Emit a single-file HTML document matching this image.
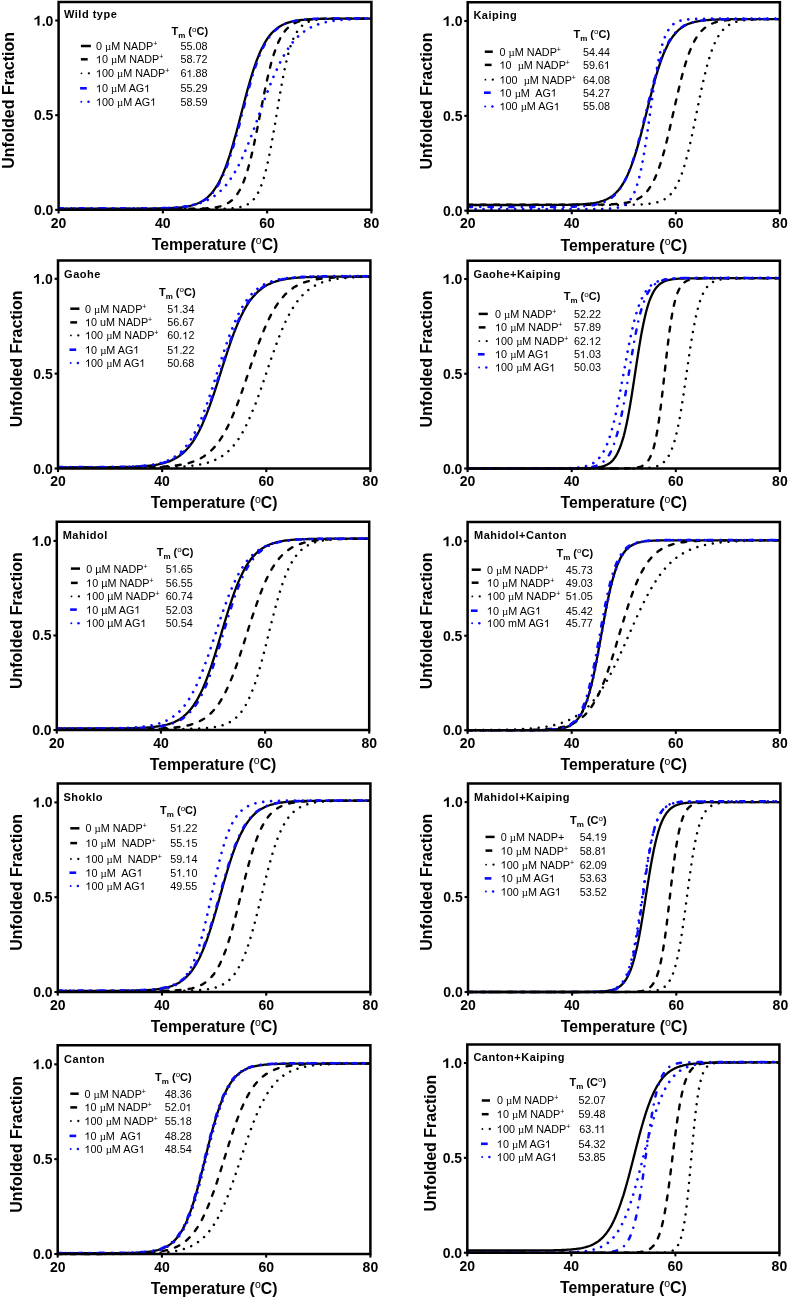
<!DOCTYPE html>
<html><head><meta charset="utf-8"><style>
html,body{margin:0;padding:0;background:#fff;overflow:hidden;}
svg{display:block;will-change:transform;}
text{font-family:"Liberation Sans", sans-serif;fill:#000;}
.tk{font-size:14px;font-weight:bold;}
.ax{font-size:15.8px;font-weight:bold;}
.ay{font-size:16px;font-weight:bold;}
.deg{font-size:10.5px;font-weight:normal;}
.ttl{font-size:11px;font-weight:bold;letter-spacing:0.5px;}
.hdr{font-size:11px;font-weight:bold;}
.sub{font-size:8px;}
.deg2{font-size:8px;font-weight:normal;}
.lg{font-size:10.8px;}
.sup{font-size:7px;}
.mu{font-family:"Liberation Serif",serif;}
.one{fill:transparent;}
</style></head>
<body><svg width="790" height="1299" viewBox="0 0 790 1299">
<rect width="790" height="1299" fill="#fff"/>
<clipPath id="c0"><rect x="58.60" y="2.00" width="312.80" height="209.85"/></clipPath>
<g clip-path="url(#c0)">
<polyline fill="none" stroke="#000" stroke-width="2.3" stroke-linecap="butt" stroke-linejoin="round" points="58.6,208.7 59.9,208.7 61.2,208.7 62.5,208.7 63.8,208.7 65.1,208.7 66.4,208.7 67.7,208.7 69.0,208.7 70.3,208.7 71.6,208.7 72.9,208.7 74.2,208.7 75.5,208.7 76.8,208.7 78.2,208.7 79.5,208.7 80.8,208.7 82.1,208.7 83.4,208.7 84.7,208.7 86.0,208.7 87.3,208.7 88.6,208.7 89.9,208.7 91.2,208.7 92.5,208.7 93.8,208.7 95.1,208.7 96.4,208.7 97.7,208.7 99.0,208.7 100.3,208.7 101.6,208.7 102.9,208.7 104.2,208.7 105.5,208.7 106.8,208.7 108.1,208.7 109.4,208.7 110.7,208.7 112.0,208.7 113.3,208.7 114.6,208.7 115.9,208.7 117.2,208.7 118.6,208.7 119.9,208.7 121.2,208.7 122.5,208.7 123.8,208.7 125.1,208.7 126.4,208.7 127.7,208.7 129.0,208.7 130.3,208.7 131.6,208.7 132.9,208.7 134.2,208.7 135.5,208.7 136.8,208.7 138.1,208.7 139.4,208.7 140.7,208.7 142.0,208.7 143.3,208.6 144.6,208.6 145.9,208.6 147.2,208.6 148.5,208.6 149.8,208.6 151.1,208.6 152.4,208.6 153.7,208.6 155.0,208.5 156.3,208.5 157.7,208.5 159.0,208.5 160.3,208.5 161.6,208.4 162.9,208.4 164.2,208.4 165.5,208.3 166.8,208.3 168.1,208.2 169.4,208.2 170.7,208.1 172.0,208.0 173.3,208.0 174.6,207.9 175.9,207.8 177.2,207.7 178.5,207.6 179.8,207.5 181.1,207.3 182.4,207.2 183.7,207.0 185.0,206.8 186.3,206.6 187.6,206.3 188.9,206.1 190.2,205.8 191.5,205.5 192.8,205.1 194.1,204.7 195.4,204.3 196.8,203.8 198.1,203.3 199.4,202.7 200.7,202.0 202.0,201.3 203.3,200.5 204.6,199.6 205.9,198.7 207.2,197.6 208.5,196.4 209.8,195.1 211.1,193.7 212.4,192.2 213.7,190.5 215.0,188.7 216.3,186.7 217.6,184.6 218.9,182.2 220.2,179.7 221.5,177.0 222.8,174.1 224.1,171.0 225.4,167.7 226.7,164.1 228.0,160.4 229.3,156.5 230.6,152.3 231.9,148.0 233.2,143.6 234.5,138.9 235.9,134.2 237.2,129.3 238.5,124.3 239.8,119.3 241.1,114.3 242.4,109.2 243.7,104.2 245.0,99.2 246.3,94.3 247.6,89.5 248.9,84.9 250.2,80.3 251.5,76.0 252.8,71.8 254.1,67.8 255.4,64.1 256.7,60.5 258.0,57.1 259.3,54.0 260.6,51.0 261.9,48.2 263.2,45.7 264.5,43.3 265.8,41.1 267.1,39.1 268.4,37.2 269.7,35.5 271.0,33.9 272.3,32.5 273.6,31.2 275.0,30.0 276.3,28.9 277.6,27.9 278.9,27.0 280.2,26.2 281.5,25.5 282.8,24.8 284.1,24.2 285.4,23.6 286.7,23.1 288.0,22.7 289.3,22.3 290.6,21.9 291.9,21.6 293.2,21.3 294.5,21.0 295.8,20.8 297.1,20.6 298.4,20.4 299.7,20.2 301.0,20.0 302.3,19.9 303.6,19.8 304.9,19.6 306.2,19.5 307.5,19.5 308.8,19.4 310.1,19.3 311.4,19.2 312.8,19.2 314.1,19.1 315.4,19.1 316.7,19.0 318.0,19.0 319.3,18.9 320.6,18.9 321.9,18.9 323.2,18.8 324.5,18.8 325.8,18.8 327.1,18.8 328.4,18.8 329.7,18.7 331.0,18.7 332.3,18.7 333.6,18.7 334.9,18.7 336.2,18.7 337.5,18.7 338.8,18.7 340.1,18.7 341.4,18.7 342.7,18.7 344.0,18.6 345.3,18.6 346.6,18.6 347.9,18.6 349.2,18.6 350.5,18.6 351.9,18.6 353.2,18.6 354.5,18.6 355.8,18.6 357.1,18.6 358.4,18.6 359.7,18.6 361.0,18.6 362.3,18.6 363.6,18.6 364.9,18.6 366.2,18.6 367.5,18.6 368.8,18.6 370.1,18.6 371.4,18.6"/>
<polyline fill="none" stroke="#000" stroke-width="2.4" stroke-linecap="round" stroke-linejoin="round" stroke-dasharray="4.9 8.2" points="58.6,208.9 59.9,208.9 61.2,208.9 62.5,208.9 63.8,208.9 65.1,208.9 66.4,208.9 67.7,208.9 69.0,208.9 70.3,208.9 71.6,208.9 72.9,208.9 74.2,208.9 75.5,208.9 76.8,208.9 78.2,208.9 79.5,208.9 80.8,208.9 82.1,208.9 83.4,208.9 84.7,208.9 86.0,208.9 87.3,208.9 88.6,208.9 89.9,208.9 91.2,208.9 92.5,208.9 93.8,208.9 95.1,208.9 96.4,208.9 97.7,208.9 99.0,208.9 100.3,208.9 101.6,208.9 102.9,208.9 104.2,208.9 105.5,208.9 106.8,208.9 108.1,208.9 109.4,208.9 110.7,208.9 112.0,208.9 113.3,208.9 114.6,208.9 115.9,208.9 117.2,208.9 118.6,208.9 119.9,208.9 121.2,208.9 122.5,208.9 123.8,208.9 125.1,208.9 126.4,208.9 127.7,208.9 129.0,208.9 130.3,208.9 131.6,208.9 132.9,208.9 134.2,208.9 135.5,208.9 136.8,208.9 138.1,208.9 139.4,208.9 140.7,208.9 142.0,208.9 143.3,208.9 144.6,208.9 145.9,208.9 147.2,208.9 148.5,208.9 149.8,208.9 151.1,208.9 152.4,208.9 153.7,208.9 155.0,208.9 156.3,208.9 157.7,208.9 159.0,208.9 160.3,208.9 161.6,208.9 162.9,208.9 164.2,208.9 165.5,208.9 166.8,208.9 168.1,208.9 169.4,208.9 170.7,208.9 172.0,208.9 173.3,208.9 174.6,208.9 175.9,208.9 177.2,208.9 178.5,208.9 179.8,208.9 181.1,208.9 182.4,208.9 183.7,208.9 185.0,208.8 186.3,208.8 187.6,208.8 188.9,208.8 190.2,208.8 191.5,208.8 192.8,208.8 194.1,208.7 195.4,208.7 196.8,208.7 198.1,208.7 199.4,208.6 200.7,208.6 202.0,208.5 203.3,208.5 204.6,208.4 205.9,208.4 207.2,208.3 208.5,208.2 209.8,208.1 211.1,208.0 212.4,207.8 213.7,207.6 215.0,207.5 216.3,207.2 217.6,207.0 218.9,206.7 220.2,206.4 221.5,206.0 222.8,205.6 224.1,205.1 225.4,204.5 226.7,203.9 228.0,203.1 229.3,202.3 230.6,201.3 231.9,200.3 233.2,199.0 234.5,197.6 235.9,196.0 237.2,194.2 238.5,192.2 239.8,190.0 241.1,187.4 242.4,184.6 243.7,181.5 245.0,178.0 246.3,174.2 247.6,170.0 248.9,165.5 250.2,160.6 251.5,155.4 252.8,149.8 254.1,143.9 255.4,137.8 256.7,131.5 258.0,124.9 259.3,118.3 260.6,111.6 261.9,105.0 263.2,98.4 264.5,92.0 265.8,85.7 267.1,79.8 268.4,74.1 269.7,68.7 271.0,63.7 272.3,59.1 273.6,54.8 275.0,50.8 276.3,47.3 277.6,44.0 278.9,41.1 280.2,38.4 281.5,36.1 282.8,34.0 284.1,32.1 285.4,30.4 286.7,29.0 288.0,27.7 289.3,26.5 290.6,25.5 291.9,24.7 293.2,23.9 294.5,23.2 295.8,22.6 297.1,22.1 298.4,21.7 299.7,21.3 301.0,20.9 302.3,20.6 303.6,20.4 304.9,20.1 306.2,19.9 307.5,19.8 308.8,19.6 310.1,19.5 311.4,19.4 312.8,19.3 314.1,19.2 315.4,19.1 316.7,19.0 318.0,19.0 319.3,18.9 320.6,18.9 321.9,18.9 323.2,18.8 324.5,18.8 325.8,18.8 327.1,18.7 328.4,18.7 329.7,18.7 331.0,18.7 332.3,18.7 333.6,18.7 334.9,18.7 336.2,18.7 337.5,18.7 338.8,18.6 340.1,18.6 341.4,18.6 342.7,18.6 344.0,18.6 345.3,18.6 346.6,18.6 347.9,18.6 349.2,18.6 350.5,18.6 351.9,18.6 353.2,18.6 354.5,18.6 355.8,18.6 357.1,18.6 358.4,18.6 359.7,18.6 361.0,18.6 362.3,18.6 363.6,18.6 364.9,18.6 366.2,18.6 367.5,18.6 368.8,18.6 370.1,18.6 371.4,18.6"/>
<polyline fill="none" stroke="#000" stroke-width="2.5" stroke-linecap="round" stroke-linejoin="round" stroke-dasharray="0.01 7.9" points="58.6,208.9 59.9,208.9 61.2,208.9 62.5,208.9 63.8,208.9 65.1,208.9 66.4,208.9 67.7,208.9 69.0,208.9 70.3,208.9 71.6,208.9 72.9,208.9 74.2,208.9 75.5,208.9 76.8,208.9 78.2,208.9 79.5,208.9 80.8,208.9 82.1,208.9 83.4,208.9 84.7,208.9 86.0,208.9 87.3,208.9 88.6,208.9 89.9,208.9 91.2,208.9 92.5,208.9 93.8,208.9 95.1,208.9 96.4,208.9 97.7,208.9 99.0,208.9 100.3,208.9 101.6,208.9 102.9,208.9 104.2,208.9 105.5,208.9 106.8,208.9 108.1,208.9 109.4,208.9 110.7,208.9 112.0,208.9 113.3,208.9 114.6,208.9 115.9,208.9 117.2,208.9 118.6,208.9 119.9,208.9 121.2,208.9 122.5,208.9 123.8,208.9 125.1,208.9 126.4,208.9 127.7,208.9 129.0,208.9 130.3,208.9 131.6,208.9 132.9,208.9 134.2,208.9 135.5,208.9 136.8,208.9 138.1,208.9 139.4,208.9 140.7,208.9 142.0,208.9 143.3,208.9 144.6,208.9 145.9,208.9 147.2,208.9 148.5,208.9 149.8,208.9 151.1,208.9 152.4,208.9 153.7,208.9 155.0,208.9 156.3,208.9 157.7,208.9 159.0,208.9 160.3,208.9 161.6,208.9 162.9,208.9 164.2,208.9 165.5,208.9 166.8,208.9 168.1,208.9 169.4,208.9 170.7,208.9 172.0,208.9 173.3,208.9 174.6,208.9 175.9,208.9 177.2,208.9 178.5,208.9 179.8,208.9 181.1,208.9 182.4,208.9 183.7,208.9 185.0,208.9 186.3,208.9 187.6,208.9 188.9,208.9 190.2,208.9 191.5,208.9 192.8,208.9 194.1,208.9 195.4,208.9 196.8,208.9 198.1,208.9 199.4,208.9 200.7,208.9 202.0,208.9 203.3,208.9 204.6,208.9 205.9,208.9 207.2,208.9 208.5,208.9 209.8,208.9 211.1,208.9 212.4,208.9 213.7,208.8 215.0,208.8 216.3,208.8 217.6,208.8 218.9,208.8 220.2,208.8 221.5,208.7 222.8,208.7 224.1,208.7 225.4,208.6 226.7,208.6 228.0,208.5 229.3,208.5 230.6,208.4 231.9,208.3 233.2,208.2 234.5,208.0 235.9,207.9 237.2,207.7 238.5,207.5 239.8,207.2 241.1,206.9 242.4,206.6 243.7,206.1 245.0,205.7 246.3,205.1 247.6,204.4 248.9,203.6 250.2,202.7 251.5,201.6 252.8,200.3 254.1,198.9 255.4,197.1 256.7,195.2 258.0,192.9 259.3,190.3 260.6,187.3 261.9,183.9 263.2,180.0 264.5,175.7 265.8,170.9 267.1,165.5 268.4,159.7 269.7,153.4 271.0,146.6 272.3,139.4 273.6,131.9 275.0,124.2 276.3,116.3 277.6,108.4 278.9,100.5 280.2,92.9 281.5,85.5 282.8,78.4 284.1,71.8 285.4,65.7 286.7,60.0 288.0,54.9 289.3,50.2 290.6,46.1 291.9,42.4 293.2,39.1 294.5,36.3 295.8,33.8 297.1,31.6 298.4,29.7 299.7,28.1 301.0,26.7 302.3,25.5 303.6,24.5 304.9,23.6 306.2,22.9 307.5,22.2 308.8,21.7 310.1,21.2 311.4,20.8 312.8,20.5 314.1,20.2 315.4,19.9 316.7,19.7 318.0,19.6 319.3,19.4 320.6,19.3 321.9,19.2 323.2,19.1 324.5,19.0 325.8,19.0 327.1,18.9 328.4,18.9 329.7,18.8 331.0,18.8 332.3,18.8 333.6,18.7 334.9,18.7 336.2,18.7 337.5,18.7 338.8,18.7 340.1,18.7 341.4,18.7 342.7,18.6 344.0,18.6 345.3,18.6 346.6,18.6 347.9,18.6 349.2,18.6 350.5,18.6 351.9,18.6 353.2,18.6 354.5,18.6 355.8,18.6 357.1,18.6 358.4,18.6 359.7,18.6 361.0,18.6 362.3,18.6 363.6,18.6 364.9,18.6 366.2,18.6 367.5,18.6 368.8,18.6 370.1,18.6 371.4,18.6"/>
<polyline fill="none" stroke="#0a0aff" stroke-width="2.5" stroke-linecap="round" stroke-linejoin="round" stroke-dasharray="4.3 8.25 0.01 8.25" points="58.6,208.3 59.9,208.3 61.2,208.3 62.5,208.3 63.8,208.3 65.1,208.3 66.4,208.3 67.7,208.3 69.0,208.3 70.3,208.3 71.6,208.3 72.9,208.3 74.2,208.3 75.5,208.3 76.8,208.3 78.2,208.3 79.5,208.3 80.8,208.3 82.1,208.3 83.4,208.3 84.7,208.3 86.0,208.3 87.3,208.3 88.6,208.3 89.9,208.3 91.2,208.3 92.5,208.3 93.8,208.3 95.1,208.3 96.4,208.3 97.7,208.3 99.0,208.3 100.3,208.3 101.6,208.3 102.9,208.3 104.2,208.3 105.5,208.3 106.8,208.3 108.1,208.3 109.4,208.3 110.7,208.3 112.0,208.3 113.3,208.3 114.6,208.3 115.9,208.3 117.2,208.3 118.6,208.3 119.9,208.3 121.2,208.3 122.5,208.3 123.8,208.3 125.1,208.3 126.4,208.3 127.7,208.3 129.0,208.3 130.3,208.3 131.6,208.3 132.9,208.3 134.2,208.3 135.5,208.3 136.8,208.3 138.1,208.3 139.4,208.3 140.7,208.3 142.0,208.3 143.3,208.3 144.6,208.3 145.9,208.3 147.2,208.3 148.5,208.2 149.8,208.2 151.1,208.2 152.4,208.2 153.7,208.2 155.0,208.2 156.3,208.2 157.7,208.1 159.0,208.1 160.3,208.1 161.6,208.1 162.9,208.0 164.2,208.0 165.5,208.0 166.8,207.9 168.1,207.9 169.4,207.8 170.7,207.8 172.0,207.7 173.3,207.7 174.6,207.6 175.9,207.5 177.2,207.4 178.5,207.3 179.8,207.2 181.1,207.1 182.4,206.9 183.7,206.8 185.0,206.6 186.3,206.4 187.6,206.2 188.9,205.9 190.2,205.7 191.5,205.4 192.8,205.0 194.1,204.7 195.4,204.3 196.8,203.8 198.1,203.3 199.4,202.8 200.7,202.2 202.0,201.5 203.3,200.8 204.6,200.0 205.9,199.1 207.2,198.1 208.5,197.0 209.8,195.9 211.1,194.6 212.4,193.1 213.7,191.6 215.0,189.9 216.3,188.0 217.6,186.0 218.9,183.8 220.2,181.5 221.5,178.9 222.8,176.2 224.1,173.2 225.4,170.1 226.7,166.7 228.0,163.2 229.3,159.4 230.6,155.4 231.9,151.3 233.2,146.9 234.5,142.4 235.9,137.8 237.2,133.0 238.5,128.1 239.8,123.2 241.1,118.1 242.4,113.1 243.7,108.0 245.0,103.0 246.3,98.0 247.6,93.2 248.9,88.4 250.2,83.8 251.5,79.3 252.8,74.9 254.1,70.8 255.4,66.9 256.7,63.1 258.0,59.6 259.3,56.2 260.6,53.1 261.9,50.2 263.2,47.4 264.5,44.9 265.8,42.6 267.1,40.4 268.4,38.4 269.7,36.5 271.0,34.9 272.3,33.3 273.6,31.9 275.0,30.6 276.3,29.4 277.6,28.4 278.9,27.4 280.2,26.5 281.5,25.7 282.8,25.0 284.1,24.3 285.4,23.7 286.7,23.2 288.0,22.7 289.3,22.3 290.6,21.9 291.9,21.5 293.2,21.2 294.5,20.9 295.8,20.6 297.1,20.4 298.4,20.2 299.7,20.0 301.0,19.8 302.3,19.6 303.6,19.5 304.9,19.4 306.2,19.3 307.5,19.2 308.8,19.1 310.1,19.0 311.4,18.9 312.8,18.8 314.1,18.8 315.4,18.7 316.7,18.7 318.0,18.6 319.3,18.6 320.6,18.5 321.9,18.5 323.2,18.5 324.5,18.5 325.8,18.4 327.1,18.4 328.4,18.4 329.7,18.4 331.0,18.4 332.3,18.4 333.6,18.3 334.9,18.3 336.2,18.3 337.5,18.3 338.8,18.3 340.1,18.3 341.4,18.3 342.7,18.3 344.0,18.3 345.3,18.3 346.6,18.3 347.9,18.3 349.2,18.3 350.5,18.3 351.9,18.3 353.2,18.3 354.5,18.2 355.8,18.2 357.1,18.2 358.4,18.2 359.7,18.2 361.0,18.2 362.3,18.2 363.6,18.2 364.9,18.2 366.2,18.2 367.5,18.2 368.8,18.2 370.1,18.2 371.4,18.2"/>
<polyline fill="none" stroke="#0a0aff" stroke-width="2.7" stroke-linecap="round" stroke-linejoin="round" stroke-dasharray="0.01 7.9" points="58.6,208.9 59.9,208.9 61.2,208.9 62.5,208.9 63.8,208.9 65.1,208.9 66.4,208.9 67.7,208.9 69.0,208.9 70.3,208.9 71.6,208.9 72.9,208.9 74.2,208.9 75.5,208.9 76.8,208.9 78.2,208.9 79.5,208.9 80.8,208.9 82.1,208.9 83.4,208.9 84.7,208.9 86.0,208.9 87.3,208.9 88.6,208.9 89.9,208.9 91.2,208.9 92.5,208.9 93.8,208.9 95.1,208.9 96.4,208.9 97.7,208.9 99.0,208.9 100.3,208.9 101.6,208.9 102.9,208.9 104.2,208.9 105.5,208.9 106.8,208.9 108.1,208.9 109.4,208.9 110.7,208.9 112.0,208.9 113.3,208.9 114.6,208.9 115.9,208.9 117.2,208.9 118.6,208.9 119.9,208.8 121.2,208.8 122.5,208.8 123.8,208.8 125.1,208.8 126.4,208.8 127.7,208.8 129.0,208.8 130.3,208.8 131.6,208.8 132.9,208.8 134.2,208.8 135.5,208.8 136.8,208.8 138.1,208.7 139.4,208.7 140.7,208.7 142.0,208.7 143.3,208.7 144.6,208.7 145.9,208.6 147.2,208.6 148.5,208.6 149.8,208.6 151.1,208.6 152.4,208.5 153.7,208.5 155.0,208.5 156.3,208.4 157.7,208.4 159.0,208.4 160.3,208.3 161.6,208.3 162.9,208.2 164.2,208.2 165.5,208.1 166.8,208.0 168.1,208.0 169.4,207.9 170.7,207.8 172.0,207.7 173.3,207.6 174.6,207.5 175.9,207.4 177.2,207.3 178.5,207.2 179.8,207.1 181.1,206.9 182.4,206.8 183.7,206.6 185.0,206.4 186.3,206.2 187.6,206.0 188.9,205.8 190.2,205.6 191.5,205.3 192.8,205.0 194.1,204.7 195.4,204.4 196.8,204.1 198.1,203.7 199.4,203.3 200.7,202.9 202.0,202.4 203.3,201.9 204.6,201.4 205.9,200.8 207.2,200.2 208.5,199.6 209.8,198.9 211.1,198.1 212.4,197.3 213.7,196.5 215.0,195.6 216.3,194.6 217.6,193.6 218.9,192.5 220.2,191.3 221.5,190.0 222.8,188.7 224.1,187.3 225.4,185.8 226.7,184.2 228.0,182.6 229.3,180.8 230.6,178.9 231.9,177.0 233.2,174.9 234.5,172.7 235.9,170.4 237.2,168.1 238.5,165.6 239.8,163.0 241.1,160.3 242.4,157.5 243.7,154.6 245.0,151.6 246.3,148.5 247.6,145.4 248.9,142.1 250.2,138.8 251.5,135.4 252.8,132.0 254.1,128.5 255.4,124.9 256.7,121.3 258.0,117.8 259.3,114.1 260.6,110.5 261.9,106.9 263.2,103.3 264.5,99.8 265.8,96.3 267.1,92.8 268.4,89.4 269.7,86.1 271.0,82.8 272.3,79.6 273.6,76.5 275.0,73.5 276.3,70.5 277.6,67.7 278.9,65.0 280.2,62.4 281.5,59.8 282.8,57.4 284.1,55.1 285.4,52.9 286.7,50.8 288.0,48.8 289.3,46.9 290.6,45.1 291.9,43.4 293.2,41.8 294.5,40.3 295.8,38.9 297.1,37.5 298.4,36.2 299.7,35.0 301.0,33.9 302.3,32.9 303.6,31.9 304.9,30.9 306.2,30.1 307.5,29.3 308.8,28.5 310.1,27.8 311.4,27.1 312.8,26.5 314.1,25.9 315.4,25.4 316.7,24.9 318.0,24.4 319.3,24.0 320.6,23.6 321.9,23.2 323.2,22.8 324.5,22.5 325.8,22.2 327.1,21.9 328.4,21.6 329.7,21.4 331.0,21.2 332.3,21.0 333.6,20.8 334.9,20.6 336.2,20.4 337.5,20.3 338.8,20.1 340.1,20.0 341.4,19.8 342.7,19.7 344.0,19.6 345.3,19.5 346.6,19.4 347.9,19.3 349.2,19.3 350.5,19.2 351.9,19.1 353.2,19.0 354.5,19.0 355.8,18.9 357.1,18.9 358.4,18.8 359.7,18.8 361.0,18.8 362.3,18.7 363.6,18.7 364.9,18.6 366.2,18.6 367.5,18.6 368.8,18.6 370.1,18.5 371.4,18.5"/>
</g>
<path d="M58.60,209.85 V2.00 H371.40 V209.85 Z" fill="none" stroke="#000" stroke-width="2.5"/>
<line x1="55.20" y1="209.85" x2="58.60" y2="209.85" stroke="#000" stroke-width="2.1"/>
<text x="53.40" y="214.85" text-anchor="end" class="tk">0.0</text>
<line x1="55.20" y1="115.17" x2="58.60" y2="115.17" stroke="#000" stroke-width="2.1"/>
<text x="53.40" y="120.17" text-anchor="end" class="tk">0.5</text>
<line x1="55.20" y1="20.50" x2="58.60" y2="20.50" stroke="#000" stroke-width="2.1"/>
<text x="53.40" y="25.50" text-anchor="end" class="tk"><tspan class="one">1</tspan>.0</text>
<line x1="58.60" y1="209.85" x2="58.60" y2="213.45" stroke="#000" stroke-width="2.1"/>
<text x="58.60" y="227.65" text-anchor="middle" class="tk">20</text>
<line x1="162.87" y1="209.85" x2="162.87" y2="213.45" stroke="#000" stroke-width="2.1"/>
<text x="162.87" y="227.65" text-anchor="middle" class="tk">40</text>
<line x1="267.13" y1="209.85" x2="267.13" y2="213.45" stroke="#000" stroke-width="2.1"/>
<text x="267.13" y="227.65" text-anchor="middle" class="tk">60</text>
<line x1="371.40" y1="209.85" x2="371.40" y2="213.45" stroke="#000" stroke-width="2.1"/>
<text x="371.40" y="227.65" text-anchor="middle" class="tk">80</text>
<text x="215.00" y="249.75" text-anchor="middle" class="ax">Temperature (<tspan class="deg" dy="-5.5">o</tspan><tspan dy="5.5">C)</tspan></text>
<text transform="translate(14.40,100.38) rotate(-90)" text-anchor="middle" class="ay">Unfolded Fraction</text>
<text x="64.00" y="17.80" class="ttl">Wild type</text>
<text x="208.10" y="35.00" text-anchor="end" class="hdr">T<tspan class="sub" dy="3">m</tspan><tspan dy="-3"> (</tspan><tspan class="deg2" dy="-3.5">o</tspan><tspan dy="3.5">C)</tspan></text>
<line x1="80.90" y1="46.00" x2="90.90" y2="46.00" stroke="#000" stroke-width="2.5"/>
<text x="96.00" y="49.90" class="lg" xml:space="preserve">0 <tspan class="mu">µ</tspan>M NADP<tspan class="sup" dy="-4">+</tspan></text>
<text x="207.60" y="49.90" text-anchor="end" class="lg">55.08</text>
<line x1="80.90" y1="59.30" x2="87.70" y2="59.30" stroke="#000" stroke-width="2.5"/>
<text x="96.00" y="63.20" class="lg" xml:space="preserve"><tspan class="one">1</tspan>0 <tspan class="mu">µ</tspan>M NADP<tspan class="sup" dy="-4">+</tspan></text>
<text x="207.60" y="63.20" text-anchor="end" class="lg">58.72</text>
<circle cx="81.50" cy="73.30" r="0.9" fill="#000"/><circle cx="88.90" cy="73.30" r="1.15" fill="#000"/>
<text x="96.00" y="77.20" class="lg" xml:space="preserve"><tspan class="one">1</tspan>00 <tspan class="mu">µ</tspan>M NADP<tspan class="sup" dy="-4">+</tspan></text>
<text x="207.60" y="77.20" text-anchor="end" class="lg">6<tspan class="one">1</tspan>.88</text>
<line x1="80.10" y1="88.30" x2="86.80" y2="88.30" stroke="#0a0aff" stroke-width="2.6"/>
<text x="96.00" y="92.20" class="lg" xml:space="preserve"><tspan class="one">1</tspan>0 <tspan class="mu">µ</tspan>M AG<tspan class="one">1</tspan></text>
<text x="207.60" y="92.20" text-anchor="end" class="lg">55.29</text>
<circle cx="81.30" cy="101.80" r="1.0" fill="#0a0aff"/><circle cx="88.50" cy="101.80" r="1.25" fill="#0a0aff"/>
<text x="96.00" y="105.70" class="lg" xml:space="preserve"><tspan class="one">1</tspan>00 <tspan class="mu">µ</tspan>M AG<tspan class="one">1</tspan></text>
<text x="207.60" y="105.70" text-anchor="end" class="lg">58.59</text>
<clipPath id="c1"><rect x="467.70" y="2.20" width="312.20" height="210.45"/></clipPath>
<g clip-path="url(#c1)">
<polyline fill="none" stroke="#000" stroke-width="2.3" stroke-linecap="butt" stroke-linejoin="round" points="467.7,205.0 469.0,205.0 470.3,205.0 471.6,205.0 472.9,205.0 474.2,205.0 475.5,205.0 476.8,205.0 478.1,205.0 479.4,205.0 480.7,205.0 482.0,205.0 483.3,205.0 484.6,205.0 485.9,205.0 487.2,205.0 488.5,205.0 489.8,205.0 491.1,205.0 492.4,205.0 493.7,205.0 495.0,205.0 496.3,205.0 497.6,205.0 498.9,205.0 500.2,205.0 501.5,205.0 502.8,205.0 504.1,205.0 505.4,205.0 506.7,205.0 508.0,205.0 509.3,205.0 510.6,205.0 511.9,205.0 513.2,205.0 514.5,205.0 515.8,205.0 517.1,205.0 518.4,205.0 519.7,205.0 521.0,205.0 522.3,205.0 523.6,205.0 524.9,205.0 526.2,205.0 527.5,205.0 528.8,205.0 530.1,205.0 531.4,205.0 532.7,205.0 534.0,204.9 535.3,204.9 536.6,204.9 537.9,204.9 539.2,204.9 540.5,204.9 541.8,204.9 543.1,204.9 544.4,204.9 545.8,204.9 547.1,204.9 548.4,204.9 549.7,204.9 551.0,204.9 552.3,204.9 553.6,204.9 554.9,204.9 556.2,204.9 557.5,204.9 558.8,204.9 560.1,204.9 561.4,204.8 562.7,204.8 564.0,204.8 565.3,204.8 566.6,204.8 567.9,204.8 569.2,204.7 570.5,204.7 571.8,204.7 573.1,204.6 574.4,204.6 575.7,204.6 577.0,204.5 578.3,204.5 579.6,204.4 580.9,204.3 582.2,204.3 583.5,204.2 584.8,204.1 586.1,204.0 587.4,203.9 588.7,203.7 590.0,203.6 591.3,203.4 592.6,203.3 593.9,203.1 595.2,202.8 596.5,202.6 597.8,202.3 599.1,202.0 600.4,201.6 601.7,201.2 603.0,200.8 604.3,200.3 605.6,199.8 606.9,199.2 608.2,198.5 609.5,197.8 610.8,197.0 612.1,196.1 613.4,195.1 614.7,194.0 616.0,192.7 617.3,191.4 618.6,189.9 619.9,188.3 621.2,186.5 622.5,184.5 623.8,182.4 625.1,180.0 626.4,177.5 627.7,174.8 629.0,171.8 630.3,168.6 631.6,165.2 632.9,161.6 634.2,157.7 635.5,153.6 636.8,149.4 638.1,144.9 639.4,140.2 640.7,135.4 642.0,130.4 643.3,125.3 644.6,120.2 645.9,115.0 647.2,109.7 648.5,104.5 649.8,99.3 651.1,94.3 652.4,89.3 653.7,84.4 655.0,79.7 656.3,75.2 657.6,70.9 658.9,66.8 660.2,62.9 661.5,59.3 662.8,55.8 664.1,52.6 665.4,49.7 666.7,46.9 668.0,44.3 669.3,42.0 670.6,39.8 671.9,37.8 673.2,36.0 674.5,34.4 675.8,32.9 677.1,31.5 678.4,30.2 679.7,29.1 681.0,28.1 682.3,27.2 683.6,26.4 684.9,25.6 686.2,24.9 687.5,24.3 688.8,23.8 690.1,23.3 691.4,22.9 692.7,22.5 694.0,22.1 695.3,21.8 696.6,21.5 697.9,21.3 699.2,21.0 700.5,20.8 701.8,20.7 703.2,20.5 704.5,20.3 705.8,20.2 707.1,20.1 708.4,20.0 709.7,19.9 711.0,19.8 712.3,19.7 713.6,19.7 714.9,19.6 716.2,19.6 717.5,19.5 718.8,19.5 720.1,19.4 721.4,19.4 722.7,19.4 724.0,19.3 725.3,19.3 726.6,19.3 727.9,19.3 729.2,19.3 730.5,19.2 731.8,19.2 733.1,19.2 734.4,19.2 735.7,19.2 737.0,19.2 738.3,19.2 739.6,19.2 740.9,19.2 742.2,19.2 743.5,19.1 744.8,19.1 746.1,19.1 747.4,19.1 748.7,19.1 750.0,19.1 751.3,19.1 752.6,19.1 753.9,19.1 755.2,19.1 756.5,19.1 757.8,19.1 759.1,19.1 760.4,19.1 761.7,19.1 763.0,19.1 764.3,19.1 765.6,19.1 766.9,19.1 768.2,19.1 769.5,19.1 770.8,19.1 772.1,19.1 773.4,19.1 774.7,19.1 776.0,19.1 777.3,19.1 778.6,19.1 779.9,19.1"/>
<polyline fill="none" stroke="#000" stroke-width="2.4" stroke-linecap="round" stroke-linejoin="round" stroke-dasharray="4.9 8.2" points="467.7,204.8 469.0,204.8 470.3,204.8 471.6,204.8 472.9,204.8 474.2,204.8 475.5,204.8 476.8,204.8 478.1,204.8 479.4,204.8 480.7,204.8 482.0,204.8 483.3,204.8 484.6,204.8 485.9,204.8 487.2,204.8 488.5,204.8 489.8,204.8 491.1,204.8 492.4,204.8 493.7,204.8 495.0,204.8 496.3,204.8 497.6,204.8 498.9,204.8 500.2,204.8 501.5,204.8 502.8,204.8 504.1,204.8 505.4,204.8 506.7,204.8 508.0,204.8 509.3,204.8 510.6,204.8 511.9,204.8 513.2,204.8 514.5,204.8 515.8,204.8 517.1,204.8 518.4,204.8 519.7,204.8 521.0,204.8 522.3,204.8 523.6,204.8 524.9,204.8 526.2,204.8 527.5,204.8 528.8,204.8 530.1,204.8 531.4,204.8 532.7,204.8 534.0,204.8 535.3,204.8 536.6,204.8 537.9,204.8 539.2,204.8 540.5,204.8 541.8,204.8 543.1,204.8 544.4,204.8 545.8,204.8 547.1,204.8 548.4,204.8 549.7,204.8 551.0,204.8 552.3,204.8 553.6,204.8 554.9,204.8 556.2,204.8 557.5,204.8 558.8,204.8 560.1,204.8 561.4,204.8 562.7,204.8 564.0,204.8 565.3,204.8 566.6,204.8 567.9,204.8 569.2,204.8 570.5,204.8 571.8,204.8 573.1,204.8 574.4,204.8 575.7,204.8 577.0,204.8 578.3,204.8 579.6,204.7 580.9,204.7 582.2,204.7 583.5,204.7 584.8,204.7 586.1,204.7 587.4,204.7 588.7,204.7 590.0,204.7 591.3,204.7 592.6,204.7 593.9,204.7 595.2,204.7 596.5,204.7 597.8,204.6 599.1,204.6 600.4,204.6 601.7,204.6 603.0,204.6 604.3,204.5 605.6,204.5 606.9,204.5 608.2,204.4 609.5,204.4 610.8,204.3 612.1,204.3 613.4,204.2 614.7,204.1 616.0,204.0 617.3,203.9 618.6,203.8 619.9,203.7 621.2,203.6 622.5,203.4 623.8,203.2 625.1,203.0 626.4,202.8 627.7,202.5 629.0,202.2 630.3,201.9 631.6,201.5 632.9,201.1 634.2,200.6 635.5,200.1 636.8,199.5 638.1,198.8 639.4,198.0 640.7,197.2 642.0,196.2 643.3,195.1 644.6,193.9 645.9,192.6 647.2,191.1 648.5,189.4 649.8,187.5 651.1,185.5 652.4,183.2 653.7,180.7 655.0,178.0 656.3,175.0 657.6,171.7 658.9,168.2 660.2,164.4 661.5,160.3 662.8,155.9 664.1,151.3 665.4,146.4 666.7,141.3 668.0,136.0 669.3,130.5 670.6,124.8 671.9,119.1 673.2,113.3 674.5,107.5 675.8,101.8 677.1,96.1 678.4,90.5 679.7,85.1 681.0,79.9 682.3,74.9 683.6,70.1 684.9,65.6 686.2,61.4 687.5,57.5 688.8,53.8 690.1,50.4 691.4,47.3 692.7,44.4 694.0,41.8 695.3,39.4 696.6,37.3 697.9,35.3 699.2,33.6 700.5,32.0 701.8,30.6 703.2,29.3 704.5,28.2 705.8,27.1 707.1,26.2 708.4,25.4 709.7,24.7 711.0,24.1 712.3,23.5 713.6,23.0 714.9,22.5 716.2,22.1 717.5,21.8 718.8,21.5 720.1,21.2 721.4,21.0 722.7,20.7 724.0,20.6 725.3,20.4 726.6,20.2 727.9,20.1 729.2,20.0 730.5,19.9 731.8,19.8 733.1,19.7 734.4,19.6 735.7,19.6 737.0,19.5 738.3,19.5 739.6,19.4 740.9,19.4 742.2,19.4 743.5,19.3 744.8,19.3 746.1,19.3 747.4,19.3 748.7,19.2 750.0,19.2 751.3,19.2 752.6,19.2 753.9,19.2 755.2,19.2 756.5,19.2 757.8,19.2 759.1,19.2 760.4,19.1 761.7,19.1 763.0,19.1 764.3,19.1 765.6,19.1 766.9,19.1 768.2,19.1 769.5,19.1 770.8,19.1 772.1,19.1 773.4,19.1 774.7,19.1 776.0,19.1 777.3,19.1 778.6,19.1 779.9,19.1"/>
<polyline fill="none" stroke="#000" stroke-width="2.5" stroke-linecap="round" stroke-linejoin="round" stroke-dasharray="0.01 7.9" points="467.7,205.0 469.0,205.0 470.3,205.0 471.6,205.0 472.9,205.0 474.2,205.0 475.5,205.0 476.8,205.0 478.1,205.0 479.4,205.0 480.7,205.0 482.0,205.0 483.3,205.0 484.6,205.0 485.9,205.0 487.2,205.0 488.5,205.0 489.8,205.0 491.1,205.0 492.4,205.0 493.7,205.0 495.0,205.0 496.3,205.0 497.6,205.0 498.9,205.0 500.2,205.0 501.5,205.0 502.8,205.0 504.1,205.0 505.4,205.0 506.7,205.0 508.0,205.0 509.3,205.0 510.6,205.0 511.9,205.0 513.2,205.0 514.5,205.0 515.8,205.0 517.1,205.0 518.4,205.0 519.7,205.0 521.0,205.0 522.3,205.0 523.6,205.0 524.9,205.0 526.2,205.0 527.5,205.0 528.8,205.0 530.1,205.0 531.4,205.0 532.7,205.0 534.0,205.0 535.3,205.0 536.6,205.0 537.9,205.0 539.2,205.0 540.5,205.0 541.8,205.0 543.1,205.0 544.4,205.0 545.8,205.0 547.1,205.0 548.4,205.0 549.7,205.0 551.0,205.0 552.3,205.0 553.6,205.0 554.9,205.0 556.2,205.0 557.5,205.0 558.8,205.0 560.1,205.0 561.4,205.0 562.7,205.0 564.0,205.0 565.3,205.0 566.6,205.0 567.9,205.0 569.2,205.0 570.5,205.0 571.8,205.0 573.1,205.0 574.4,205.0 575.7,205.0 577.0,205.0 578.3,205.0 579.6,205.0 580.9,205.0 582.2,205.0 583.5,205.0 584.8,205.0 586.1,205.0 587.4,205.0 588.7,205.0 590.0,205.0 591.3,205.0 592.6,205.0 593.9,205.0 595.2,205.0 596.5,205.0 597.8,205.0 599.1,205.0 600.4,205.0 601.7,205.0 603.0,205.0 604.3,205.0 605.6,204.9 606.9,204.9 608.2,204.9 609.5,204.9 610.8,204.9 612.1,204.9 613.4,204.9 614.7,204.9 616.0,204.9 617.3,204.9 618.6,204.9 619.9,204.9 621.2,204.9 622.5,204.9 623.8,204.9 625.1,204.9 626.4,204.9 627.7,204.8 629.0,204.8 630.3,204.8 631.6,204.8 632.9,204.8 634.2,204.7 635.5,204.7 636.8,204.7 638.1,204.6 639.4,204.6 640.7,204.5 642.0,204.4 643.3,204.3 644.6,204.3 645.9,204.2 647.2,204.0 648.5,203.9 649.8,203.7 651.1,203.6 652.4,203.3 653.7,203.1 655.0,202.8 656.3,202.5 657.6,202.2 658.9,201.8 660.2,201.3 661.5,200.8 662.8,200.1 664.1,199.5 665.4,198.7 666.7,197.8 668.0,196.7 669.3,195.6 670.6,194.3 671.9,192.8 673.2,191.1 674.5,189.2 675.8,187.1 677.1,184.7 678.4,182.0 679.7,179.1 681.0,175.8 682.3,172.3 683.6,168.4 684.9,164.1 686.2,159.5 687.5,154.6 688.8,149.3 690.1,143.7 691.4,137.9 692.7,131.9 694.0,125.6 695.3,119.2 696.6,112.8 697.9,106.4 699.2,100.0 700.5,93.7 701.8,87.6 703.2,81.7 704.5,76.1 705.8,70.7 707.1,65.7 708.4,61.0 709.7,56.7 711.0,52.7 712.3,49.0 713.6,45.7 714.9,42.7 716.2,40.0 717.5,37.6 718.8,35.4 720.1,33.4 721.4,31.7 722.7,30.2 724.0,28.8 725.3,27.6 726.6,26.5 727.9,25.6 729.2,24.8 730.5,24.1 731.8,23.4 733.1,22.9 734.4,22.4 735.7,22.0 737.0,21.6 738.3,21.3 739.6,21.0 740.9,20.8 742.2,20.6 743.5,20.4 744.8,20.2 746.1,20.1 747.4,19.9 748.7,19.8 750.0,19.7 751.3,19.7 752.6,19.6 753.9,19.5 755.2,19.5 756.5,19.4 757.8,19.4 759.1,19.3 760.4,19.3 761.7,19.3 763.0,19.3 764.3,19.2 765.6,19.2 766.9,19.2 768.2,19.2 769.5,19.2 770.8,19.2 772.1,19.2 773.4,19.2 774.7,19.1 776.0,19.1 777.3,19.1 778.6,19.1 779.9,19.1"/>
<polyline fill="none" stroke="#0a0aff" stroke-width="2.5" stroke-linecap="round" stroke-linejoin="round" stroke-dasharray="4.3 8.25 0.01 8.25" points="467.7,207.0 469.0,207.0 470.3,207.0 471.6,207.0 472.9,207.0 474.2,207.0 475.5,207.0 476.8,207.0 478.1,207.0 479.4,207.0 480.7,207.0 482.0,207.0 483.3,207.0 484.6,207.0 485.9,207.0 487.2,207.0 488.5,207.0 489.8,207.0 491.1,207.0 492.4,207.0 493.7,207.0 495.0,207.0 496.3,207.0 497.6,207.0 498.9,207.0 500.2,207.0 501.5,207.0 502.8,207.0 504.1,207.0 505.4,207.0 506.7,207.0 508.0,207.0 509.3,207.0 510.6,207.0 511.9,207.0 513.2,207.0 514.5,207.0 515.8,207.0 517.1,207.0 518.4,207.0 519.7,207.0 521.0,207.0 522.3,207.0 523.6,207.0 524.9,207.0 526.2,207.0 527.5,207.0 528.8,207.0 530.1,207.0 531.4,207.0 532.7,207.0 534.0,207.0 535.3,207.0 536.6,207.0 537.9,207.0 539.2,207.0 540.5,207.0 541.8,207.0 543.1,207.0 544.4,207.0 545.8,207.0 547.1,207.0 548.4,207.0 549.7,207.0 551.0,207.0 552.3,207.0 553.6,207.0 554.9,207.0 556.2,207.0 557.5,207.0 558.8,206.9 560.1,206.9 561.4,206.9 562.7,206.9 564.0,206.9 565.3,206.9 566.6,206.8 567.9,206.8 569.2,206.8 570.5,206.8 571.8,206.7 573.1,206.7 574.4,206.7 575.7,206.6 577.0,206.6 578.3,206.5 579.6,206.4 580.9,206.4 582.2,206.3 583.5,206.2 584.8,206.1 586.1,206.0 587.4,205.9 588.7,205.7 590.0,205.6 591.3,205.4 592.6,205.2 593.9,205.0 595.2,204.7 596.5,204.4 597.8,204.1 599.1,203.8 600.4,203.4 601.7,203.0 603.0,202.5 604.3,202.0 605.6,201.4 606.9,200.8 608.2,200.0 609.5,199.2 610.8,198.4 612.1,197.4 613.4,196.3 614.7,195.1 616.0,193.8 617.3,192.3 618.6,190.7 619.9,188.9 621.2,187.0 622.5,184.9 623.8,182.6 625.1,180.1 626.4,177.4 627.7,174.5 629.0,171.4 630.3,168.0 631.6,164.4 632.9,160.6 634.2,156.5 635.5,152.2 636.8,147.8 638.1,143.1 639.4,138.3 640.7,133.3 642.0,128.2 643.3,123.0 644.6,117.7 645.9,112.4 647.2,107.2 648.5,101.9 649.8,96.7 651.1,91.7 652.4,86.7 653.7,81.9 655.0,77.3 656.3,72.9 657.6,68.7 658.9,64.7 660.2,60.9 661.5,57.3 662.8,54.0 664.1,50.9 665.4,48.1 666.7,45.4 668.0,43.0 669.3,40.7 670.6,38.7 671.9,36.8 673.2,35.0 674.5,33.5 675.8,32.1 677.1,30.8 678.4,29.6 679.7,28.5 681.0,27.6 682.3,26.7 683.6,25.9 684.9,25.2 686.2,24.6 687.5,24.0 688.8,23.5 690.1,23.0 691.4,22.6 692.7,22.3 694.0,21.9 695.3,21.6 696.6,21.4 697.9,21.1 699.2,20.9 700.5,20.7 701.8,20.6 703.2,20.4 704.5,20.3 705.8,20.1 707.1,20.0 708.4,19.9 709.7,19.8 711.0,19.8 712.3,19.7 713.6,19.6 714.9,19.6 716.2,19.5 717.5,19.5 718.8,19.4 720.1,19.4 721.4,19.4 722.7,19.3 724.0,19.3 725.3,19.3 726.6,19.3 727.9,19.3 729.2,19.2 730.5,19.2 731.8,19.2 733.1,19.2 734.4,19.2 735.7,19.2 737.0,19.2 738.3,19.2 739.6,19.2 740.9,19.2 742.2,19.1 743.5,19.1 744.8,19.1 746.1,19.1 747.4,19.1 748.7,19.1 750.0,19.1 751.3,19.1 752.6,19.1 753.9,19.1 755.2,19.1 756.5,19.1 757.8,19.1 759.1,19.1 760.4,19.1 761.7,19.1 763.0,19.1 764.3,19.1 765.6,19.1 766.9,19.1 768.2,19.1 769.5,19.1 770.8,19.1 772.1,19.1 773.4,19.1 774.7,19.1 776.0,19.1 777.3,19.1 778.6,19.1 779.9,19.1"/>
<polyline fill="none" stroke="#0a0aff" stroke-width="2.7" stroke-linecap="round" stroke-linejoin="round" stroke-dasharray="0.01 7.9" points="467.7,209.1 469.0,209.1 470.3,209.1 471.6,209.1 472.9,209.1 474.2,209.1 475.5,209.1 476.8,209.1 478.1,209.1 479.4,209.1 480.7,209.1 482.0,209.1 483.3,209.1 484.6,209.1 485.9,209.1 487.2,209.1 488.5,209.1 489.8,209.1 491.1,209.1 492.4,209.1 493.7,209.1 495.0,209.1 496.3,209.1 497.6,209.1 498.9,209.1 500.2,209.1 501.5,209.1 502.8,209.1 504.1,209.1 505.4,209.1 506.7,209.1 508.0,209.1 509.3,209.1 510.6,209.1 511.9,209.1 513.2,209.1 514.5,209.1 515.8,209.1 517.1,209.1 518.4,209.1 519.7,209.1 521.0,209.1 522.3,209.1 523.6,209.1 524.9,209.1 526.2,209.1 527.5,209.1 528.8,209.1 530.1,209.1 531.4,209.1 532.7,209.1 534.0,209.1 535.3,209.1 536.6,209.1 537.9,209.1 539.2,209.1 540.5,209.1 541.8,209.1 543.1,209.1 544.4,209.1 545.8,209.1 547.1,209.1 548.4,209.1 549.7,209.1 551.0,209.1 552.3,209.1 553.6,209.1 554.9,209.1 556.2,209.1 557.5,209.1 558.8,209.1 560.1,209.1 561.4,209.1 562.7,209.1 564.0,209.1 565.3,209.1 566.6,209.1 567.9,209.1 569.2,209.1 570.5,209.1 571.8,209.1 573.1,209.1 574.4,209.1 575.7,209.1 577.0,209.1 578.3,209.1 579.6,209.1 580.9,209.1 582.2,209.1 583.5,209.1 584.8,209.1 586.1,209.1 587.4,209.1 588.7,209.1 590.0,209.1 591.3,209.1 592.6,209.1 593.9,209.1 595.2,209.1 596.5,209.1 597.8,209.1 599.1,209.0 600.4,209.0 601.7,209.0 603.0,209.0 604.3,208.9 605.6,208.9 606.9,208.8 608.2,208.8 609.5,208.7 610.8,208.6 612.1,208.5 613.4,208.4 614.7,208.2 616.0,208.0 617.3,207.7 618.6,207.4 619.9,207.1 621.2,206.6 622.5,206.1 623.8,205.5 625.1,204.7 626.4,203.8 627.7,202.6 629.0,201.3 630.3,199.7 631.6,197.8 632.9,195.5 634.2,192.8 635.5,189.7 636.8,186.0 638.1,181.7 639.4,176.8 640.7,171.2 642.0,164.9 643.3,157.9 644.6,150.3 645.9,142.1 647.2,133.4 648.5,124.3 649.8,115.0 651.1,105.8 652.4,96.6 653.7,87.8 655.0,79.5 656.3,71.7 657.6,64.6 658.9,58.1 660.2,52.4 661.5,47.3 662.8,42.9 664.1,39.0 665.4,35.8 666.7,33.0 668.0,30.6 669.3,28.6 670.6,26.9 671.9,25.5 673.2,24.3 674.5,23.4 675.8,22.6 677.1,21.9 678.4,21.3 679.7,20.9 681.0,20.5 682.3,20.2 683.6,19.9 684.9,19.7 686.2,19.5 687.5,19.4 688.8,19.3 690.1,19.2 691.4,19.1 692.7,19.0 694.0,19.0 695.3,18.9 696.6,18.9 697.9,18.9 699.2,18.8 700.5,18.8 701.8,18.8 703.2,18.8 704.5,18.8 705.8,18.8 707.1,18.8 708.4,18.8 709.7,18.7 711.0,18.7 712.3,18.7 713.6,18.7 714.9,18.7 716.2,18.7 717.5,18.7 718.8,18.7 720.1,18.7 721.4,18.7 722.7,18.7 724.0,18.7 725.3,18.7 726.6,18.7 727.9,18.7 729.2,18.7 730.5,18.7 731.8,18.7 733.1,18.7 734.4,18.7 735.7,18.7 737.0,18.7 738.3,18.7 739.6,18.7 740.9,18.7 742.2,18.7 743.5,18.7 744.8,18.7 746.1,18.7 747.4,18.7 748.7,18.7 750.0,18.7 751.3,18.7 752.6,18.7 753.9,18.7 755.2,18.7 756.5,18.7 757.8,18.7 759.1,18.7 760.4,18.7 761.7,18.7 763.0,18.7 764.3,18.7 765.6,18.7 766.9,18.7 768.2,18.7 769.5,18.7 770.8,18.7 772.1,18.7 773.4,18.7 774.7,18.7 776.0,18.7 777.3,18.7 778.6,18.7 779.9,18.7"/>
</g>
<path d="M467.70,210.65 V2.20 H779.90 V210.65 Z" fill="none" stroke="#000" stroke-width="2.5"/>
<line x1="464.30" y1="210.65" x2="467.70" y2="210.65" stroke="#000" stroke-width="2.1"/>
<text x="462.50" y="215.65" text-anchor="end" class="tk">0.0</text>
<line x1="464.30" y1="115.83" x2="467.70" y2="115.83" stroke="#000" stroke-width="2.1"/>
<text x="462.50" y="120.83" text-anchor="end" class="tk">0.5</text>
<line x1="464.30" y1="21.00" x2="467.70" y2="21.00" stroke="#000" stroke-width="2.1"/>
<text x="462.50" y="26.00" text-anchor="end" class="tk"><tspan class="one">1</tspan>.0</text>
<line x1="467.70" y1="210.65" x2="467.70" y2="214.25" stroke="#000" stroke-width="2.1"/>
<text x="467.70" y="228.45" text-anchor="middle" class="tk">20</text>
<line x1="571.77" y1="210.65" x2="571.77" y2="214.25" stroke="#000" stroke-width="2.1"/>
<text x="571.77" y="228.45" text-anchor="middle" class="tk">40</text>
<line x1="675.83" y1="210.65" x2="675.83" y2="214.25" stroke="#000" stroke-width="2.1"/>
<text x="675.83" y="228.45" text-anchor="middle" class="tk">60</text>
<line x1="779.90" y1="210.65" x2="779.90" y2="214.25" stroke="#000" stroke-width="2.1"/>
<text x="779.90" y="228.45" text-anchor="middle" class="tk">80</text>
<text x="623.80" y="250.55" text-anchor="middle" class="ax">Temperature (<tspan class="deg" dy="-5.5">o</tspan><tspan dy="5.5">C)</tspan></text>
<text transform="translate(432.00,101.03) rotate(-90)" text-anchor="middle" class="ay">Unfolded Fraction</text>
<text x="473.40" y="19.10" class="ttl">Kaiping</text>
<text x="610.10" y="37.50" text-anchor="end" class="hdr">T<tspan class="sub" dy="3">m</tspan><tspan dy="-3"> (</tspan><tspan class="deg2" dy="-3.5">o</tspan><tspan dy="3.5">C)</tspan></text>
<line x1="484.80" y1="51.70" x2="492.80" y2="51.70" stroke="#000" stroke-width="2.5"/>
<text x="499.60" y="55.60" class="lg" xml:space="preserve">0 <tspan class="mu">µ</tspan>M NADP<tspan class="sup" dy="-4">+</tspan></text>
<text x="610.10" y="55.60" text-anchor="end" class="lg">54.44</text>
<line x1="484.80" y1="64.90" x2="491.60" y2="64.90" stroke="#000" stroke-width="2.5"/>
<text x="499.60" y="68.80" class="lg" xml:space="preserve"><tspan class="one">1</tspan>0  <tspan class="mu">µ</tspan>M NADP<tspan class="sup" dy="-4">+</tspan></text>
<text x="610.10" y="68.80" text-anchor="end" class="lg">59.6<tspan class="one">1</tspan></text>
<circle cx="485.40" cy="79.70" r="0.9" fill="#000"/><circle cx="492.80" cy="79.70" r="1.15" fill="#000"/>
<text x="499.60" y="83.60" class="lg" xml:space="preserve"><tspan class="one">1</tspan>00  <tspan class="mu">µ</tspan>M NADP<tspan class="sup" dy="-4">+</tspan></text>
<text x="610.10" y="83.60" text-anchor="end" class="lg">64.08</text>
<line x1="484.00" y1="92.70" x2="490.70" y2="92.70" stroke="#0a0aff" stroke-width="2.6"/>
<text x="499.60" y="96.60" class="lg" xml:space="preserve"><tspan class="one">1</tspan>0 <tspan class="mu">µ</tspan>M  AG<tspan class="one">1</tspan></text>
<text x="610.10" y="96.60" text-anchor="end" class="lg">54.27</text>
<circle cx="485.20" cy="106.40" r="1.0" fill="#0a0aff"/><circle cx="492.40" cy="106.40" r="1.25" fill="#0a0aff"/>
<text x="499.60" y="110.30" class="lg" xml:space="preserve"><tspan class="one">1</tspan>00 <tspan class="mu">µ</tspan>M AG<tspan class="one">1</tspan></text>
<text x="610.10" y="110.30" text-anchor="end" class="lg">55.08</text>
<clipPath id="c2"><rect x="58.00" y="260.60" width="312.40" height="209.90"/></clipPath>
<g clip-path="url(#c2)">
<polyline fill="none" stroke="#000" stroke-width="2.3" stroke-linecap="butt" stroke-linejoin="round" points="58.0,467.4 59.3,467.4 60.6,467.4 61.9,467.4 63.2,467.4 64.5,467.4 65.8,467.4 67.1,467.4 68.4,467.4 69.7,467.4 71.0,467.4 72.3,467.4 73.6,467.4 74.9,467.3 76.2,467.3 77.5,467.3 78.8,467.3 80.1,467.3 81.4,467.3 82.7,467.3 84.0,467.3 85.3,467.3 86.6,467.3 87.9,467.3 89.2,467.3 90.5,467.3 91.8,467.3 93.1,467.3 94.4,467.3 95.7,467.3 97.0,467.3 98.4,467.3 99.7,467.3 101.0,467.3 102.3,467.3 103.6,467.3 104.9,467.3 106.2,467.3 107.5,467.3 108.8,467.2 110.1,467.2 111.4,467.2 112.7,467.2 114.0,467.2 115.3,467.2 116.6,467.2 117.9,467.2 119.2,467.1 120.5,467.1 121.8,467.1 123.1,467.1 124.4,467.0 125.7,467.0 127.0,467.0 128.3,466.9 129.6,466.9 130.9,466.9 132.2,466.8 133.5,466.8 134.8,466.7 136.1,466.7 137.4,466.6 138.7,466.5 140.0,466.5 141.3,466.4 142.6,466.3 143.9,466.2 145.2,466.1 146.5,466.0 147.8,465.9 149.1,465.7 150.4,465.6 151.7,465.4 153.0,465.3 154.3,465.1 155.6,464.9 156.9,464.6 158.2,464.4 159.5,464.1 160.8,463.9 162.1,463.5 163.4,463.2 164.7,462.8 166.0,462.5 167.3,462.0 168.6,461.6 169.9,461.1 171.2,460.5 172.5,459.9 173.8,459.3 175.1,458.6 176.5,457.8 177.8,457.0 179.1,456.1 180.4,455.2 181.7,454.2 183.0,453.1 184.3,451.9 185.6,450.6 186.9,449.3 188.2,447.8 189.5,446.2 190.8,444.5 192.1,442.8 193.4,440.8 194.7,438.8 196.0,436.7 197.3,434.4 198.6,432.0 199.9,429.4 201.2,426.7 202.5,423.9 203.8,420.9 205.1,417.8 206.4,414.6 207.7,411.2 209.0,407.8 210.3,404.2 211.6,400.5 212.9,396.7 214.2,392.8 215.5,388.9 216.8,384.9 218.1,380.8 219.4,376.7 220.7,372.6 222.0,368.5 223.3,364.4 224.6,360.3 225.9,356.3 227.2,352.3 228.5,348.4 229.8,344.6 231.1,340.9 232.4,337.2 233.7,333.7 235.0,330.3 236.3,327.1 237.6,323.9 238.9,320.9 240.2,318.1 241.5,315.3 242.8,312.7 244.1,310.3 245.4,307.9 246.7,305.7 248.0,303.7 249.3,301.7 250.6,299.9 251.9,298.2 253.2,296.6 254.6,295.1 255.9,293.7 257.2,292.4 258.5,291.2 259.8,290.1 261.1,289.0 262.4,288.0 263.7,287.1 265.0,286.3 266.3,285.5 267.6,284.8 268.9,284.2 270.2,283.6 271.5,283.0 272.8,282.5 274.1,282.0 275.4,281.6 276.7,281.2 278.0,280.8 279.3,280.4 280.6,280.1 281.9,279.8 283.2,279.6 284.5,279.3 285.8,279.1 287.1,278.9 288.4,278.7 289.7,278.5 291.0,278.3 292.3,278.2 293.6,278.1 294.9,277.9 296.2,277.8 297.5,277.7 298.8,277.6 300.1,277.5 301.4,277.4 302.7,277.4 304.0,277.3 305.3,277.2 306.6,277.2 307.9,277.1 309.2,277.1 310.5,277.0 311.8,277.0 313.1,276.9 314.4,276.9 315.7,276.9 317.0,276.9 318.3,276.8 319.6,276.8 320.9,276.8 322.2,276.8 323.5,276.7 324.8,276.7 326.1,276.7 327.4,276.7 328.7,276.7 330.0,276.7 331.3,276.7 332.7,276.6 334.0,276.6 335.3,276.6 336.6,276.6 337.9,276.6 339.2,276.6 340.5,276.6 341.8,276.6 343.1,276.6 344.4,276.6 345.7,276.6 347.0,276.6 348.3,276.6 349.6,276.6 350.9,276.6 352.2,276.6 353.5,276.6 354.8,276.6 356.1,276.5 357.4,276.5 358.7,276.5 360.0,276.5 361.3,276.5 362.6,276.5 363.9,276.5 365.2,276.5 366.5,276.5 367.8,276.5 369.1,276.5 370.4,276.5"/>
<polyline fill="none" stroke="#000" stroke-width="2.4" stroke-linecap="round" stroke-linejoin="round" stroke-dasharray="4.9 8.2" points="58.0,467.6 59.3,467.5 60.6,467.5 61.9,467.5 63.2,467.5 64.5,467.5 65.8,467.5 67.1,467.5 68.4,467.5 69.7,467.5 71.0,467.5 72.3,467.5 73.6,467.5 74.9,467.5 76.2,467.5 77.5,467.5 78.8,467.5 80.1,467.5 81.4,467.5 82.7,467.5 84.0,467.5 85.3,467.5 86.6,467.5 87.9,467.5 89.2,467.5 90.5,467.5 91.8,467.5 93.1,467.5 94.4,467.5 95.7,467.5 97.0,467.5 98.4,467.5 99.7,467.5 101.0,467.5 102.3,467.5 103.6,467.5 104.9,467.5 106.2,467.5 107.5,467.5 108.8,467.5 110.1,467.5 111.4,467.5 112.7,467.5 114.0,467.5 115.3,467.5 116.6,467.5 117.9,467.5 119.2,467.5 120.5,467.5 121.8,467.5 123.1,467.5 124.4,467.5 125.7,467.5 127.0,467.4 128.3,467.4 129.6,467.4 130.9,467.4 132.2,467.4 133.5,467.4 134.8,467.4 136.1,467.4 137.4,467.4 138.7,467.3 140.0,467.3 141.3,467.3 142.6,467.3 143.9,467.3 145.2,467.2 146.5,467.2 147.8,467.2 149.1,467.2 150.4,467.1 151.7,467.1 153.0,467.0 154.3,467.0 155.6,467.0 156.9,466.9 158.2,466.8 159.5,466.8 160.8,466.7 162.1,466.7 163.4,466.6 164.7,466.5 166.0,466.4 167.3,466.3 168.6,466.2 169.9,466.1 171.2,466.0 172.5,465.9 173.8,465.7 175.1,465.6 176.5,465.4 177.8,465.2 179.1,465.0 180.4,464.8 181.7,464.6 183.0,464.3 184.3,464.1 185.6,463.8 186.9,463.5 188.2,463.2 189.5,462.8 190.8,462.4 192.1,462.0 193.4,461.5 194.7,461.0 196.0,460.5 197.3,460.0 198.6,459.3 199.9,458.7 201.2,458.0 202.5,457.2 203.8,456.4 205.1,455.5 206.4,454.6 207.7,453.6 209.0,452.5 210.3,451.3 211.6,450.1 212.9,448.8 214.2,447.4 215.5,445.9 216.8,444.3 218.1,442.6 219.4,440.8 220.7,438.8 222.0,436.8 223.3,434.7 224.6,432.4 225.9,430.1 227.2,427.6 228.5,425.0 229.8,422.2 231.1,419.4 232.4,416.4 233.7,413.3 235.0,410.2 236.3,406.9 237.6,403.5 238.9,400.0 240.2,396.4 241.5,392.8 242.8,389.1 244.1,385.4 245.4,381.6 246.7,377.7 248.0,373.9 249.3,370.0 250.6,366.2 251.9,362.4 253.2,358.6 254.6,354.8 255.9,351.1 257.2,347.5 258.5,343.9 259.8,340.5 261.1,337.1 262.4,333.8 263.7,330.6 265.0,327.5 266.3,324.6 267.6,321.7 268.9,319.0 270.2,316.4 271.5,313.9 272.8,311.6 274.1,309.3 275.4,307.2 276.7,305.2 278.0,303.2 279.3,301.4 280.6,299.8 281.9,298.2 283.2,296.7 284.5,295.2 285.8,293.9 287.1,292.7 288.4,291.5 289.7,290.5 291.0,289.5 292.3,288.5 293.6,287.6 294.9,286.8 296.2,286.1 297.5,285.4 298.8,284.7 300.1,284.1 301.4,283.5 302.7,283.0 304.0,282.5 305.3,282.1 306.6,281.7 307.9,281.3 309.2,280.9 310.5,280.6 311.8,280.3 313.1,280.0 314.4,279.7 315.7,279.5 317.0,279.2 318.3,279.0 319.6,278.8 320.9,278.7 322.2,278.5 323.5,278.4 324.8,278.2 326.1,278.1 327.4,278.0 328.7,277.9 330.0,277.7 331.3,277.7 332.7,277.6 334.0,277.5 335.3,277.4 336.6,277.3 337.9,277.3 339.2,277.2 340.5,277.2 341.8,277.1 343.1,277.1 344.4,277.0 345.7,277.0 347.0,277.0 348.3,276.9 349.6,276.9 350.9,276.9 352.2,276.8 353.5,276.8 354.8,276.8 356.1,276.8 357.4,276.8 358.7,276.7 360.0,276.7 361.3,276.7 362.6,276.7 363.9,276.7 365.2,276.7 366.5,276.7 367.8,276.6 369.1,276.6 370.4,276.6"/>
<polyline fill="none" stroke="#000" stroke-width="2.5" stroke-linecap="round" stroke-linejoin="round" stroke-dasharray="0.01 7.9" points="58.0,467.6 59.3,467.6 60.6,467.6 61.9,467.6 63.2,467.6 64.5,467.6 65.8,467.6 67.1,467.6 68.4,467.6 69.7,467.6 71.0,467.6 72.3,467.6 73.6,467.6 74.9,467.6 76.2,467.6 77.5,467.5 78.8,467.5 80.1,467.5 81.4,467.5 82.7,467.5 84.0,467.5 85.3,467.5 86.6,467.5 87.9,467.5 89.2,467.5 90.5,467.5 91.8,467.5 93.1,467.5 94.4,467.5 95.7,467.5 97.0,467.5 98.4,467.5 99.7,467.5 101.0,467.5 102.3,467.5 103.6,467.5 104.9,467.5 106.2,467.5 107.5,467.5 108.8,467.5 110.1,467.5 111.4,467.5 112.7,467.5 114.0,467.5 115.3,467.5 116.6,467.5 117.9,467.5 119.2,467.5 120.5,467.5 121.8,467.5 123.1,467.5 124.4,467.5 125.7,467.5 127.0,467.5 128.3,467.5 129.6,467.5 130.9,467.5 132.2,467.5 133.5,467.5 134.8,467.5 136.1,467.5 137.4,467.5 138.7,467.5 140.0,467.5 141.3,467.5 142.6,467.5 143.9,467.5 145.2,467.4 146.5,467.4 147.8,467.4 149.1,467.4 150.4,467.4 151.7,467.4 153.0,467.4 154.3,467.4 155.6,467.4 156.9,467.3 158.2,467.3 159.5,467.3 160.8,467.3 162.1,467.3 163.4,467.2 164.7,467.2 166.0,467.2 167.3,467.1 168.6,467.1 169.9,467.1 171.2,467.0 172.5,467.0 173.8,466.9 175.1,466.9 176.5,466.8 177.8,466.8 179.1,466.7 180.4,466.6 181.7,466.6 183.0,466.5 184.3,466.4 185.6,466.3 186.9,466.2 188.2,466.1 189.5,466.0 190.8,465.8 192.1,465.7 193.4,465.5 194.7,465.4 196.0,465.2 197.3,465.0 198.6,464.8 199.9,464.5 201.2,464.3 202.5,464.0 203.8,463.7 205.1,463.4 206.4,463.1 207.7,462.7 209.0,462.3 210.3,461.9 211.6,461.4 212.9,460.9 214.2,460.4 215.5,459.8 216.8,459.2 218.1,458.5 219.4,457.8 220.7,457.1 222.0,456.2 223.3,455.3 224.6,454.4 225.9,453.4 227.2,452.3 228.5,451.1 229.8,449.8 231.1,448.5 232.4,447.1 233.7,445.5 235.0,443.9 236.3,442.2 237.6,440.4 238.9,438.4 240.2,436.4 241.5,434.2 242.8,432.0 244.1,429.6 245.4,427.1 246.7,424.4 248.0,421.7 249.3,418.8 250.6,415.8 251.9,412.7 253.2,409.5 254.6,406.2 255.9,402.8 257.2,399.3 258.5,395.7 259.8,392.1 261.1,388.4 262.4,384.6 263.7,380.8 265.0,377.0 266.3,373.1 267.6,369.3 268.9,365.4 270.2,361.6 271.5,357.8 272.8,354.1 274.1,350.4 275.4,346.8 276.7,343.2 278.0,339.8 279.3,336.4 280.6,333.1 281.9,330.0 283.2,326.9 284.5,324.0 285.8,321.2 287.1,318.5 288.4,315.9 289.7,313.4 291.0,311.1 292.3,308.9 293.6,306.8 294.9,304.8 296.2,302.9 297.5,301.1 298.8,299.4 300.1,297.8 301.4,296.4 302.7,295.0 304.0,293.7 305.3,292.5 306.6,291.3 307.9,290.3 309.2,289.3 310.5,288.3 311.8,287.5 313.1,286.7 314.4,285.9 315.7,285.2 317.0,284.6 318.3,284.0 319.6,283.4 320.9,282.9 322.2,282.4 323.5,282.0 324.8,281.6 326.1,281.2 327.4,280.8 328.7,280.5 330.0,280.2 331.3,279.9 332.7,279.7 334.0,279.4 335.3,279.2 336.6,279.0 337.9,278.8 339.2,278.6 340.5,278.5 341.8,278.3 343.1,278.2 344.4,278.1 345.7,277.9 347.0,277.8 348.3,277.7 349.6,277.6 350.9,277.6 352.2,277.5 353.5,277.4 354.8,277.3 356.1,277.3 357.4,277.2 358.7,277.2 360.0,277.1 361.3,277.1 362.6,277.0 363.9,277.0 365.2,276.9 366.5,276.9 367.8,276.9 369.1,276.9 370.4,276.8"/>
<polyline fill="none" stroke="#0a0aff" stroke-width="2.5" stroke-linecap="round" stroke-linejoin="round" stroke-dasharray="4.3 8.25 0.01 8.25" points="58.0,467.0 59.3,467.0 60.6,467.0 61.9,467.0 63.2,467.0 64.5,467.0 65.8,467.0 67.1,467.0 68.4,467.0 69.7,467.0 71.0,467.0 72.3,467.0 73.6,467.0 74.9,467.0 76.2,467.0 77.5,467.0 78.8,467.0 80.1,467.0 81.4,467.0 82.7,467.0 84.0,467.0 85.3,467.0 86.6,467.0 87.9,467.0 89.2,466.9 90.5,466.9 91.8,466.9 93.1,466.9 94.4,466.9 95.7,466.9 97.0,466.9 98.4,466.9 99.7,466.9 101.0,466.9 102.3,466.9 103.6,466.9 104.9,466.9 106.2,466.9 107.5,466.9 108.8,466.9 110.1,466.9 111.4,466.8 112.7,466.8 114.0,466.8 115.3,466.8 116.6,466.8 117.9,466.8 119.2,466.7 120.5,466.7 121.8,466.7 123.1,466.7 124.4,466.7 125.7,466.6 127.0,466.6 128.3,466.6 129.6,466.5 130.9,466.5 132.2,466.4 133.5,466.4 134.8,466.3 136.1,466.3 137.4,466.2 138.7,466.1 140.0,466.1 141.3,466.0 142.6,465.9 143.9,465.8 145.2,465.7 146.5,465.6 147.8,465.4 149.1,465.3 150.4,465.1 151.7,465.0 153.0,464.8 154.3,464.6 155.6,464.4 156.9,464.2 158.2,463.9 159.5,463.6 160.8,463.3 162.1,463.0 163.4,462.7 164.7,462.3 166.0,461.9 167.3,461.4 168.6,460.9 169.9,460.4 171.2,459.8 172.5,459.2 173.8,458.6 175.1,457.8 176.5,457.1 177.8,456.2 179.1,455.3 180.4,454.3 181.7,453.3 183.0,452.1 184.3,450.9 185.6,449.6 186.9,448.2 188.2,446.7 189.5,445.1 190.8,443.3 192.1,441.5 193.4,439.5 194.7,437.4 196.0,435.2 197.3,432.9 198.6,430.4 199.9,427.7 201.2,425.0 202.5,422.1 203.8,419.1 205.1,415.9 206.4,412.6 207.7,409.2 209.0,405.7 210.3,402.0 211.6,398.3 212.9,394.5 214.2,390.6 215.5,386.6 216.8,382.5 218.1,378.5 219.4,374.4 220.7,370.2 222.0,366.1 223.3,362.1 224.6,358.0 225.9,354.0 227.2,350.1 228.5,346.2 229.8,342.4 231.1,338.7 232.4,335.2 233.7,331.7 235.0,328.4 236.3,325.2 237.6,322.1 238.9,319.2 240.2,316.4 241.5,313.7 242.8,311.2 244.1,308.8 245.4,306.5 246.7,304.4 248.0,302.3 249.3,300.5 250.6,298.7 251.9,297.0 253.2,295.5 254.6,294.0 255.9,292.7 257.2,291.4 258.5,290.3 259.8,289.2 261.1,288.2 262.4,287.2 263.7,286.4 265.0,285.6 266.3,284.8 267.6,284.1 268.9,283.5 270.2,282.9 271.5,282.4 272.8,281.9 274.1,281.4 275.4,281.0 276.7,280.6 278.0,280.2 279.3,279.9 280.6,279.6 281.9,279.3 283.2,279.1 284.5,278.8 285.8,278.6 287.1,278.4 288.4,278.2 289.7,278.0 291.0,277.9 292.3,277.8 293.6,277.6 294.9,277.5 296.2,277.4 297.5,277.3 298.8,277.2 300.1,277.1 301.4,277.0 302.7,277.0 304.0,276.9 305.3,276.8 306.6,276.8 307.9,276.7 309.2,276.7 310.5,276.6 311.8,276.6 313.1,276.6 314.4,276.5 315.7,276.5 317.0,276.5 318.3,276.4 319.6,276.4 320.9,276.4 322.2,276.4 323.5,276.3 324.8,276.3 326.1,276.3 327.4,276.3 328.7,276.3 330.0,276.3 331.3,276.3 332.7,276.3 334.0,276.2 335.3,276.2 336.6,276.2 337.9,276.2 339.2,276.2 340.5,276.2 341.8,276.2 343.1,276.2 344.4,276.2 345.7,276.2 347.0,276.2 348.3,276.2 349.6,276.2 350.9,276.2 352.2,276.2 353.5,276.2 354.8,276.2 356.1,276.2 357.4,276.2 358.7,276.2 360.0,276.2 361.3,276.2 362.6,276.2 363.9,276.2 365.2,276.2 366.5,276.2 367.8,276.2 369.1,276.2 370.4,276.2"/>
<polyline fill="none" stroke="#0a0aff" stroke-width="2.7" stroke-linecap="round" stroke-linejoin="round" stroke-dasharray="0.01 7.9" points="58.0,467.4 59.3,467.4 60.6,467.4 61.9,467.4 63.2,467.4 64.5,467.4 65.8,467.4 67.1,467.4 68.4,467.4 69.7,467.4 71.0,467.4 72.3,467.3 73.6,467.3 74.9,467.3 76.2,467.3 77.5,467.3 78.8,467.3 80.1,467.3 81.4,467.3 82.7,467.3 84.0,467.3 85.3,467.3 86.6,467.3 87.9,467.3 89.2,467.3 90.5,467.3 91.8,467.3 93.1,467.3 94.4,467.3 95.7,467.3 97.0,467.3 98.4,467.3 99.7,467.3 101.0,467.3 102.3,467.3 103.6,467.3 104.9,467.3 106.2,467.2 107.5,467.2 108.8,467.2 110.1,467.2 111.4,467.2 112.7,467.2 114.0,467.2 115.3,467.1 116.6,467.1 117.9,467.1 119.2,467.1 120.5,467.1 121.8,467.0 123.1,467.0 124.4,467.0 125.7,466.9 127.0,466.9 128.3,466.8 129.6,466.8 130.9,466.7 132.2,466.7 133.5,466.6 134.8,466.6 136.1,466.5 137.4,466.4 138.7,466.3 140.0,466.2 141.3,466.1 142.6,466.0 143.9,465.9 145.2,465.8 146.5,465.6 147.8,465.5 149.1,465.3 150.4,465.1 151.7,464.9 153.0,464.7 154.3,464.5 155.6,464.2 156.9,464.0 158.2,463.7 159.5,463.3 160.8,463.0 162.1,462.6 163.4,462.2 164.7,461.7 166.0,461.2 167.3,460.7 168.6,460.1 169.9,459.5 171.2,458.8 172.5,458.1 173.8,457.3 175.1,456.4 176.5,455.5 177.8,454.5 179.1,453.4 180.4,452.3 181.7,451.1 183.0,449.7 184.3,448.3 185.6,446.8 186.9,445.1 188.2,443.4 189.5,441.5 190.8,439.5 192.1,437.4 193.4,435.1 194.7,432.8 196.0,430.3 197.3,427.6 198.6,424.8 199.9,421.9 201.2,418.9 202.5,415.7 203.8,412.4 205.1,408.9 206.4,405.4 207.7,401.7 209.0,397.9 210.3,394.1 211.6,390.1 212.9,386.1 214.2,382.1 215.5,378.0 216.8,373.9 218.1,369.8 219.4,365.7 220.7,361.6 222.0,357.5 223.3,353.5 224.6,349.6 225.9,345.7 227.2,342.0 228.5,338.3 229.8,334.7 231.1,331.3 232.4,328.0 233.7,324.8 235.0,321.7 236.3,318.8 237.6,316.0 238.9,313.3 240.2,310.8 241.5,308.4 242.8,306.2 244.1,304.1 245.4,302.1 246.7,300.2 248.0,298.5 249.3,296.8 250.6,295.3 251.9,293.8 253.2,292.5 254.6,291.3 255.9,290.1 257.2,289.0 258.5,288.0 259.8,287.1 261.1,286.2 262.4,285.5 263.7,284.7 265.0,284.0 266.3,283.4 267.6,282.8 268.9,282.3 270.2,281.8 271.5,281.4 272.8,280.9 274.1,280.5 275.4,280.2 276.7,279.9 278.0,279.6 279.3,279.3 280.6,279.0 281.9,278.8 283.2,278.6 284.5,278.4 285.8,278.2 287.1,278.0 288.4,277.9 289.7,277.7 291.0,277.6 292.3,277.5 293.6,277.4 294.9,277.3 296.2,277.2 297.5,277.1 298.8,277.0 300.1,276.9 301.4,276.9 302.7,276.8 304.0,276.8 305.3,276.7 306.6,276.7 307.9,276.6 309.2,276.6 310.5,276.5 311.8,276.5 313.1,276.5 314.4,276.5 315.7,276.4 317.0,276.4 318.3,276.4 319.6,276.4 320.9,276.3 322.2,276.3 323.5,276.3 324.8,276.3 326.1,276.3 327.4,276.3 328.7,276.3 330.0,276.3 331.3,276.2 332.7,276.2 334.0,276.2 335.3,276.2 336.6,276.2 337.9,276.2 339.2,276.2 340.5,276.2 341.8,276.2 343.1,276.2 344.4,276.2 345.7,276.2 347.0,276.2 348.3,276.2 349.6,276.2 350.9,276.2 352.2,276.2 353.5,276.2 354.8,276.2 356.1,276.2 357.4,276.2 358.7,276.2 360.0,276.2 361.3,276.2 362.6,276.2 363.9,276.2 365.2,276.2 366.5,276.2 367.8,276.2 369.1,276.2 370.4,276.2"/>
</g>
<path d="M58.00,468.50 V260.60 H370.40 V468.50 Z" fill="none" stroke="#000" stroke-width="2.5"/>
<line x1="54.60" y1="468.50" x2="58.00" y2="468.50" stroke="#000" stroke-width="2.1"/>
<text x="52.80" y="473.50" text-anchor="end" class="tk">0.0</text>
<line x1="54.60" y1="373.65" x2="58.00" y2="373.65" stroke="#000" stroke-width="2.1"/>
<text x="52.80" y="378.65" text-anchor="end" class="tk">0.5</text>
<line x1="54.60" y1="278.80" x2="58.00" y2="278.80" stroke="#000" stroke-width="2.1"/>
<text x="52.80" y="283.80" text-anchor="end" class="tk"><tspan class="one">1</tspan>.0</text>
<line x1="58.00" y1="468.50" x2="58.00" y2="472.10" stroke="#000" stroke-width="2.1"/>
<text x="58.00" y="486.30" text-anchor="middle" class="tk">20</text>
<line x1="162.13" y1="468.50" x2="162.13" y2="472.10" stroke="#000" stroke-width="2.1"/>
<text x="162.13" y="486.30" text-anchor="middle" class="tk">40</text>
<line x1="266.27" y1="468.50" x2="266.27" y2="472.10" stroke="#000" stroke-width="2.1"/>
<text x="266.27" y="486.30" text-anchor="middle" class="tk">60</text>
<line x1="370.40" y1="468.50" x2="370.40" y2="472.10" stroke="#000" stroke-width="2.1"/>
<text x="370.40" y="486.30" text-anchor="middle" class="tk">80</text>
<text x="214.20" y="508.40" text-anchor="middle" class="ax">Temperature (<tspan class="deg" dy="-5.5">o</tspan><tspan dy="5.5">C)</tspan></text>
<text transform="translate(22.00,358.85) rotate(-90)" text-anchor="middle" class="ay">Unfolded Fraction</text>
<text x="64.10" y="277.50" class="ttl">Gaohe</text>
<text x="195.60" y="295.70" text-anchor="end" class="hdr">T<tspan class="sub" dy="3">m</tspan><tspan dy="-3"> (</tspan><tspan class="deg2" dy="-3.5">o</tspan><tspan dy="3.5">C)</tspan></text>
<line x1="70.30" y1="308.70" x2="79.40" y2="308.70" stroke="#000" stroke-width="2.5"/>
<text x="85.10" y="312.60" class="lg" xml:space="preserve">0 <tspan class="mu">µ</tspan>M NADP<tspan class="sup" dy="-4">+</tspan></text>
<text x="194.40" y="312.60" text-anchor="end" class="lg">5<tspan class="one">1</tspan>.34</text>
<line x1="70.30" y1="322.40" x2="77.10" y2="322.40" stroke="#000" stroke-width="2.5"/>
<text x="85.10" y="326.30" class="lg" xml:space="preserve"><tspan class="one">1</tspan>0 uM NADP<tspan class="sup" dy="-4">+</tspan></text>
<text x="194.40" y="326.30" text-anchor="end" class="lg">56.67</text>
<circle cx="70.90" cy="335.40" r="0.9" fill="#000"/><circle cx="78.30" cy="335.40" r="1.15" fill="#000"/>
<text x="85.10" y="339.30" class="lg" xml:space="preserve"><tspan class="one">1</tspan>00 <tspan class="mu">µ</tspan>M NADP<tspan class="sup" dy="-4">+</tspan></text>
<text x="194.40" y="339.30" text-anchor="end" class="lg">60.<tspan class="one">1</tspan>2</text>
<line x1="69.50" y1="349.70" x2="76.20" y2="349.70" stroke="#0a0aff" stroke-width="2.6"/>
<text x="85.10" y="353.60" class="lg" xml:space="preserve"><tspan class="one">1</tspan>0 <tspan class="mu">µ</tspan>M AG<tspan class="one">1</tspan></text>
<text x="194.40" y="353.60" text-anchor="end" class="lg">5<tspan class="one">1</tspan>.22</text>
<circle cx="70.70" cy="362.90" r="1.0" fill="#0a0aff"/><circle cx="77.90" cy="362.90" r="1.25" fill="#0a0aff"/>
<text x="85.10" y="366.80" class="lg" xml:space="preserve"><tspan class="one">1</tspan>00 <tspan class="mu">µ</tspan>M AG<tspan class="one">1</tspan></text>
<text x="194.40" y="366.80" text-anchor="end" class="lg">50.68</text>
<clipPath id="c3"><rect x="467.60" y="260.70" width="312.30" height="209.80"/></clipPath>
<g clip-path="url(#c3)">
<polyline fill="none" stroke="#000" stroke-width="2.3" stroke-linecap="butt" stroke-linejoin="round" points="467.6,468.5 468.9,468.5 470.2,468.5 471.5,468.5 472.8,468.5 474.1,468.5 475.4,468.5 476.7,468.5 478.0,468.5 479.3,468.5 480.6,468.5 481.9,468.5 483.2,468.5 484.5,468.5 485.8,468.5 487.1,468.5 488.4,468.5 489.7,468.5 491.0,468.5 492.3,468.5 493.6,468.5 494.9,468.5 496.2,468.5 497.5,468.5 498.8,468.5 500.1,468.5 501.4,468.5 502.7,468.5 504.0,468.5 505.3,468.5 506.6,468.5 507.9,468.5 509.2,468.5 510.5,468.5 511.8,468.5 513.1,468.5 514.4,468.5 515.7,468.5 517.0,468.5 518.3,468.5 519.6,468.5 521.0,468.5 522.3,468.5 523.6,468.5 524.9,468.5 526.2,468.5 527.5,468.5 528.8,468.5 530.1,468.5 531.4,468.5 532.7,468.5 534.0,468.5 535.3,468.5 536.6,468.5 537.9,468.5 539.2,468.5 540.5,468.5 541.8,468.5 543.1,468.5 544.4,468.5 545.7,468.5 547.0,468.5 548.3,468.5 549.6,468.5 550.9,468.5 552.2,468.5 553.5,468.5 554.8,468.5 556.1,468.5 557.4,468.5 558.7,468.5 560.0,468.5 561.3,468.5 562.6,468.5 563.9,468.5 565.2,468.5 566.5,468.5 567.8,468.5 569.1,468.5 570.4,468.5 571.7,468.5 573.0,468.5 574.3,468.5 575.6,468.5 576.9,468.4 578.2,468.4 579.5,468.4 580.8,468.4 582.1,468.4 583.4,468.4 584.7,468.3 586.0,468.3 587.3,468.3 588.6,468.2 589.9,468.1 591.2,468.1 592.5,468.0 593.8,467.9 595.1,467.8 596.4,467.6 597.7,467.5 599.0,467.2 600.3,467.0 601.6,466.7 602.9,466.3 604.2,465.9 605.5,465.4 606.8,464.8 608.1,464.1 609.4,463.3 610.7,462.3 612.0,461.1 613.3,459.7 614.6,458.0 615.9,456.1 617.2,453.8 618.5,451.1 619.8,448.0 621.1,444.5 622.4,440.4 623.8,435.8 625.1,430.6 626.4,424.8 627.7,418.4 629.0,411.4 630.3,404.0 631.6,396.0 632.9,387.7 634.2,379.2 635.5,370.6 636.8,362.1 638.1,353.7 639.4,345.6 640.7,337.9 642.0,330.8 643.3,324.2 644.6,318.2 645.9,312.7 647.2,307.9 648.5,303.7 649.8,299.9 651.1,296.7 652.4,293.9 653.7,291.5 655.0,289.4 656.3,287.6 657.6,286.2 658.9,284.9 660.2,283.8 661.5,282.9 662.8,282.2 664.1,281.5 665.4,281.0 666.7,280.5 668.0,280.2 669.3,279.8 670.6,279.6 671.9,279.4 673.2,279.2 674.5,279.0 675.8,278.9 677.1,278.8 678.4,278.7 679.7,278.6 681.0,278.6 682.3,278.5 683.6,278.5 684.9,278.4 686.2,278.4 687.5,278.4 688.8,278.3 690.1,278.3 691.4,278.3 692.7,278.3 694.0,278.3 695.3,278.3 696.6,278.3 697.9,278.3 699.2,278.3 700.5,278.3 701.8,278.3 703.1,278.3 704.4,278.3 705.7,278.3 707.0,278.3 708.3,278.2 709.6,278.2 710.9,278.2 712.2,278.2 713.5,278.2 714.8,278.2 716.1,278.2 717.4,278.2 718.7,278.2 720.0,278.2 721.3,278.2 722.6,278.2 723.9,278.2 725.2,278.2 726.5,278.2 727.8,278.2 729.2,278.2 730.5,278.2 731.8,278.2 733.1,278.2 734.4,278.2 735.7,278.2 737.0,278.2 738.3,278.2 739.6,278.2 740.9,278.2 742.2,278.2 743.5,278.2 744.8,278.2 746.1,278.2 747.4,278.2 748.7,278.2 750.0,278.2 751.3,278.2 752.6,278.2 753.9,278.2 755.2,278.2 756.5,278.2 757.8,278.2 759.1,278.2 760.4,278.2 761.7,278.2 763.0,278.2 764.3,278.2 765.6,278.2 766.9,278.2 768.2,278.2 769.5,278.2 770.8,278.2 772.1,278.2 773.4,278.2 774.7,278.2 776.0,278.2 777.3,278.2 778.6,278.2 779.9,278.2"/>
<polyline fill="none" stroke="#000" stroke-width="2.4" stroke-linecap="round" stroke-linejoin="round" stroke-dasharray="4.9 8.2" points="467.6,468.5 468.9,468.5 470.2,468.5 471.5,468.5 472.8,468.5 474.1,468.5 475.4,468.5 476.7,468.5 478.0,468.5 479.3,468.5 480.6,468.5 481.9,468.5 483.2,468.5 484.5,468.5 485.8,468.5 487.1,468.5 488.4,468.5 489.7,468.5 491.0,468.5 492.3,468.5 493.6,468.5 494.9,468.5 496.2,468.5 497.5,468.5 498.8,468.5 500.1,468.5 501.4,468.5 502.7,468.5 504.0,468.5 505.3,468.5 506.6,468.5 507.9,468.5 509.2,468.5 510.5,468.5 511.8,468.5 513.1,468.5 514.4,468.5 515.7,468.5 517.0,468.5 518.3,468.5 519.6,468.5 521.0,468.5 522.3,468.5 523.6,468.5 524.9,468.5 526.2,468.5 527.5,468.5 528.8,468.5 530.1,468.5 531.4,468.5 532.7,468.5 534.0,468.5 535.3,468.5 536.6,468.5 537.9,468.5 539.2,468.5 540.5,468.5 541.8,468.5 543.1,468.5 544.4,468.5 545.7,468.5 547.0,468.5 548.3,468.5 549.6,468.5 550.9,468.5 552.2,468.5 553.5,468.5 554.8,468.5 556.1,468.5 557.4,468.5 558.7,468.5 560.0,468.5 561.3,468.5 562.6,468.5 563.9,468.5 565.2,468.5 566.5,468.5 567.8,468.5 569.1,468.5 570.4,468.5 571.7,468.5 573.0,468.5 574.3,468.5 575.6,468.5 576.9,468.5 578.2,468.5 579.5,468.5 580.8,468.5 582.1,468.5 583.4,468.5 584.7,468.5 586.0,468.5 587.3,468.5 588.6,468.5 589.9,468.5 591.2,468.5 592.5,468.5 593.8,468.5 595.1,468.5 596.4,468.5 597.7,468.5 599.0,468.5 600.3,468.5 601.6,468.5 602.9,468.5 604.2,468.5 605.5,468.5 606.8,468.5 608.1,468.5 609.4,468.5 610.7,468.5 612.0,468.5 613.3,468.5 614.6,468.5 615.9,468.5 617.2,468.5 618.5,468.5 619.8,468.5 621.1,468.5 622.4,468.4 623.8,468.4 625.1,468.4 626.4,468.4 627.7,468.3 629.0,468.3 630.3,468.2 631.6,468.2 632.9,468.1 634.2,467.9 635.5,467.8 636.8,467.6 638.1,467.3 639.4,467.0 640.7,466.6 642.0,466.1 643.3,465.4 644.6,464.5 645.9,463.4 647.2,462.0 648.5,460.2 649.8,458.0 651.1,455.2 652.4,451.8 653.7,447.6 655.0,442.4 656.3,436.3 657.6,429.0 658.9,420.6 660.2,411.1 661.5,400.6 662.8,389.4 664.1,377.6 665.4,365.8 666.7,354.1 668.0,343.1 669.3,332.8 670.6,323.7 671.9,315.6 673.2,308.6 674.5,302.8 675.8,297.9 677.1,293.9 678.4,290.7 679.7,288.1 681.0,286.0 682.3,284.3 683.6,283.0 684.9,282.0 686.2,281.2 687.5,280.5 688.8,280.0 690.1,279.6 691.4,279.3 692.7,279.1 694.0,278.9 695.3,278.8 696.6,278.6 697.9,278.6 699.2,278.5 700.5,278.4 701.8,278.4 703.1,278.4 704.4,278.3 705.7,278.3 707.0,278.3 708.3,278.3 709.6,278.3 710.9,278.3 712.2,278.3 713.5,278.3 714.8,278.3 716.1,278.3 717.4,278.2 718.7,278.2 720.0,278.2 721.3,278.2 722.6,278.2 723.9,278.2 725.2,278.2 726.5,278.2 727.8,278.2 729.2,278.2 730.5,278.2 731.8,278.2 733.1,278.2 734.4,278.2 735.7,278.2 737.0,278.2 738.3,278.2 739.6,278.2 740.9,278.2 742.2,278.2 743.5,278.2 744.8,278.2 746.1,278.2 747.4,278.2 748.7,278.2 750.0,278.2 751.3,278.2 752.6,278.2 753.9,278.2 755.2,278.2 756.5,278.2 757.8,278.2 759.1,278.2 760.4,278.2 761.7,278.2 763.0,278.2 764.3,278.2 765.6,278.2 766.9,278.2 768.2,278.2 769.5,278.2 770.8,278.2 772.1,278.2 773.4,278.2 774.7,278.2 776.0,278.2 777.3,278.2 778.6,278.2 779.9,278.2"/>
<polyline fill="none" stroke="#000" stroke-width="2.5" stroke-linecap="round" stroke-linejoin="round" stroke-dasharray="0.01 7.9" points="467.6,468.5 468.9,468.5 470.2,468.5 471.5,468.5 472.8,468.5 474.1,468.5 475.4,468.5 476.7,468.5 478.0,468.5 479.3,468.5 480.6,468.5 481.9,468.5 483.2,468.5 484.5,468.5 485.8,468.5 487.1,468.5 488.4,468.5 489.7,468.5 491.0,468.5 492.3,468.5 493.6,468.5 494.9,468.5 496.2,468.5 497.5,468.5 498.8,468.5 500.1,468.5 501.4,468.5 502.7,468.5 504.0,468.5 505.3,468.5 506.6,468.5 507.9,468.5 509.2,468.5 510.5,468.5 511.8,468.5 513.1,468.5 514.4,468.5 515.7,468.5 517.0,468.5 518.3,468.5 519.6,468.5 521.0,468.5 522.3,468.5 523.6,468.5 524.9,468.5 526.2,468.5 527.5,468.5 528.8,468.5 530.1,468.5 531.4,468.5 532.7,468.5 534.0,468.5 535.3,468.5 536.6,468.5 537.9,468.5 539.2,468.5 540.5,468.5 541.8,468.5 543.1,468.5 544.4,468.5 545.7,468.5 547.0,468.5 548.3,468.5 549.6,468.5 550.9,468.5 552.2,468.5 553.5,468.5 554.8,468.5 556.1,468.5 557.4,468.5 558.7,468.5 560.0,468.5 561.3,468.5 562.6,468.5 563.9,468.5 565.2,468.5 566.5,468.5 567.8,468.5 569.1,468.5 570.4,468.5 571.7,468.5 573.0,468.5 574.3,468.5 575.6,468.5 576.9,468.5 578.2,468.5 579.5,468.5 580.8,468.5 582.1,468.5 583.4,468.5 584.7,468.5 586.0,468.5 587.3,468.5 588.6,468.5 589.9,468.5 591.2,468.5 592.5,468.5 593.8,468.5 595.1,468.5 596.4,468.5 597.7,468.5 599.0,468.5 600.3,468.5 601.6,468.5 602.9,468.5 604.2,468.5 605.5,468.5 606.8,468.5 608.1,468.5 609.4,468.5 610.7,468.5 612.0,468.5 613.3,468.5 614.6,468.5 615.9,468.5 617.2,468.5 618.5,468.5 619.8,468.5 621.1,468.5 622.4,468.5 623.8,468.5 625.1,468.5 626.4,468.5 627.7,468.5 629.0,468.5 630.3,468.5 631.6,468.4 632.9,468.4 634.2,468.4 635.5,468.4 636.8,468.4 638.1,468.4 639.4,468.3 640.7,468.3 642.0,468.2 643.3,468.2 644.6,468.1 645.9,468.0 647.2,467.9 648.5,467.8 649.8,467.7 651.1,467.5 652.4,467.3 653.7,467.0 655.0,466.7 656.3,466.4 657.6,465.9 658.9,465.4 660.2,464.7 661.5,463.9 662.8,463.0 664.1,461.9 665.4,460.5 666.7,458.9 668.0,457.0 669.3,454.8 670.6,452.1 671.9,449.0 673.2,445.4 674.5,441.2 675.8,436.3 677.1,430.9 678.4,424.7 679.7,417.9 681.0,410.5 682.3,402.4 683.6,393.9 684.9,385.0 686.2,375.9 687.5,366.8 688.8,357.8 690.1,349.0 691.4,340.7 692.7,332.9 694.0,325.8 695.3,319.2 696.6,313.4 697.9,308.2 699.2,303.7 700.5,299.7 701.8,296.3 703.1,293.4 704.4,290.9 705.7,288.8 707.0,287.1 708.3,285.6 709.6,284.3 710.9,283.3 712.2,282.4 713.5,281.7 714.8,281.1 716.1,280.6 717.4,280.2 718.7,279.9 720.0,279.6 721.3,279.4 722.6,279.2 723.9,279.0 725.2,278.9 726.5,278.8 727.8,278.7 729.2,278.6 730.5,278.5 731.8,278.5 733.1,278.4 734.4,278.4 735.7,278.4 737.0,278.4 738.3,278.3 739.6,278.3 740.9,278.3 742.2,278.3 743.5,278.3 744.8,278.3 746.1,278.3 747.4,278.3 748.7,278.3 750.0,278.3 751.3,278.3 752.6,278.3 753.9,278.3 755.2,278.2 756.5,278.2 757.8,278.2 759.1,278.2 760.4,278.2 761.7,278.2 763.0,278.2 764.3,278.2 765.6,278.2 766.9,278.2 768.2,278.2 769.5,278.2 770.8,278.2 772.1,278.2 773.4,278.2 774.7,278.2 776.0,278.2 777.3,278.2 778.6,278.2 779.9,278.2"/>
<polyline fill="none" stroke="#0a0aff" stroke-width="2.5" stroke-linecap="round" stroke-linejoin="round" stroke-dasharray="4.3 8.25 0.01 8.25" points="467.6,468.5 468.9,468.5 470.2,468.5 471.5,468.5 472.8,468.5 474.1,468.5 475.4,468.5 476.7,468.5 478.0,468.5 479.3,468.5 480.6,468.5 481.9,468.5 483.2,468.5 484.5,468.5 485.8,468.5 487.1,468.5 488.4,468.5 489.7,468.5 491.0,468.5 492.3,468.5 493.6,468.5 494.9,468.5 496.2,468.5 497.5,468.5 498.8,468.5 500.1,468.5 501.4,468.5 502.7,468.5 504.0,468.5 505.3,468.5 506.6,468.5 507.9,468.5 509.2,468.5 510.5,468.5 511.8,468.5 513.1,468.5 514.4,468.5 515.7,468.5 517.0,468.5 518.3,468.5 519.6,468.5 521.0,468.5 522.3,468.5 523.6,468.5 524.9,468.5 526.2,468.5 527.5,468.5 528.8,468.5 530.1,468.5 531.4,468.5 532.7,468.5 534.0,468.5 535.3,468.5 536.6,468.5 537.9,468.5 539.2,468.5 540.5,468.5 541.8,468.5 543.1,468.5 544.4,468.5 545.7,468.5 547.0,468.5 548.3,468.5 549.6,468.5 550.9,468.5 552.2,468.5 553.5,468.5 554.8,468.5 556.1,468.5 557.4,468.5 558.7,468.5 560.0,468.5 561.3,468.5 562.6,468.5 563.9,468.5 565.2,468.5 566.5,468.4 567.8,468.4 569.1,468.4 570.4,468.4 571.7,468.4 573.0,468.4 574.3,468.3 575.6,468.3 576.9,468.3 578.2,468.2 579.5,468.2 580.8,468.1 582.1,468.1 583.4,468.0 584.7,467.9 586.0,467.8 587.3,467.6 588.6,467.5 589.9,467.3 591.2,467.1 592.5,466.8 593.8,466.5 595.1,466.1 596.4,465.7 597.7,465.2 599.0,464.6 600.3,463.9 601.6,463.1 602.9,462.1 604.2,461.0 605.5,459.7 606.8,458.2 608.1,456.4 609.4,454.3 610.7,451.9 612.0,449.2 613.3,446.0 614.6,442.5 615.9,438.4 617.2,433.9 618.5,428.9 619.8,423.3 621.1,417.2 622.4,410.7 623.8,403.6 625.1,396.2 626.4,388.5 627.7,380.6 629.0,372.5 630.3,364.5 631.6,356.6 632.9,348.9 634.2,341.6 635.5,334.6 636.8,328.1 638.1,322.1 639.4,316.6 640.7,311.7 642.0,307.2 643.3,303.3 644.6,299.8 645.9,296.7 647.2,294.0 648.5,291.7 649.8,289.7 651.1,287.9 652.4,286.4 653.7,285.2 655.0,284.1 656.3,283.1 657.6,282.3 658.9,281.7 660.2,281.1 661.5,280.6 662.8,280.2 664.1,279.8 665.4,279.5 666.7,279.3 668.0,279.0 669.3,278.9 670.6,278.7 671.9,278.6 673.2,278.5 674.5,278.4 675.8,278.3 677.1,278.2 678.4,278.2 679.7,278.1 681.0,278.1 682.3,278.0 683.6,278.0 684.9,278.0 686.2,278.0 687.5,278.0 688.8,277.9 690.1,277.9 691.4,277.9 692.7,277.9 694.0,277.9 695.3,277.9 696.6,277.9 697.9,277.9 699.2,277.9 700.5,277.9 701.8,277.9 703.1,277.9 704.4,277.9 705.7,277.9 707.0,277.9 708.3,277.9 709.6,277.9 710.9,277.9 712.2,277.9 713.5,277.9 714.8,277.9 716.1,277.9 717.4,277.9 718.7,277.9 720.0,277.9 721.3,277.9 722.6,277.9 723.9,277.9 725.2,277.9 726.5,277.9 727.8,277.9 729.2,277.9 730.5,277.9 731.8,277.9 733.1,277.9 734.4,277.9 735.7,277.9 737.0,277.9 738.3,277.9 739.6,277.9 740.9,277.9 742.2,277.9 743.5,277.9 744.8,277.9 746.1,277.9 747.4,277.9 748.7,277.9 750.0,277.9 751.3,277.9 752.6,277.9 753.9,277.9 755.2,277.9 756.5,277.9 757.8,277.9 759.1,277.9 760.4,277.9 761.7,277.9 763.0,277.9 764.3,277.9 765.6,277.9 766.9,277.9 768.2,277.9 769.5,277.9 770.8,277.9 772.1,277.9 773.4,277.9 774.7,277.9 776.0,277.9 777.3,277.9 778.6,277.9 779.9,277.9"/>
<polyline fill="none" stroke="#0a0aff" stroke-width="2.7" stroke-linecap="round" stroke-linejoin="round" stroke-dasharray="0.01 7.9" points="467.6,468.5 468.9,468.5 470.2,468.5 471.5,468.5 472.8,468.5 474.1,468.5 475.4,468.5 476.7,468.5 478.0,468.5 479.3,468.5 480.6,468.5 481.9,468.5 483.2,468.5 484.5,468.5 485.8,468.5 487.1,468.5 488.4,468.5 489.7,468.5 491.0,468.5 492.3,468.5 493.6,468.5 494.9,468.5 496.2,468.5 497.5,468.5 498.8,468.5 500.1,468.5 501.4,468.5 502.7,468.5 504.0,468.5 505.3,468.5 506.6,468.5 507.9,468.5 509.2,468.5 510.5,468.5 511.8,468.5 513.1,468.5 514.4,468.5 515.7,468.5 517.0,468.5 518.3,468.5 519.6,468.5 521.0,468.5 522.3,468.5 523.6,468.5 524.9,468.5 526.2,468.5 527.5,468.5 528.8,468.5 530.1,468.5 531.4,468.5 532.7,468.5 534.0,468.5 535.3,468.5 536.6,468.5 537.9,468.5 539.2,468.5 540.5,468.5 541.8,468.5 543.1,468.5 544.4,468.5 545.7,468.5 547.0,468.5 548.3,468.5 549.6,468.5 550.9,468.5 552.2,468.5 553.5,468.4 554.8,468.4 556.1,468.4 557.4,468.4 558.7,468.4 560.0,468.4 561.3,468.4 562.6,468.3 563.9,468.3 565.2,468.3 566.5,468.3 567.8,468.2 569.1,468.2 570.4,468.1 571.7,468.1 573.0,468.0 574.3,467.9 575.6,467.8 576.9,467.7 578.2,467.5 579.5,467.4 580.8,467.2 582.1,467.0 583.4,466.8 584.7,466.5 586.0,466.1 587.3,465.8 588.6,465.3 589.9,464.8 591.2,464.2 592.5,463.5 593.8,462.8 595.1,461.9 596.4,460.8 597.7,459.6 599.0,458.2 600.3,456.7 601.6,454.9 602.9,452.8 604.2,450.5 605.5,447.9 606.8,444.9 608.1,441.6 609.4,437.9 610.7,433.8 612.0,429.3 613.3,424.4 614.6,419.0 615.9,413.3 617.2,407.2 618.5,400.7 619.8,393.9 621.1,386.9 622.4,379.8 623.8,372.6 625.1,365.4 626.4,358.3 627.7,351.3 629.0,344.6 630.3,338.2 631.6,332.1 632.9,326.5 634.2,321.2 635.5,316.3 636.8,311.9 638.1,307.8 639.4,304.2 640.7,301.0 642.0,298.1 643.3,295.5 644.6,293.2 645.9,291.2 647.2,289.4 648.5,287.9 649.8,286.5 651.1,285.4 652.4,284.4 653.7,283.5 655.0,282.7 656.3,282.0 657.6,281.5 658.9,281.0 660.2,280.5 661.5,280.2 662.8,279.8 664.1,279.6 665.4,279.3 666.7,279.1 668.0,278.9 669.3,278.8 670.6,278.7 671.9,278.6 673.2,278.5 674.5,278.4 675.8,278.3 677.1,278.2 678.4,278.2 679.7,278.1 681.0,278.1 682.3,278.1 683.6,278.0 684.9,278.0 686.2,278.0 687.5,278.0 688.8,278.0 690.1,277.9 691.4,277.9 692.7,277.9 694.0,277.9 695.3,277.9 696.6,277.9 697.9,277.9 699.2,277.9 700.5,277.9 701.8,277.9 703.1,277.9 704.4,277.9 705.7,277.9 707.0,277.9 708.3,277.9 709.6,277.9 710.9,277.9 712.2,277.9 713.5,277.9 714.8,277.9 716.1,277.9 717.4,277.9 718.7,277.9 720.0,277.9 721.3,277.9 722.6,277.9 723.9,277.9 725.2,277.9 726.5,277.9 727.8,277.9 729.2,277.9 730.5,277.9 731.8,277.9 733.1,277.9 734.4,277.9 735.7,277.9 737.0,277.9 738.3,277.9 739.6,277.9 740.9,277.9 742.2,277.9 743.5,277.9 744.8,277.9 746.1,277.9 747.4,277.9 748.7,277.9 750.0,277.9 751.3,277.9 752.6,277.9 753.9,277.9 755.2,277.9 756.5,277.9 757.8,277.9 759.1,277.9 760.4,277.9 761.7,277.9 763.0,277.9 764.3,277.9 765.6,277.9 766.9,277.9 768.2,277.9 769.5,277.9 770.8,277.9 772.1,277.9 773.4,277.9 774.7,277.9 776.0,277.9 777.3,277.9 778.6,277.9 779.9,277.9"/>
</g>
<path d="M467.60,468.50 V260.70 H779.90 V468.50 Z" fill="none" stroke="#000" stroke-width="2.5"/>
<line x1="464.20" y1="468.50" x2="467.60" y2="468.50" stroke="#000" stroke-width="2.1"/>
<text x="462.40" y="473.50" text-anchor="end" class="tk">0.0</text>
<line x1="464.20" y1="373.75" x2="467.60" y2="373.75" stroke="#000" stroke-width="2.1"/>
<text x="462.40" y="378.75" text-anchor="end" class="tk">0.5</text>
<line x1="464.20" y1="279.00" x2="467.60" y2="279.00" stroke="#000" stroke-width="2.1"/>
<text x="462.40" y="284.00" text-anchor="end" class="tk"><tspan class="one">1</tspan>.0</text>
<line x1="467.60" y1="468.50" x2="467.60" y2="472.10" stroke="#000" stroke-width="2.1"/>
<text x="467.60" y="486.30" text-anchor="middle" class="tk">20</text>
<line x1="571.70" y1="468.50" x2="571.70" y2="472.10" stroke="#000" stroke-width="2.1"/>
<text x="571.70" y="486.30" text-anchor="middle" class="tk">40</text>
<line x1="675.80" y1="468.50" x2="675.80" y2="472.10" stroke="#000" stroke-width="2.1"/>
<text x="675.80" y="486.30" text-anchor="middle" class="tk">60</text>
<line x1="779.90" y1="468.50" x2="779.90" y2="472.10" stroke="#000" stroke-width="2.1"/>
<text x="779.90" y="486.30" text-anchor="middle" class="tk">80</text>
<text x="623.75" y="508.40" text-anchor="middle" class="ax">Temperature (<tspan class="deg" dy="-5.5">o</tspan><tspan dy="5.5">C)</tspan></text>
<text transform="translate(432.00,358.95) rotate(-90)" text-anchor="middle" class="ay">Unfolded Fraction</text>
<text x="473.40" y="277.50" class="ttl">Gaohe+Kaiping</text>
<text x="600.30" y="300.20" text-anchor="end" class="hdr">T<tspan class="sub" dy="3">m</tspan><tspan dy="-3"> (</tspan><tspan class="deg2" dy="-3.5">o</tspan><tspan dy="3.5">C)</tspan></text>
<line x1="478.70" y1="313.90" x2="487.80" y2="313.90" stroke="#000" stroke-width="2.5"/>
<text x="495.10" y="317.80" class="lg" xml:space="preserve">0 <tspan class="mu">µ</tspan>M NADP<tspan class="sup" dy="-4">+</tspan></text>
<text x="601.00" y="317.80" text-anchor="end" class="lg">52.22</text>
<line x1="478.70" y1="327.40" x2="485.50" y2="327.40" stroke="#000" stroke-width="2.5"/>
<text x="495.10" y="331.30" class="lg" xml:space="preserve"><tspan class="one">1</tspan>0 <tspan class="mu">µ</tspan>M NADP<tspan class="sup" dy="-4">+</tspan></text>
<text x="601.00" y="331.30" text-anchor="end" class="lg">57.89</text>
<circle cx="479.30" cy="341.10" r="0.9" fill="#000"/><circle cx="486.70" cy="341.10" r="1.15" fill="#000"/>
<text x="495.10" y="345.00" class="lg" xml:space="preserve"><tspan class="one">1</tspan>00 <tspan class="mu">µ</tspan>M NADP<tspan class="sup" dy="-4">+</tspan></text>
<text x="601.00" y="345.00" text-anchor="end" class="lg">62.<tspan class="one">1</tspan>2</text>
<line x1="477.90" y1="354.30" x2="484.60" y2="354.30" stroke="#0a0aff" stroke-width="2.6"/>
<text x="495.10" y="358.20" class="lg" xml:space="preserve"><tspan class="one">1</tspan>0 <tspan class="mu">µ</tspan>M AG<tspan class="one">1</tspan></text>
<text x="601.00" y="358.20" text-anchor="end" class="lg">5<tspan class="one">1</tspan>.03</text>
<circle cx="479.10" cy="367.50" r="1.0" fill="#0a0aff"/><circle cx="486.30" cy="367.50" r="1.25" fill="#0a0aff"/>
<text x="495.10" y="371.40" class="lg" xml:space="preserve"><tspan class="one">1</tspan>00 <tspan class="mu">µ</tspan>M AG<tspan class="one">1</tspan></text>
<text x="601.00" y="371.40" text-anchor="end" class="lg">50.03</text>
<clipPath id="c4"><rect x="56.80" y="521.80" width="312.40" height="210.20"/></clipPath>
<g clip-path="url(#c4)">
<polyline fill="none" stroke="#000" stroke-width="2.3" stroke-linecap="butt" stroke-linejoin="round" points="56.8,728.5 58.1,728.5 59.4,728.5 60.7,728.5 62.0,728.5 63.3,728.5 64.6,728.5 65.9,728.5 67.2,728.5 68.5,728.5 69.8,728.5 71.1,728.5 72.4,728.5 73.7,728.5 75.0,728.5 76.3,728.5 77.6,728.5 78.9,728.5 80.2,728.5 81.5,728.5 82.8,728.5 84.1,728.5 85.4,728.5 86.7,728.5 88.0,728.5 89.3,728.5 90.6,728.5 91.9,728.5 93.2,728.5 94.5,728.5 95.8,728.5 97.2,728.5 98.5,728.5 99.8,728.5 101.1,728.5 102.4,728.4 103.7,728.4 105.0,728.4 106.3,728.4 107.6,728.4 108.9,728.4 110.2,728.4 111.5,728.4 112.8,728.4 114.1,728.4 115.4,728.4 116.7,728.4 118.0,728.4 119.3,728.4 120.6,728.3 121.9,728.3 123.2,728.3 124.5,728.3 125.8,728.3 127.1,728.3 128.4,728.2 129.7,728.2 131.0,728.2 132.3,728.2 133.6,728.1 134.9,728.1 136.2,728.0 137.5,728.0 138.8,728.0 140.1,727.9 141.4,727.8 142.7,727.8 144.0,727.7 145.3,727.6 146.6,727.6 147.9,727.5 149.2,727.4 150.5,727.3 151.8,727.1 153.1,727.0 154.4,726.9 155.7,726.7 157.0,726.5 158.3,726.4 159.6,726.2 160.9,725.9 162.2,725.7 163.5,725.4 164.8,725.1 166.1,724.8 167.4,724.5 168.7,724.1 170.0,723.7 171.3,723.2 172.6,722.7 173.9,722.2 175.3,721.6 176.6,720.9 177.9,720.2 179.2,719.5 180.5,718.7 181.8,717.8 183.1,716.8 184.4,715.7 185.7,714.6 187.0,713.3 188.3,712.0 189.6,710.5 190.9,709.0 192.2,707.3 193.5,705.5 194.8,703.5 196.1,701.5 197.4,699.3 198.7,696.9 200.0,694.4 201.3,691.7 202.6,688.9 203.9,685.9 205.2,682.8 206.5,679.5 207.8,676.0 209.1,672.4 210.4,668.7 211.7,664.9 213.0,660.9 214.3,656.8 215.6,652.6 216.9,648.4 218.2,644.1 219.5,639.7 220.8,635.3 222.1,630.9 223.4,626.5 224.7,622.2 226.0,617.9 227.3,613.6 228.6,609.5 229.9,605.4 231.2,601.5 232.5,597.6 233.8,593.9 235.1,590.4 236.4,587.0 237.7,583.7 239.0,580.6 240.3,577.7 241.6,574.9 242.9,572.2 244.2,569.7 245.5,567.4 246.8,565.2 248.1,563.2 249.4,561.3 250.7,559.5 252.0,557.8 253.4,556.3 254.7,554.9 256.0,553.5 257.3,552.3 258.6,551.2 259.9,550.1 261.2,549.2 262.5,548.3 263.8,547.5 265.1,546.7 266.4,546.0 267.7,545.4 269.0,544.8 270.3,544.3 271.6,543.8 272.9,543.4 274.2,543.0 275.5,542.6 276.8,542.2 278.1,541.9 279.4,541.6 280.7,541.4 282.0,541.1 283.3,540.9 284.6,540.7 285.9,540.5 287.2,540.4 288.5,540.2 289.8,540.1 291.1,539.9 292.4,539.8 293.7,539.7 295.0,539.6 296.3,539.5 297.6,539.5 298.9,539.4 300.2,539.3 301.5,539.3 302.8,539.2 304.1,539.2 305.4,539.1 306.7,539.1 308.0,539.0 309.3,539.0 310.6,539.0 311.9,538.9 313.2,538.9 314.5,538.9 315.8,538.9 317.1,538.8 318.4,538.8 319.7,538.8 321.0,538.8 322.3,538.8 323.6,538.8 324.9,538.8 326.2,538.7 327.5,538.7 328.8,538.7 330.1,538.7 331.5,538.7 332.8,538.7 334.1,538.7 335.4,538.7 336.7,538.7 338.0,538.7 339.3,538.7 340.6,538.7 341.9,538.7 343.2,538.7 344.5,538.7 345.8,538.7 347.1,538.7 348.4,538.7 349.7,538.7 351.0,538.6 352.3,538.6 353.6,538.6 354.9,538.6 356.2,538.6 357.5,538.6 358.8,538.6 360.1,538.6 361.4,538.6 362.7,538.6 364.0,538.6 365.3,538.6 366.6,538.6 367.9,538.6 369.2,538.6"/>
<polyline fill="none" stroke="#000" stroke-width="2.4" stroke-linecap="round" stroke-linejoin="round" stroke-dasharray="4.9 8.2" points="56.8,729.1 58.1,729.1 59.4,729.1 60.7,729.1 62.0,729.1 63.3,729.1 64.6,729.1 65.9,729.1 67.2,729.1 68.5,729.1 69.8,729.1 71.1,729.1 72.4,729.1 73.7,729.1 75.0,729.1 76.3,729.1 77.6,729.1 78.9,729.1 80.2,729.1 81.5,729.1 82.8,729.1 84.1,729.1 85.4,729.1 86.7,729.1 88.0,729.0 89.3,729.0 90.6,729.0 91.9,729.0 93.2,729.0 94.5,729.0 95.8,729.0 97.2,729.0 98.5,729.0 99.8,729.0 101.1,729.0 102.4,729.0 103.7,729.0 105.0,729.0 106.3,729.0 107.6,729.0 108.9,729.0 110.2,729.0 111.5,729.0 112.8,729.0 114.1,729.0 115.4,729.0 116.7,729.0 118.0,729.0 119.3,729.0 120.6,729.0 121.9,729.0 123.2,729.0 124.5,729.0 125.8,729.0 127.1,729.0 128.4,729.0 129.7,729.0 131.0,729.0 132.3,729.0 133.6,729.0 134.9,728.9 136.2,728.9 137.5,728.9 138.8,728.9 140.1,728.9 141.4,728.9 142.7,728.9 144.0,728.9 145.3,728.8 146.6,728.8 147.9,728.8 149.2,728.8 150.5,728.7 151.8,728.7 153.1,728.7 154.4,728.7 155.7,728.6 157.0,728.6 158.3,728.5 159.6,728.5 160.9,728.4 162.2,728.4 163.5,728.3 164.8,728.3 166.1,728.2 167.4,728.1 168.7,728.0 170.0,727.9 171.3,727.8 172.6,727.7 173.9,727.6 175.3,727.5 176.6,727.3 177.9,727.2 179.2,727.0 180.5,726.8 181.8,726.6 183.1,726.4 184.4,726.1 185.7,725.9 187.0,725.6 188.3,725.3 189.6,725.0 190.9,724.6 192.2,724.2 193.5,723.8 194.8,723.3 196.1,722.8 197.4,722.3 198.7,721.7 200.0,721.0 201.3,720.3 202.6,719.6 203.9,718.8 205.2,717.9 206.5,717.0 207.8,715.9 209.1,714.8 210.4,713.7 211.7,712.4 213.0,711.0 214.3,709.5 215.6,708.0 216.9,706.3 218.2,704.5 219.5,702.6 220.8,700.5 222.1,698.4 223.4,696.1 224.7,693.6 226.0,691.0 227.3,688.3 228.6,685.5 229.9,682.5 231.2,679.4 232.5,676.1 233.8,672.8 235.1,669.3 236.4,665.6 237.7,661.9 239.0,658.1 240.3,654.2 241.6,650.2 242.9,646.2 244.2,642.1 245.5,638.0 246.8,633.8 248.1,629.7 249.4,625.6 250.7,621.5 252.0,617.5 253.4,613.5 254.7,609.6 256.0,605.8 257.3,602.1 258.6,598.4 259.9,594.9 261.2,591.6 262.5,588.3 263.8,585.2 265.1,582.2 266.4,579.3 267.7,576.6 269.0,574.1 270.3,571.6 271.6,569.3 272.9,567.2 274.2,565.1 275.5,563.2 276.8,561.4 278.1,559.7 279.4,558.1 280.7,556.7 282.0,555.3 283.3,554.0 284.6,552.8 285.9,551.7 287.2,550.7 288.5,549.8 289.8,548.9 291.1,548.1 292.4,547.3 293.7,546.6 295.0,546.0 296.3,545.4 297.6,544.9 298.9,544.4 300.2,543.9 301.5,543.5 302.8,543.1 304.1,542.7 305.4,542.4 306.7,542.1 308.0,541.8 309.3,541.5 310.6,541.3 311.9,541.1 313.2,540.9 314.5,540.7 315.8,540.5 317.1,540.4 318.4,540.2 319.7,540.1 321.0,540.0 322.3,539.9 323.6,539.8 324.9,539.7 326.2,539.6 327.5,539.5 328.8,539.4 330.1,539.4 331.5,539.3 332.8,539.2 334.1,539.2 335.4,539.1 336.7,539.1 338.0,539.1 339.3,539.0 340.6,539.0 341.9,539.0 343.2,538.9 344.5,538.9 345.8,538.9 347.1,538.9 348.4,538.8 349.7,538.8 351.0,538.8 352.3,538.8 353.6,538.8 354.9,538.8 356.2,538.8 357.5,538.7 358.8,538.7 360.1,538.7 361.4,538.7 362.7,538.7 364.0,538.7 365.3,538.7 366.6,538.7 367.9,538.7 369.2,538.7"/>
<polyline fill="none" stroke="#000" stroke-width="2.5" stroke-linecap="round" stroke-linejoin="round" stroke-dasharray="0.01 7.9" points="56.8,729.1 58.1,729.1 59.4,729.1 60.7,729.1 62.0,729.1 63.3,729.1 64.6,729.1 65.9,729.1 67.2,729.1 68.5,729.1 69.8,729.1 71.1,729.1 72.4,729.1 73.7,729.1 75.0,729.1 76.3,729.1 77.6,729.1 78.9,729.1 80.2,729.1 81.5,729.1 82.8,729.1 84.1,729.1 85.4,729.1 86.7,729.1 88.0,729.1 89.3,729.1 90.6,729.1 91.9,729.1 93.2,729.1 94.5,729.1 95.8,729.1 97.2,729.1 98.5,729.1 99.8,729.1 101.1,729.1 102.4,729.1 103.7,729.1 105.0,729.1 106.3,729.1 107.6,729.1 108.9,729.1 110.2,729.1 111.5,729.1 112.8,729.1 114.1,729.1 115.4,729.1 116.7,729.1 118.0,729.1 119.3,729.1 120.6,729.1 121.9,729.1 123.2,729.1 124.5,729.1 125.8,729.1 127.1,729.1 128.4,729.1 129.7,729.1 131.0,729.1 132.3,729.1 133.6,729.1 134.9,729.1 136.2,729.1 137.5,729.1 138.8,729.1 140.1,729.1 141.4,729.1 142.7,729.1 144.0,729.0 145.3,729.0 146.6,729.0 147.9,729.0 149.2,729.0 150.5,729.0 151.8,729.0 153.1,729.0 154.4,729.0 155.7,729.0 157.0,729.0 158.3,729.0 159.6,729.0 160.9,729.0 162.2,729.0 163.5,729.0 164.8,729.0 166.1,729.0 167.4,729.0 168.7,729.0 170.0,729.0 171.3,729.0 172.6,729.0 173.9,729.0 175.3,729.0 176.6,729.0 177.9,729.0 179.2,729.0 180.5,728.9 181.8,728.9 183.1,728.9 184.4,728.9 185.7,728.9 187.0,728.9 188.3,728.8 189.6,728.8 190.9,728.8 192.2,728.8 193.5,728.7 194.8,728.7 196.1,728.6 197.4,728.6 198.7,728.5 200.0,728.5 201.3,728.4 202.6,728.3 203.9,728.3 205.2,728.2 206.5,728.1 207.8,728.0 209.1,727.8 210.4,727.7 211.7,727.5 213.0,727.4 214.3,727.2 215.6,726.9 216.9,726.7 218.2,726.4 219.5,726.1 220.8,725.8 222.1,725.4 223.4,725.0 224.7,724.5 226.0,724.0 227.3,723.5 228.6,722.8 229.9,722.1 231.2,721.4 232.5,720.5 233.8,719.6 235.1,718.5 236.4,717.4 237.7,716.1 239.0,714.7 240.3,713.2 241.6,711.5 242.9,709.6 244.2,707.6 245.5,705.5 246.8,703.1 248.1,700.5 249.4,697.7 250.7,694.8 252.0,691.5 253.4,688.1 254.7,684.5 256.0,680.6 257.3,676.5 258.6,672.2 259.9,667.7 261.2,663.1 262.5,658.2 263.8,653.3 265.1,648.2 266.4,643.0 267.7,637.8 269.0,632.6 270.3,627.4 271.6,622.2 272.9,617.0 274.2,612.0 275.5,607.1 276.8,602.4 278.1,597.8 279.4,593.4 280.7,589.2 282.0,585.2 283.3,581.4 284.6,577.9 285.9,574.6 287.2,571.5 288.5,568.6 289.8,565.9 291.1,563.4 292.4,561.2 293.7,559.1 295.0,557.1 296.3,555.4 297.6,553.8 298.9,552.3 300.2,551.0 301.5,549.8 302.8,548.7 304.1,547.7 305.4,546.8 306.7,545.9 308.0,545.2 309.3,544.5 310.6,543.9 311.9,543.4 313.2,542.9 314.5,542.5 315.8,542.1 317.1,541.7 318.4,541.4 319.7,541.1 321.0,540.9 322.3,540.6 323.6,540.4 324.9,540.2 326.2,540.1 327.5,539.9 328.8,539.8 330.1,539.7 331.5,539.6 332.8,539.5 334.1,539.4 335.4,539.3 336.7,539.2 338.0,539.2 339.3,539.1 340.6,539.1 341.9,539.0 343.2,539.0 344.5,538.9 345.8,538.9 347.1,538.9 348.4,538.9 349.7,538.8 351.0,538.8 352.3,538.8 353.6,538.8 354.9,538.8 356.2,538.7 357.5,538.7 358.8,538.7 360.1,538.7 361.4,538.7 362.7,538.7 364.0,538.7 365.3,538.7 366.6,538.7 367.9,538.7 369.2,538.7"/>
<polyline fill="none" stroke="#0a0aff" stroke-width="2.5" stroke-linecap="round" stroke-linejoin="round" stroke-dasharray="4.3 8.25 0.01 8.25" points="56.8,728.5 58.1,728.5 59.4,728.5 60.7,728.5 62.0,728.5 63.3,728.5 64.6,728.5 65.9,728.5 67.2,728.5 68.5,728.5 69.8,728.5 71.1,728.5 72.4,728.5 73.7,728.5 75.0,728.5 76.3,728.5 77.6,728.5 78.9,728.5 80.2,728.5 81.5,728.5 82.8,728.5 84.1,728.5 85.4,728.5 86.7,728.5 88.0,728.5 89.3,728.5 90.6,728.5 91.9,728.5 93.2,728.5 94.5,728.5 95.8,728.5 97.2,728.5 98.5,728.5 99.8,728.5 101.1,728.5 102.4,728.5 103.7,728.4 105.0,728.4 106.3,728.4 107.6,728.4 108.9,728.4 110.2,728.4 111.5,728.4 112.8,728.4 114.1,728.4 115.4,728.4 116.7,728.4 118.0,728.4 119.3,728.4 120.6,728.4 121.9,728.3 123.2,728.3 124.5,728.3 125.8,728.3 127.1,728.3 128.4,728.3 129.7,728.2 131.0,728.2 132.3,728.2 133.6,728.2 134.9,728.1 136.2,728.1 137.5,728.1 138.8,728.0 140.1,728.0 141.4,727.9 142.7,727.9 144.0,727.8 145.3,727.8 146.6,727.7 147.9,727.6 149.2,727.5 150.5,727.4 151.8,727.3 153.1,727.2 154.4,727.1 155.7,726.9 157.0,726.8 158.3,726.6 159.6,726.5 160.9,726.3 162.2,726.1 163.5,725.8 164.8,725.6 166.1,725.3 167.4,725.0 168.7,724.7 170.0,724.3 171.3,723.9 172.6,723.5 173.9,723.0 175.3,722.5 176.6,721.9 177.9,721.3 179.2,720.6 180.5,719.9 181.8,719.1 183.1,718.2 184.4,717.3 185.7,716.3 187.0,715.2 188.3,714.0 189.6,712.7 190.9,711.3 192.2,709.8 193.5,708.2 194.8,706.4 196.1,704.6 197.4,702.6 198.7,700.4 200.0,698.1 201.3,695.7 202.6,693.1 203.9,690.4 205.2,687.5 206.5,684.4 207.8,681.2 209.1,677.8 210.4,674.3 211.7,670.7 213.0,666.9 214.3,663.0 215.6,658.9 216.9,654.8 218.2,650.6 219.5,646.3 220.8,642.0 222.1,637.6 223.4,633.2 224.7,628.8 226.0,624.4 227.3,620.1 228.6,615.8 229.9,611.6 231.2,607.5 232.5,603.5 233.8,599.6 235.1,595.8 236.4,592.2 237.7,588.7 239.0,585.4 240.3,582.2 241.6,579.2 242.9,576.3 244.2,573.6 245.5,571.0 246.8,568.6 248.1,566.3 249.4,564.2 250.7,562.2 252.0,560.4 253.4,558.7 254.7,557.1 256.0,555.6 257.3,554.2 258.6,552.9 259.9,551.8 261.2,550.7 262.5,549.7 263.8,548.7 265.1,547.9 266.4,547.1 267.7,546.4 269.0,545.7 270.3,545.1 271.6,544.6 272.9,544.1 274.2,543.6 275.5,543.2 276.8,542.8 278.1,542.4 279.4,542.1 280.7,541.8 282.0,541.5 283.3,541.3 284.6,541.0 285.9,540.8 287.2,540.6 288.5,540.5 289.8,540.3 291.1,540.1 292.4,540.0 293.7,539.9 295.0,539.8 296.3,539.7 297.6,539.6 298.9,539.5 300.2,539.4 301.5,539.4 302.8,539.3 304.1,539.2 305.4,539.2 306.7,539.1 308.0,539.1 309.3,539.0 310.6,539.0 311.9,539.0 313.2,538.9 314.5,538.9 315.8,538.9 317.1,538.9 318.4,538.8 319.7,538.8 321.0,538.8 322.3,538.8 323.6,538.8 324.9,538.8 326.2,538.8 327.5,538.7 328.8,538.7 330.1,538.7 331.5,538.7 332.8,538.7 334.1,538.7 335.4,538.7 336.7,538.7 338.0,538.7 339.3,538.7 340.6,538.7 341.9,538.7 343.2,538.7 344.5,538.7 345.8,538.7 347.1,538.7 348.4,538.7 349.7,538.7 351.0,538.7 352.3,538.7 353.6,538.6 354.9,538.6 356.2,538.6 357.5,538.6 358.8,538.6 360.1,538.6 361.4,538.6 362.7,538.6 364.0,538.6 365.3,538.6 366.6,538.6 367.9,538.6 369.2,538.6"/>
<polyline fill="none" stroke="#0a0aff" stroke-width="2.7" stroke-linecap="round" stroke-linejoin="round" stroke-dasharray="0.01 7.9" points="56.8,728.5 58.1,728.5 59.4,728.5 60.7,728.5 62.0,728.5 63.3,728.5 64.6,728.5 65.9,728.5 67.2,728.5 68.5,728.5 69.8,728.5 71.1,728.5 72.4,728.5 73.7,728.5 75.0,728.5 76.3,728.5 77.6,728.5 78.9,728.5 80.2,728.5 81.5,728.5 82.8,728.4 84.1,728.4 85.4,728.4 86.7,728.4 88.0,728.4 89.3,728.4 90.6,728.4 91.9,728.4 93.2,728.4 94.5,728.4 95.8,728.4 97.2,728.4 98.5,728.4 99.8,728.4 101.1,728.4 102.4,728.4 103.7,728.3 105.0,728.3 106.3,728.3 107.6,728.3 108.9,728.3 110.2,728.3 111.5,728.2 112.8,728.2 114.1,728.2 115.4,728.2 116.7,728.1 118.0,728.1 119.3,728.1 120.6,728.1 121.9,728.0 123.2,728.0 124.5,727.9 125.8,727.9 127.1,727.8 128.4,727.8 129.7,727.7 131.0,727.6 132.3,727.6 133.6,727.5 134.9,727.4 136.2,727.3 137.5,727.2 138.8,727.1 140.1,727.0 141.4,726.9 142.7,726.7 144.0,726.6 145.3,726.4 146.6,726.2 147.9,726.0 149.2,725.8 150.5,725.6 151.8,725.3 153.1,725.1 154.4,724.8 155.7,724.5 157.0,724.1 158.3,723.7 159.6,723.3 160.9,722.9 162.2,722.4 163.5,721.9 164.8,721.4 166.1,720.8 167.4,720.1 168.7,719.5 170.0,718.7 171.3,717.9 172.6,717.0 173.9,716.1 175.3,715.1 176.6,714.0 177.9,712.9 179.2,711.7 180.5,710.3 181.8,708.9 183.1,707.4 184.4,705.8 185.7,704.1 187.0,702.2 188.3,700.3 189.6,698.2 190.9,696.1 192.2,693.8 193.5,691.3 194.8,688.8 196.1,686.1 197.4,683.3 198.7,680.4 200.0,677.3 201.3,674.1 202.6,670.8 203.9,667.4 205.2,663.9 206.5,660.3 207.8,656.7 209.1,652.9 210.4,649.1 211.7,645.2 213.0,641.3 214.3,637.4 215.6,633.4 216.9,629.4 218.2,625.5 219.5,621.6 220.8,617.7 222.1,613.9 223.4,610.2 224.7,606.5 226.0,602.9 227.3,599.4 228.6,596.0 229.9,592.7 231.2,589.6 232.5,586.5 233.8,583.6 235.1,580.8 236.4,578.1 237.7,575.6 239.0,573.2 240.3,570.9 241.6,568.7 242.9,566.7 244.2,564.7 245.5,562.9 246.8,561.2 248.1,559.6 249.4,558.1 250.7,556.7 252.0,555.4 253.4,554.1 254.7,553.0 256.0,551.9 257.3,550.9 258.6,550.0 259.9,549.1 261.2,548.3 262.5,547.6 263.8,546.9 265.1,546.3 266.4,545.7 267.7,545.1 269.0,544.6 270.3,544.2 271.6,543.7 272.9,543.3 274.2,543.0 275.5,542.6 276.8,542.3 278.1,542.0 279.4,541.8 280.7,541.5 282.0,541.3 283.3,541.1 284.6,540.9 285.9,540.7 287.2,540.5 288.5,540.4 289.8,540.3 291.1,540.1 292.4,540.0 293.7,539.9 295.0,539.8 296.3,539.7 297.6,539.6 298.9,539.5 300.2,539.5 301.5,539.4 302.8,539.3 304.1,539.3 305.4,539.2 306.7,539.2 308.0,539.1 309.3,539.1 310.6,539.1 311.9,539.0 313.2,539.0 314.5,539.0 315.8,538.9 317.1,538.9 318.4,538.9 319.7,538.9 321.0,538.9 322.3,538.8 323.6,538.8 324.9,538.8 326.2,538.8 327.5,538.8 328.8,538.8 330.1,538.8 331.5,538.7 332.8,538.7 334.1,538.7 335.4,538.7 336.7,538.7 338.0,538.7 339.3,538.7 340.6,538.7 341.9,538.7 343.2,538.7 344.5,538.7 345.8,538.7 347.1,538.7 348.4,538.7 349.7,538.7 351.0,538.7 352.3,538.7 353.6,538.7 354.9,538.7 356.2,538.7 357.5,538.7 358.8,538.7 360.1,538.6 361.4,538.6 362.7,538.6 364.0,538.6 365.3,538.6 366.6,538.6 367.9,538.6 369.2,538.6"/>
</g>
<path d="M56.80,730.00 V521.80 H369.20 V730.00 Z" fill="none" stroke="#000" stroke-width="2.5"/>
<line x1="53.40" y1="730.00" x2="56.80" y2="730.00" stroke="#000" stroke-width="2.1"/>
<text x="51.60" y="735.00" text-anchor="end" class="tk">0.0</text>
<line x1="53.40" y1="635.45" x2="56.80" y2="635.45" stroke="#000" stroke-width="2.1"/>
<text x="51.60" y="640.45" text-anchor="end" class="tk">0.5</text>
<line x1="53.40" y1="540.90" x2="56.80" y2="540.90" stroke="#000" stroke-width="2.1"/>
<text x="51.60" y="545.90" text-anchor="end" class="tk"><tspan class="one">1</tspan>.0</text>
<line x1="56.80" y1="730.00" x2="56.80" y2="733.60" stroke="#000" stroke-width="2.1"/>
<text x="56.80" y="747.80" text-anchor="middle" class="tk">20</text>
<line x1="160.93" y1="730.00" x2="160.93" y2="733.60" stroke="#000" stroke-width="2.1"/>
<text x="160.93" y="747.80" text-anchor="middle" class="tk">40</text>
<line x1="265.07" y1="730.00" x2="265.07" y2="733.60" stroke="#000" stroke-width="2.1"/>
<text x="265.07" y="747.80" text-anchor="middle" class="tk">60</text>
<line x1="369.20" y1="730.00" x2="369.20" y2="733.60" stroke="#000" stroke-width="2.1"/>
<text x="369.20" y="747.80" text-anchor="middle" class="tk">80</text>
<text x="213.00" y="769.90" text-anchor="middle" class="ax">Temperature (<tspan class="deg" dy="-5.5">o</tspan><tspan dy="5.5">C)</tspan></text>
<text transform="translate(22.00,620.65) rotate(-90)" text-anchor="middle" class="ay">Unfolded Fraction</text>
<text x="62.70" y="539.00" class="ttl">Mahidol</text>
<text x="193.30" y="555.50" text-anchor="end" class="hdr">T<tspan class="sub" dy="3">m</tspan><tspan dy="-3"> (</tspan><tspan class="deg2" dy="-3.5">o</tspan><tspan dy="3.5">C)</tspan></text>
<line x1="70.90" y1="568.60" x2="80.00" y2="568.60" stroke="#000" stroke-width="2.5"/>
<text x="86.20" y="572.50" class="lg" xml:space="preserve">0 µM NADP<tspan class="sup" dy="-4">+</tspan></text>
<text x="192.80" y="572.50" text-anchor="end" class="lg">5<tspan class="one">1</tspan>.65</text>
<line x1="70.90" y1="582.90" x2="77.70" y2="582.90" stroke="#000" stroke-width="2.5"/>
<text x="86.20" y="586.80" class="lg" xml:space="preserve"><tspan class="one">1</tspan>0 µM NADP<tspan class="sup" dy="-4">+</tspan></text>
<text x="192.80" y="586.80" text-anchor="end" class="lg">56.55</text>
<circle cx="71.50" cy="596.40" r="0.9" fill="#000"/><circle cx="78.90" cy="596.40" r="1.15" fill="#000"/>
<text x="86.20" y="600.30" class="lg" xml:space="preserve"><tspan class="one">1</tspan>00 µM NADP<tspan class="sup" dy="-4">+</tspan></text>
<text x="192.80" y="600.30" text-anchor="end" class="lg">60.74</text>
<line x1="70.10" y1="609.60" x2="76.80" y2="609.60" stroke="#0a0aff" stroke-width="2.6"/>
<text x="86.20" y="613.50" class="lg" xml:space="preserve"><tspan class="one">1</tspan>0 µM AG<tspan class="one">1</tspan></text>
<text x="192.80" y="613.50" text-anchor="end" class="lg">52.03</text>
<circle cx="71.30" cy="623.20" r="1.0" fill="#0a0aff"/><circle cx="78.50" cy="623.20" r="1.25" fill="#0a0aff"/>
<text x="86.20" y="627.10" class="lg" xml:space="preserve"><tspan class="one">1</tspan>00 µM AG<tspan class="one">1</tspan></text>
<text x="192.80" y="627.10" text-anchor="end" class="lg">50.54</text>
<clipPath id="c5"><rect x="467.60" y="522.10" width="312.30" height="210.15"/></clipPath>
<g clip-path="url(#c5)">
<polyline fill="none" stroke="#000" stroke-width="2.3" stroke-linecap="butt" stroke-linejoin="round" points="467.6,730.2 468.9,730.2 470.2,730.2 471.5,730.2 472.8,730.2 474.1,730.2 475.4,730.2 476.7,730.2 478.0,730.2 479.3,730.2 480.6,730.2 481.9,730.2 483.2,730.2 484.5,730.2 485.8,730.2 487.1,730.2 488.4,730.2 489.7,730.2 491.0,730.2 492.3,730.2 493.6,730.2 494.9,730.2 496.2,730.2 497.5,730.2 498.8,730.2 500.1,730.2 501.4,730.2 502.7,730.2 504.0,730.2 505.3,730.2 506.6,730.2 507.9,730.2 509.2,730.2 510.5,730.2 511.8,730.2 513.1,730.2 514.4,730.2 515.7,730.2 517.0,730.2 518.3,730.2 519.6,730.2 521.0,730.2 522.3,730.2 523.6,730.2 524.9,730.2 526.2,730.2 527.5,730.2 528.8,730.2 530.1,730.2 531.4,730.2 532.7,730.2 534.0,730.2 535.3,730.2 536.6,730.2 537.9,730.1 539.2,730.1 540.5,730.1 541.8,730.1 543.1,730.1 544.4,730.0 545.7,730.0 547.0,729.9 548.3,729.9 549.6,729.8 550.9,729.8 552.2,729.7 553.5,729.6 554.8,729.5 556.1,729.3 557.4,729.2 558.7,729.0 560.0,728.8 561.3,728.6 562.6,728.3 563.9,728.0 565.2,727.6 566.5,727.1 567.8,726.6 569.1,726.1 570.4,725.4 571.7,724.6 573.0,723.7 574.3,722.6 575.6,721.4 576.9,720.1 578.2,718.5 579.5,716.7 580.8,714.6 582.1,712.3 583.4,709.6 584.7,706.6 586.0,703.2 587.3,699.5 588.6,695.3 589.9,690.7 591.2,685.7 592.5,680.3 593.8,674.4 595.1,668.2 596.4,661.6 597.7,654.8 599.0,647.7 600.3,640.5 601.6,633.2 602.9,626.0 604.2,618.8 605.5,611.8 606.8,605.1 608.1,598.8 609.4,592.7 610.7,587.1 612.0,581.9 613.3,577.1 614.6,572.8 615.9,568.9 617.2,565.3 618.5,562.2 619.8,559.4 621.1,556.9 622.4,554.7 623.8,552.8 625.1,551.1 626.4,549.6 627.7,548.4 629.0,547.3 630.3,546.3 631.6,545.5 632.9,544.7 634.2,544.1 635.5,543.6 636.8,543.1 638.1,542.7 639.4,542.4 640.7,542.1 642.0,541.8 643.3,541.6 644.6,541.4 645.9,541.2 647.2,541.1 648.5,541.0 649.8,540.9 651.1,540.8 652.4,540.7 653.7,540.6 655.0,540.6 656.3,540.5 657.6,540.5 658.9,540.5 660.2,540.4 661.5,540.4 662.8,540.4 664.1,540.4 665.4,540.4 666.7,540.3 668.0,540.3 669.3,540.3 670.6,540.3 671.9,540.3 673.2,540.3 674.5,540.3 675.8,540.3 677.1,540.3 678.4,540.3 679.7,540.3 681.0,540.3 682.3,540.3 683.6,540.3 684.9,540.3 686.2,540.3 687.5,540.3 688.8,540.3 690.1,540.3 691.4,540.3 692.7,540.3 694.0,540.3 695.3,540.3 696.6,540.3 697.9,540.3 699.2,540.3 700.5,540.3 701.8,540.3 703.1,540.3 704.4,540.3 705.7,540.3 707.0,540.3 708.3,540.3 709.6,540.3 710.9,540.3 712.2,540.3 713.5,540.3 714.8,540.3 716.1,540.3 717.4,540.3 718.7,540.3 720.0,540.3 721.3,540.3 722.6,540.3 723.9,540.3 725.2,540.3 726.5,540.3 727.8,540.3 729.2,540.3 730.5,540.3 731.8,540.3 733.1,540.3 734.4,540.3 735.7,540.3 737.0,540.3 738.3,540.3 739.6,540.3 740.9,540.3 742.2,540.3 743.5,540.3 744.8,540.3 746.1,540.3 747.4,540.3 748.7,540.3 750.0,540.3 751.3,540.3 752.6,540.3 753.9,540.3 755.2,540.3 756.5,540.3 757.8,540.3 759.1,540.3 760.4,540.3 761.7,540.3 763.0,540.3 764.3,540.3 765.6,540.3 766.9,540.3 768.2,540.3 769.5,540.3 770.8,540.3 772.1,540.3 773.4,540.3 774.7,540.3 776.0,540.3 777.3,540.3 778.6,540.3 779.9,540.3"/>
<polyline fill="none" stroke="#000" stroke-width="2.4" stroke-linecap="round" stroke-linejoin="round" stroke-dasharray="4.9 8.2" points="467.6,730.2 468.9,730.2 470.2,730.2 471.5,730.2 472.8,730.2 474.1,730.2 475.4,730.2 476.7,730.2 478.0,730.2 479.3,730.2 480.6,730.2 481.9,730.2 483.2,730.2 484.5,730.2 485.8,730.2 487.1,730.2 488.4,730.2 489.7,730.2 491.0,730.2 492.3,730.2 493.6,730.2 494.9,730.2 496.2,730.2 497.5,730.2 498.8,730.2 500.1,730.2 501.4,730.2 502.7,730.2 504.0,730.2 505.3,730.2 506.6,730.2 507.9,730.2 509.2,730.2 510.5,730.2 511.8,730.2 513.1,730.1 514.4,730.1 515.7,730.1 517.0,730.1 518.3,730.1 519.6,730.1 521.0,730.1 522.3,730.1 523.6,730.0 524.9,730.0 526.2,730.0 527.5,730.0 528.8,729.9 530.1,729.9 531.4,729.9 532.7,729.8 534.0,729.8 535.3,729.8 536.6,729.7 537.9,729.7 539.2,729.6 540.5,729.5 541.8,729.5 543.1,729.4 544.4,729.3 545.7,729.2 547.0,729.1 548.3,729.0 549.6,728.9 550.9,728.8 552.2,728.6 553.5,728.5 554.8,728.3 556.1,728.1 557.4,727.9 558.7,727.7 560.0,727.5 561.3,727.2 562.6,726.9 563.9,726.6 565.2,726.2 566.5,725.8 567.8,725.4 569.1,725.0 570.4,724.5 571.7,723.9 573.0,723.3 574.3,722.7 575.6,722.0 576.9,721.2 578.2,720.4 579.5,719.5 580.8,718.5 582.1,717.5 583.4,716.3 584.7,715.1 586.0,713.7 587.3,712.3 588.6,710.7 589.9,709.0 591.2,707.2 592.5,705.3 593.8,703.2 595.1,701.0 596.4,698.6 597.7,696.1 599.0,693.4 600.3,690.6 601.6,687.6 602.9,684.5 604.2,681.2 605.5,677.8 606.8,674.2 608.1,670.4 609.4,666.6 610.7,662.6 612.0,658.5 613.3,654.3 614.6,650.1 615.9,645.8 617.2,641.4 618.5,637.0 619.8,632.6 621.1,628.2 622.4,623.9 623.8,619.6 625.1,615.3 626.4,611.2 627.7,607.1 629.0,603.1 630.3,599.3 631.6,595.6 632.9,592.0 634.2,588.6 635.5,585.4 636.8,582.3 638.1,579.3 639.4,576.5 640.7,573.9 642.0,571.4 643.3,569.1 644.6,566.9 645.9,564.8 647.2,562.9 648.5,561.1 649.8,559.5 651.1,557.9 652.4,556.5 653.7,555.2 655.0,553.9 656.3,552.8 657.6,551.8 658.9,550.8 660.2,549.9 661.5,549.1 662.8,548.4 664.1,547.7 665.4,547.0 666.7,546.5 668.0,545.9 669.3,545.4 670.6,545.0 671.9,544.6 673.2,544.2 674.5,543.9 675.8,543.5 677.1,543.3 678.4,543.0 679.7,542.8 681.0,542.5 682.3,542.3 683.6,542.2 684.9,542.0 686.2,541.8 687.5,541.7 688.8,541.6 690.1,541.5 691.4,541.4 692.7,541.3 694.0,541.2 695.3,541.1 696.6,541.0 697.9,540.9 699.2,540.9 700.5,540.8 701.8,540.8 703.1,540.7 704.4,540.7 705.7,540.7 707.0,540.6 708.3,540.6 709.6,540.6 710.9,540.5 712.2,540.5 713.5,540.5 714.8,540.5 716.1,540.4 717.4,540.4 718.7,540.4 720.0,540.4 721.3,540.4 722.6,540.4 723.9,540.4 725.2,540.4 726.5,540.3 727.8,540.3 729.2,540.3 730.5,540.3 731.8,540.3 733.1,540.3 734.4,540.3 735.7,540.3 737.0,540.3 738.3,540.3 739.6,540.3 740.9,540.3 742.2,540.3 743.5,540.3 744.8,540.3 746.1,540.3 747.4,540.3 748.7,540.3 750.0,540.3 751.3,540.3 752.6,540.3 753.9,540.3 755.2,540.3 756.5,540.3 757.8,540.3 759.1,540.3 760.4,540.3 761.7,540.3 763.0,540.3 764.3,540.3 765.6,540.3 766.9,540.3 768.2,540.3 769.5,540.3 770.8,540.3 772.1,540.3 773.4,540.3 774.7,540.3 776.0,540.3 777.3,540.3 778.6,540.3 779.9,540.3"/>
<polyline fill="none" stroke="#000" stroke-width="2.5" stroke-linecap="round" stroke-linejoin="round" stroke-dasharray="0.01 7.9" points="467.6,730.2 468.9,730.2 470.2,730.2 471.5,730.2 472.8,730.1 474.1,730.1 475.4,730.1 476.7,730.1 478.0,730.1 479.3,730.1 480.6,730.1 481.9,730.1 483.2,730.1 484.5,730.1 485.8,730.1 487.1,730.0 488.4,730.0 489.7,730.0 491.0,730.0 492.3,730.0 493.6,730.0 494.9,729.9 496.2,729.9 497.5,729.9 498.8,729.9 500.1,729.9 501.4,729.8 502.7,729.8 504.0,729.8 505.3,729.7 506.6,729.7 507.9,729.7 509.2,729.6 510.5,729.6 511.8,729.6 513.1,729.5 514.4,729.5 515.7,729.4 517.0,729.4 518.3,729.3 519.6,729.2 521.0,729.2 522.3,729.1 523.6,729.0 524.9,729.0 526.2,728.9 527.5,728.8 528.8,728.7 530.1,728.6 531.4,728.5 532.7,728.4 534.0,728.3 535.3,728.1 536.6,728.0 537.9,727.9 539.2,727.7 540.5,727.5 541.8,727.4 543.1,727.2 544.4,727.0 545.7,726.8 547.0,726.6 548.3,726.3 549.6,726.1 550.9,725.8 552.2,725.6 553.5,725.3 554.8,724.9 556.1,724.6 557.4,724.3 558.7,723.9 560.0,723.5 561.3,723.1 562.6,722.6 563.9,722.2 565.2,721.7 566.5,721.1 567.8,720.6 569.1,720.0 570.4,719.4 571.7,718.7 573.0,718.0 574.3,717.3 575.6,716.5 576.9,715.7 578.2,714.8 579.5,713.9 580.8,712.9 582.1,711.9 583.4,710.9 584.7,709.8 586.0,708.6 587.3,707.4 588.6,706.1 589.9,704.7 591.2,703.3 592.5,701.8 593.8,700.3 595.1,698.7 596.4,697.0 597.7,695.2 599.0,693.4 600.3,691.5 601.6,689.6 602.9,687.5 604.2,685.4 605.5,683.2 606.8,681.0 608.1,678.7 609.4,676.3 610.7,673.9 612.0,671.3 613.3,668.8 614.6,666.1 615.9,663.5 617.2,660.7 618.5,658.0 619.8,655.1 621.1,652.3 622.4,649.4 623.8,646.5 625.1,643.5 626.4,640.6 627.7,637.6 629.0,634.7 630.3,631.7 631.6,628.7 632.9,625.8 634.2,622.9 635.5,619.9 636.8,617.1 638.1,614.2 639.4,611.4 640.7,608.7 642.0,606.0 643.3,603.3 644.6,600.7 645.9,598.1 647.2,595.7 648.5,593.2 649.8,590.9 651.1,588.6 652.4,586.4 653.7,584.2 655.0,582.2 656.3,580.2 657.6,578.2 658.9,576.4 660.2,574.6 661.5,572.8 662.8,571.2 664.1,569.6 665.4,568.1 666.7,566.6 668.0,565.2 669.3,563.9 670.6,562.7 671.9,561.4 673.2,560.3 674.5,559.2 675.8,558.2 677.1,557.2 678.4,556.2 679.7,555.3 681.0,554.5 682.3,553.7 683.6,552.9 684.9,552.2 686.2,551.5 687.5,550.9 688.8,550.3 690.1,549.7 691.4,549.2 692.7,548.6 694.0,548.2 695.3,547.7 696.6,547.3 697.9,546.9 699.2,546.5 700.5,546.1 701.8,545.8 703.1,545.4 704.4,545.1 705.7,544.8 707.0,544.6 708.3,544.3 709.6,544.1 710.9,543.8 712.2,543.6 713.5,543.4 714.8,543.2 716.1,543.1 717.4,542.9 718.7,542.7 720.0,542.6 721.3,542.4 722.6,542.3 723.9,542.2 725.2,542.1 726.5,542.0 727.8,541.9 729.2,541.8 730.5,541.7 731.8,541.6 733.1,541.5 734.4,541.4 735.7,541.4 737.0,541.3 738.3,541.2 739.6,541.2 740.9,541.1 742.2,541.1 743.5,541.0 744.8,541.0 746.1,540.9 747.4,540.9 748.7,540.9 750.0,540.8 751.3,540.8 752.6,540.7 753.9,540.7 755.2,540.7 756.5,540.7 757.8,540.6 759.1,540.6 760.4,540.6 761.7,540.6 763.0,540.6 764.3,540.5 765.6,540.5 766.9,540.5 768.2,540.5 769.5,540.5 770.8,540.5 772.1,540.4 773.4,540.4 774.7,540.4 776.0,540.4 777.3,540.4 778.6,540.4 779.9,540.4"/>
<polyline fill="none" stroke="#0a0aff" stroke-width="2.5" stroke-linecap="round" stroke-linejoin="round" stroke-dasharray="4.3 8.25 0.01 8.25" points="467.6,730.2 468.9,730.2 470.2,730.2 471.5,730.2 472.8,730.2 474.1,730.2 475.4,730.2 476.7,730.2 478.0,730.2 479.3,730.2 480.6,730.2 481.9,730.2 483.2,730.2 484.5,730.2 485.8,730.2 487.1,730.2 488.4,730.2 489.7,730.2 491.0,730.2 492.3,730.2 493.6,730.2 494.9,730.2 496.2,730.2 497.5,730.2 498.8,730.2 500.1,730.2 501.4,730.2 502.7,730.2 504.0,730.2 505.3,730.2 506.6,730.2 507.9,730.2 509.2,730.2 510.5,730.2 511.8,730.2 513.1,730.2 514.4,730.2 515.7,730.2 517.0,730.2 518.3,730.2 519.6,730.2 521.0,730.2 522.3,730.2 523.6,730.2 524.9,730.2 526.2,730.2 527.5,730.2 528.8,730.2 530.1,730.2 531.4,730.2 532.7,730.2 534.0,730.2 535.3,730.2 536.6,730.1 537.9,730.1 539.2,730.1 540.5,730.1 541.8,730.0 543.1,730.0 544.4,730.0 545.7,729.9 547.0,729.9 548.3,729.8 549.6,729.7 550.9,729.6 552.2,729.5 553.5,729.4 554.8,729.3 556.1,729.1 557.4,729.0 558.7,728.7 560.0,728.5 561.3,728.2 562.6,727.9 563.9,727.5 565.2,727.0 566.5,726.5 567.8,725.9 569.1,725.2 570.4,724.4 571.7,723.4 573.0,722.4 574.3,721.1 575.6,719.7 576.9,718.1 578.2,716.2 579.5,714.1 580.8,711.6 582.1,708.9 583.4,705.8 584.7,702.4 586.0,698.5 587.3,694.2 588.6,689.5 589.9,684.4 591.2,678.9 592.5,672.9 593.8,666.6 595.1,659.9 596.4,653.0 597.7,645.9 599.0,638.7 600.3,631.4 601.6,624.1 602.9,617.0 604.2,610.1 605.5,603.5 606.8,597.1 608.1,591.2 609.4,585.7 610.7,580.6 612.0,575.9 613.3,571.7 614.6,567.8 615.9,564.4 617.2,561.3 618.5,558.6 619.8,556.2 621.1,554.0 622.4,552.2 623.8,550.6 625.1,549.1 626.4,547.9 627.7,546.8 629.0,545.9 630.3,545.1 631.6,544.4 632.9,543.8 634.2,543.3 635.5,542.8 636.8,542.4 638.1,542.1 639.4,541.8 640.7,541.6 642.0,541.4 643.3,541.2 644.6,541.0 645.9,540.9 647.2,540.8 648.5,540.7 649.8,540.6 651.1,540.5 652.4,540.4 653.7,540.4 655.0,540.3 656.3,540.3 657.6,540.3 658.9,540.2 660.2,540.2 661.5,540.2 662.8,540.2 664.1,540.2 665.4,540.1 666.7,540.1 668.0,540.1 669.3,540.1 670.6,540.1 671.9,540.1 673.2,540.1 674.5,540.1 675.8,540.1 677.1,540.1 678.4,540.1 679.7,540.1 681.0,540.1 682.3,540.1 683.6,540.1 684.9,540.1 686.2,540.1 687.5,540.1 688.8,540.1 690.1,540.1 691.4,540.1 692.7,540.1 694.0,540.1 695.3,540.1 696.6,540.1 697.9,540.1 699.2,540.1 700.5,540.1 701.8,540.1 703.1,540.1 704.4,540.1 705.7,540.1 707.0,540.1 708.3,540.1 709.6,540.1 710.9,540.1 712.2,540.1 713.5,540.1 714.8,540.1 716.1,540.1 717.4,540.1 718.7,540.1 720.0,540.1 721.3,540.1 722.6,540.1 723.9,540.1 725.2,540.1 726.5,540.1 727.8,540.1 729.2,540.1 730.5,540.1 731.8,540.1 733.1,540.1 734.4,540.1 735.7,540.1 737.0,540.1 738.3,540.1 739.6,540.1 740.9,540.1 742.2,540.1 743.5,540.1 744.8,540.1 746.1,540.1 747.4,540.1 748.7,540.1 750.0,540.1 751.3,540.1 752.6,540.1 753.9,540.1 755.2,540.1 756.5,540.1 757.8,540.1 759.1,540.1 760.4,540.1 761.7,540.1 763.0,540.1 764.3,540.1 765.6,540.1 766.9,540.1 768.2,540.1 769.5,540.1 770.8,540.1 772.1,540.1 773.4,540.1 774.7,540.1 776.0,540.1 777.3,540.1 778.6,540.1 779.9,540.1"/>
<polyline fill="none" stroke="#0a0aff" stroke-width="2.7" stroke-linecap="round" stroke-linejoin="round" stroke-dasharray="0.01 7.9" points="467.6,730.2 468.9,730.2 470.2,730.2 471.5,730.2 472.8,730.2 474.1,730.2 475.4,730.2 476.7,730.2 478.0,730.2 479.3,730.2 480.6,730.2 481.9,730.2 483.2,730.2 484.5,730.2 485.8,730.2 487.1,730.2 488.4,730.2 489.7,730.2 491.0,730.2 492.3,730.2 493.6,730.2 494.9,730.2 496.2,730.2 497.5,730.2 498.8,730.2 500.1,730.2 501.4,730.2 502.7,730.2 504.0,730.2 505.3,730.2 506.6,730.2 507.9,730.2 509.2,730.2 510.5,730.2 511.8,730.2 513.1,730.2 514.4,730.2 515.7,730.2 517.0,730.2 518.3,730.2 519.6,730.2 521.0,730.2 522.3,730.2 523.6,730.2 524.9,730.2 526.2,730.2 527.5,730.2 528.8,730.2 530.1,730.2 531.4,730.2 532.7,730.2 534.0,730.2 535.3,730.2 536.6,730.2 537.9,730.1 539.2,730.1 540.5,730.1 541.8,730.1 543.1,730.1 544.4,730.0 545.7,730.0 547.0,729.9 548.3,729.9 549.6,729.8 550.9,729.8 552.2,729.7 553.5,729.6 554.8,729.5 556.1,729.4 557.4,729.2 558.7,729.0 560.0,728.8 561.3,728.6 562.6,728.3 563.9,728.0 565.2,727.6 566.5,727.2 567.8,726.7 569.1,726.2 570.4,725.5 571.7,724.7 573.0,723.8 574.3,722.8 575.6,721.6 576.9,720.3 578.2,718.7 579.5,717.0 580.8,714.9 582.1,712.6 583.4,710.0 584.7,707.1 586.0,703.8 587.3,700.1 588.6,696.0 589.9,691.5 591.2,686.5 592.5,681.1 593.8,675.3 595.1,669.2 596.4,662.6 597.7,655.8 599.0,648.8 600.3,641.6 601.6,634.3 602.9,627.0 604.2,619.8 605.5,612.8 606.8,606.1 608.1,599.6 609.4,593.5 610.7,587.8 612.0,582.6 613.3,577.7 614.6,573.3 615.9,569.3 617.2,565.7 618.5,562.5 619.8,559.6 621.1,557.1 622.4,554.9 623.8,552.9 625.1,551.2 626.4,549.7 627.7,548.4 629.0,547.2 630.3,546.3 631.6,545.4 632.9,544.7 634.2,544.0 635.5,543.5 636.8,543.0 638.1,542.6 639.4,542.2 640.7,541.9 642.0,541.7 643.3,541.4 644.6,541.2 645.9,541.1 647.2,540.9 648.5,540.8 649.8,540.7 651.1,540.6 652.4,540.5 653.7,540.5 655.0,540.4 656.3,540.4 657.6,540.3 658.9,540.3 660.2,540.3 661.5,540.2 662.8,540.2 664.1,540.2 665.4,540.2 666.7,540.2 668.0,540.1 669.3,540.1 670.6,540.1 671.9,540.1 673.2,540.1 674.5,540.1 675.8,540.1 677.1,540.1 678.4,540.1 679.7,540.1 681.0,540.1 682.3,540.1 683.6,540.1 684.9,540.1 686.2,540.1 687.5,540.1 688.8,540.1 690.1,540.1 691.4,540.1 692.7,540.1 694.0,540.1 695.3,540.1 696.6,540.1 697.9,540.1 699.2,540.1 700.5,540.1 701.8,540.1 703.1,540.1 704.4,540.1 705.7,540.1 707.0,540.1 708.3,540.1 709.6,540.1 710.9,540.1 712.2,540.1 713.5,540.1 714.8,540.1 716.1,540.1 717.4,540.1 718.7,540.1 720.0,540.1 721.3,540.1 722.6,540.1 723.9,540.1 725.2,540.1 726.5,540.1 727.8,540.1 729.2,540.1 730.5,540.1 731.8,540.1 733.1,540.1 734.4,540.1 735.7,540.1 737.0,540.1 738.3,540.1 739.6,540.1 740.9,540.1 742.2,540.1 743.5,540.1 744.8,540.1 746.1,540.1 747.4,540.1 748.7,540.1 750.0,540.1 751.3,540.1 752.6,540.1 753.9,540.1 755.2,540.1 756.5,540.1 757.8,540.1 759.1,540.1 760.4,540.1 761.7,540.1 763.0,540.1 764.3,540.1 765.6,540.1 766.9,540.1 768.2,540.1 769.5,540.1 770.8,540.1 772.1,540.1 773.4,540.1 774.7,540.1 776.0,540.1 777.3,540.1 778.6,540.1 779.9,540.1"/>
</g>
<path d="M467.60,730.25 V522.10 H779.90 V730.25 Z" fill="none" stroke="#000" stroke-width="2.5"/>
<line x1="464.20" y1="730.25" x2="467.60" y2="730.25" stroke="#000" stroke-width="2.1"/>
<text x="462.40" y="735.25" text-anchor="end" class="tk">0.0</text>
<line x1="464.20" y1="635.73" x2="467.60" y2="635.73" stroke="#000" stroke-width="2.1"/>
<text x="462.40" y="640.73" text-anchor="end" class="tk">0.5</text>
<line x1="464.20" y1="541.20" x2="467.60" y2="541.20" stroke="#000" stroke-width="2.1"/>
<text x="462.40" y="546.20" text-anchor="end" class="tk"><tspan class="one">1</tspan>.0</text>
<line x1="467.60" y1="730.25" x2="467.60" y2="733.85" stroke="#000" stroke-width="2.1"/>
<text x="467.60" y="748.05" text-anchor="middle" class="tk">20</text>
<line x1="571.70" y1="730.25" x2="571.70" y2="733.85" stroke="#000" stroke-width="2.1"/>
<text x="571.70" y="748.05" text-anchor="middle" class="tk">40</text>
<line x1="675.80" y1="730.25" x2="675.80" y2="733.85" stroke="#000" stroke-width="2.1"/>
<text x="675.80" y="748.05" text-anchor="middle" class="tk">60</text>
<line x1="779.90" y1="730.25" x2="779.90" y2="733.85" stroke="#000" stroke-width="2.1"/>
<text x="779.90" y="748.05" text-anchor="middle" class="tk">80</text>
<text x="623.75" y="770.15" text-anchor="middle" class="ax">Temperature (<tspan class="deg" dy="-5.5">o</tspan><tspan dy="5.5">C)</tspan></text>
<text transform="translate(432.00,620.93) rotate(-90)" text-anchor="middle" class="ay">Unfolded Fraction</text>
<text x="474.00" y="539.00" class="ttl">Mahidol+Canton</text>
<text x="593.10" y="556.70" text-anchor="end" class="hdr">T<tspan class="sub" dy="3">m</tspan><tspan dy="-3"> (</tspan><tspan class="deg2" dy="-3.5">o</tspan><tspan dy="3.5">C)</tspan></text>
<line x1="471.70" y1="569.70" x2="480.80" y2="569.70" stroke="#000" stroke-width="2.5"/>
<text x="487.00" y="573.60" class="lg" xml:space="preserve">0 <tspan class="mu">µ</tspan>M NADP<tspan class="sup" dy="-4">+</tspan></text>
<text x="592.70" y="573.60" text-anchor="end" class="lg">45.73</text>
<line x1="471.70" y1="582.70" x2="478.50" y2="582.70" stroke="#000" stroke-width="2.5"/>
<text x="487.00" y="586.60" class="lg" xml:space="preserve"><tspan class="one">1</tspan>0 <tspan class="mu">µ</tspan>M NADP<tspan class="sup" dy="-4">+</tspan></text>
<text x="592.70" y="586.60" text-anchor="end" class="lg">49.03</text>
<circle cx="472.30" cy="596.40" r="0.9" fill="#000"/><circle cx="479.70" cy="596.40" r="1.15" fill="#000"/>
<text x="487.00" y="600.30" class="lg" xml:space="preserve"><tspan class="one">1</tspan>00 <tspan class="mu">µ</tspan>M NADP<tspan class="sup" dy="-4">+</tspan></text>
<text x="592.70" y="600.30" text-anchor="end" class="lg">5<tspan class="one">1</tspan>.05</text>
<line x1="470.90" y1="610.70" x2="477.60" y2="610.70" stroke="#0a0aff" stroke-width="2.6"/>
<text x="487.00" y="614.60" class="lg" xml:space="preserve"><tspan class="one">1</tspan>0 <tspan class="mu">µ</tspan>M AG<tspan class="one">1</tspan></text>
<text x="592.70" y="614.60" text-anchor="end" class="lg">45.42</text>
<circle cx="472.10" cy="623.20" r="1.0" fill="#0a0aff"/><circle cx="479.30" cy="623.20" r="1.25" fill="#0a0aff"/>
<text x="487.00" y="627.10" class="lg" xml:space="preserve"><tspan class="one">1</tspan>00 mM AG<tspan class="one">1</tspan></text>
<text x="592.70" y="627.10" text-anchor="end" class="lg">45.77</text>
<clipPath id="c6"><rect x="57.80" y="783.40" width="312.60" height="210.60"/></clipPath>
<g clip-path="url(#c6)">
<polyline fill="none" stroke="#000" stroke-width="2.3" stroke-linecap="butt" stroke-linejoin="round" points="57.8,990.9 59.1,990.9 60.4,990.9 61.7,990.9 63.0,990.9 64.3,990.9 65.6,990.9 66.9,990.9 68.2,990.9 69.5,990.9 70.8,990.9 72.1,990.9 73.4,990.9 74.7,990.9 76.0,990.9 77.3,990.9 78.6,990.9 79.9,990.9 81.2,990.9 82.5,990.9 83.8,990.9 85.2,990.9 86.5,990.9 87.8,990.9 89.1,990.9 90.4,990.9 91.7,990.9 93.0,990.8 94.3,990.8 95.6,990.8 96.9,990.8 98.2,990.8 99.5,990.8 100.8,990.8 102.1,990.8 103.4,990.8 104.7,990.8 106.0,990.8 107.3,990.8 108.6,990.8 109.9,990.8 111.2,990.8 112.5,990.8 113.8,990.8 115.1,990.8 116.4,990.8 117.7,990.8 119.0,990.8 120.3,990.8 121.6,990.7 122.9,990.7 124.2,990.7 125.5,990.7 126.8,990.7 128.1,990.7 129.4,990.7 130.7,990.6 132.0,990.6 133.3,990.6 134.6,990.6 135.9,990.5 137.3,990.5 138.6,990.5 139.9,990.4 141.2,990.4 142.5,990.3 143.8,990.3 145.1,990.2 146.4,990.1 147.7,990.1 149.0,990.0 150.3,989.9 151.6,989.8 152.9,989.7 154.2,989.5 155.5,989.4 156.8,989.3 158.1,989.1 159.4,988.9 160.7,988.7 162.0,988.5 163.3,988.3 164.6,988.0 165.9,987.7 167.2,987.4 168.5,987.1 169.8,986.7 171.1,986.2 172.4,985.8 173.7,985.3 175.0,984.7 176.3,984.1 177.6,983.4 178.9,982.7 180.2,981.9 181.5,981.0 182.8,980.1 184.1,979.0 185.4,977.9 186.7,976.7 188.0,975.3 189.4,973.9 190.7,972.3 192.0,970.6 193.3,968.7 194.6,966.7 195.9,964.6 197.2,962.3 198.5,959.8 199.8,957.2 201.1,954.4 202.4,951.4 203.7,948.3 205.0,945.0 206.3,941.5 207.6,937.8 208.9,934.0 210.2,930.0 211.5,925.8 212.8,921.6 214.1,917.2 215.4,912.7 216.7,908.2 218.0,903.6 219.3,898.9 220.6,894.3 221.9,889.6 223.2,885.0 224.5,880.4 225.8,875.9 227.1,871.5 228.4,867.2 229.7,863.1 231.0,859.0 232.3,855.1 233.6,851.4 234.9,847.8 236.2,844.4 237.5,841.2 238.8,838.2 240.1,835.3 241.5,832.6 242.8,830.1 244.1,827.8 245.4,825.6 246.7,823.5 248.0,821.6 249.3,819.9 250.6,818.2 251.9,816.7 253.2,815.4 254.5,814.1 255.8,812.9 257.1,811.8 258.4,810.9 259.7,810.0 261.0,809.1 262.3,808.4 263.6,807.7 264.9,807.0 266.2,806.5 267.5,805.9 268.8,805.5 270.1,805.0 271.4,804.6 272.7,804.3 274.0,803.9 275.3,803.6 276.6,803.4 277.9,803.1 279.2,802.9 280.5,802.7 281.8,802.5 283.1,802.3 284.4,802.2 285.7,802.1 287.0,801.9 288.3,801.8 289.6,801.7 290.9,801.6 292.2,801.5 293.6,801.5 294.9,801.4 296.2,801.3 297.5,801.3 298.8,801.2 300.1,801.2 301.4,801.1 302.7,801.1 304.0,801.0 305.3,801.0 306.6,801.0 307.9,801.0 309.2,800.9 310.5,800.9 311.8,800.9 313.1,800.9 314.4,800.9 315.7,800.8 317.0,800.8 318.3,800.8 319.6,800.8 320.9,800.8 322.2,800.8 323.5,800.8 324.8,800.8 326.1,800.8 327.4,800.8 328.7,800.7 330.0,800.7 331.3,800.7 332.6,800.7 333.9,800.7 335.2,800.7 336.5,800.7 337.8,800.7 339.1,800.7 340.4,800.7 341.7,800.7 343.0,800.7 344.3,800.7 345.7,800.7 347.0,800.7 348.3,800.7 349.6,800.7 350.9,800.7 352.2,800.7 353.5,800.7 354.8,800.7 356.1,800.7 357.4,800.7 358.7,800.7 360.0,800.7 361.3,800.7 362.6,800.7 363.9,800.7 365.2,800.7 366.5,800.7 367.8,800.7 369.1,800.7 370.4,800.7"/>
<polyline fill="none" stroke="#000" stroke-width="2.4" stroke-linecap="round" stroke-linejoin="round" stroke-dasharray="4.9 8.2" points="57.8,991.1 59.1,991.1 60.4,991.1 61.7,991.1 63.0,991.1 64.3,991.1 65.6,991.1 66.9,991.1 68.2,991.1 69.5,991.1 70.8,991.1 72.1,991.1 73.4,991.1 74.7,991.1 76.0,991.1 77.3,991.1 78.6,991.1 79.9,991.1 81.2,991.1 82.5,991.1 83.8,991.1 85.2,991.1 86.5,991.1 87.8,991.1 89.1,991.1 90.4,991.1 91.7,991.1 93.0,991.1 94.3,991.1 95.6,991.1 96.9,991.1 98.2,991.1 99.5,991.1 100.8,991.1 102.1,991.1 103.4,991.1 104.7,991.1 106.0,991.1 107.3,991.1 108.6,991.0 109.9,991.0 111.2,991.0 112.5,991.0 113.8,991.0 115.1,991.0 116.4,991.0 117.7,991.0 119.0,991.0 120.3,991.0 121.6,991.0 122.9,991.0 124.2,991.0 125.5,991.0 126.8,991.0 128.1,991.0 129.4,991.0 130.7,991.0 132.0,991.0 133.3,991.0 134.6,991.0 135.9,991.0 137.3,991.0 138.6,991.0 139.9,991.0 141.2,991.0 142.5,991.0 143.8,991.0 145.1,991.0 146.4,991.0 147.7,991.0 149.0,991.0 150.3,991.0 151.6,991.0 152.9,991.0 154.2,990.9 155.5,990.9 156.8,990.9 158.1,990.9 159.4,990.9 160.7,990.9 162.0,990.8 163.3,990.8 164.6,990.8 165.9,990.8 167.2,990.7 168.5,990.7 169.8,990.6 171.1,990.6 172.4,990.5 173.7,990.5 175.0,990.4 176.3,990.3 177.6,990.2 178.9,990.1 180.2,990.0 181.5,989.9 182.8,989.8 184.1,989.6 185.4,989.5 186.7,989.3 188.0,989.1 189.4,988.8 190.7,988.6 192.0,988.3 193.3,987.9 194.6,987.6 195.9,987.2 197.2,986.7 198.5,986.2 199.8,985.7 201.1,985.0 202.4,984.4 203.7,983.6 205.0,982.7 206.3,981.8 207.6,980.7 208.9,979.6 210.2,978.3 211.5,976.9 212.8,975.4 214.1,973.7 215.4,971.8 216.7,969.8 218.0,967.5 219.3,965.1 220.6,962.5 221.9,959.6 223.2,956.6 224.5,953.3 225.8,949.8 227.1,946.0 228.4,942.0 229.7,937.8 231.0,933.4 232.3,928.8 233.6,924.0 234.9,919.0 236.2,913.9 237.5,908.7 238.8,903.4 240.1,898.0 241.5,892.7 242.8,887.3 244.1,882.0 245.4,876.8 246.7,871.8 248.0,866.8 249.3,862.0 250.6,857.5 251.9,853.1 253.2,848.9 254.5,845.0 255.8,841.3 257.1,837.8 258.4,834.5 259.7,831.5 261.0,828.7 262.3,826.1 263.6,823.7 264.9,821.6 266.2,819.6 267.5,817.7 268.8,816.1 270.1,814.5 271.4,813.2 272.7,811.9 274.0,810.8 275.3,809.8 276.6,808.8 277.9,808.0 279.2,807.3 280.5,806.6 281.8,806.0 283.1,805.4 284.4,804.9 285.7,804.5 287.0,804.1 288.3,803.7 289.6,803.4 290.9,803.1 292.2,802.9 293.6,802.6 294.9,802.4 296.2,802.3 297.5,802.1 298.8,801.9 300.1,801.8 301.4,801.7 302.7,801.6 304.0,801.5 305.3,801.4 306.6,801.3 307.9,801.3 309.2,801.2 310.5,801.1 311.8,801.1 313.1,801.1 314.4,801.0 315.7,801.0 317.0,801.0 318.3,800.9 319.6,800.9 320.9,800.9 322.2,800.9 323.5,800.8 324.8,800.8 326.1,800.8 327.4,800.8 328.7,800.8 330.0,800.8 331.3,800.8 332.6,800.8 333.9,800.8 335.2,800.7 336.5,800.7 337.8,800.7 339.1,800.7 340.4,800.7 341.7,800.7 343.0,800.7 344.3,800.7 345.7,800.7 347.0,800.7 348.3,800.7 349.6,800.7 350.9,800.7 352.2,800.7 353.5,800.7 354.8,800.7 356.1,800.7 357.4,800.7 358.7,800.7 360.0,800.7 361.3,800.7 362.6,800.7 363.9,800.7 365.2,800.7 366.5,800.7 367.8,800.7 369.1,800.7 370.4,800.7"/>
<polyline fill="none" stroke="#000" stroke-width="2.5" stroke-linecap="round" stroke-linejoin="round" stroke-dasharray="0.01 7.9" points="57.8,991.1 59.1,991.1 60.4,991.1 61.7,991.1 63.0,991.1 64.3,991.1 65.6,991.1 66.9,991.1 68.2,991.1 69.5,991.1 70.8,991.1 72.1,991.1 73.4,991.1 74.7,991.1 76.0,991.1 77.3,991.1 78.6,991.1 79.9,991.1 81.2,991.1 82.5,991.1 83.8,991.1 85.2,991.1 86.5,991.1 87.8,991.1 89.1,991.1 90.4,991.1 91.7,991.1 93.0,991.1 94.3,991.1 95.6,991.1 96.9,991.1 98.2,991.1 99.5,991.1 100.8,991.1 102.1,991.1 103.4,991.1 104.7,991.1 106.0,991.1 107.3,991.1 108.6,991.1 109.9,991.1 111.2,991.1 112.5,991.1 113.8,991.1 115.1,991.1 116.4,991.1 117.7,991.1 119.0,991.1 120.3,991.1 121.6,991.1 122.9,991.1 124.2,991.1 125.5,991.1 126.8,991.1 128.1,991.1 129.4,991.0 130.7,991.0 132.0,991.0 133.3,991.0 134.6,991.0 135.9,991.0 137.3,991.0 138.6,991.0 139.9,991.0 141.2,991.0 142.5,991.0 143.8,991.0 145.1,991.0 146.4,991.0 147.7,991.0 149.0,991.0 150.3,991.0 151.6,991.0 152.9,991.0 154.2,991.0 155.5,991.0 156.8,991.0 158.1,991.0 159.4,991.0 160.7,991.0 162.0,991.0 163.3,991.0 164.6,991.0 165.9,991.0 167.2,991.0 168.5,991.0 169.8,991.0 171.1,991.0 172.4,991.0 173.7,991.0 175.0,990.9 176.3,990.9 177.6,990.9 178.9,990.9 180.2,990.9 181.5,990.9 182.8,990.8 184.1,990.8 185.4,990.8 186.7,990.8 188.0,990.7 189.4,990.7 190.7,990.6 192.0,990.6 193.3,990.5 194.6,990.5 195.9,990.4 197.2,990.3 198.5,990.2 199.8,990.1 201.1,990.0 202.4,989.9 203.7,989.8 205.0,989.6 206.3,989.5 207.6,989.3 208.9,989.1 210.2,988.8 211.5,988.6 212.8,988.3 214.1,987.9 215.4,987.6 216.7,987.2 218.0,986.7 219.3,986.2 220.6,985.6 221.9,985.0 223.2,984.3 224.5,983.6 225.8,982.7 227.1,981.7 228.4,980.7 229.7,979.5 231.0,978.3 232.3,976.9 233.6,975.3 234.9,973.6 236.2,971.7 237.5,969.7 238.8,967.4 240.1,965.0 241.5,962.4 242.8,959.5 244.1,956.5 245.4,953.2 246.7,949.6 248.0,945.8 249.3,941.9 250.6,937.6 251.9,933.2 253.2,928.6 254.5,923.8 255.8,918.8 257.1,913.7 258.4,908.4 259.7,903.1 261.0,897.8 262.3,892.4 263.6,887.1 264.9,881.8 266.2,876.6 267.5,871.6 268.8,866.6 270.1,861.9 271.4,857.3 272.7,852.9 274.0,848.7 275.3,844.8 276.6,841.1 277.9,837.6 279.2,834.4 280.5,831.4 281.8,828.6 283.1,826.0 284.4,823.7 285.7,821.5 287.0,819.5 288.3,817.7 289.6,816.0 290.9,814.5 292.2,813.1 293.6,811.9 294.9,810.7 296.2,809.7 297.5,808.8 298.8,808.0 300.1,807.2 301.4,806.5 302.7,805.9 304.0,805.4 305.3,804.9 306.6,804.5 307.9,804.1 309.2,803.7 310.5,803.4 311.8,803.1 313.1,802.9 314.4,802.6 315.7,802.4 317.0,802.2 318.3,802.1 319.6,801.9 320.9,801.8 322.2,801.7 323.5,801.6 324.8,801.5 326.1,801.4 327.4,801.3 328.7,801.3 330.0,801.2 331.3,801.1 332.6,801.1 333.9,801.1 335.2,801.0 336.5,801.0 337.8,801.0 339.1,800.9 340.4,800.9 341.7,800.9 343.0,800.9 344.3,800.8 345.7,800.8 347.0,800.8 348.3,800.8 349.6,800.8 350.9,800.8 352.2,800.8 353.5,800.8 354.8,800.8 356.1,800.7 357.4,800.7 358.7,800.7 360.0,800.7 361.3,800.7 362.6,800.7 363.9,800.7 365.2,800.7 366.5,800.7 367.8,800.7 369.1,800.7 370.4,800.7"/>
<polyline fill="none" stroke="#0a0aff" stroke-width="2.5" stroke-linecap="round" stroke-linejoin="round" stroke-dasharray="4.3 8.25 0.01 8.25" points="57.8,990.5 59.1,990.5 60.4,990.5 61.7,990.5 63.0,990.5 64.3,990.5 65.6,990.5 66.9,990.5 68.2,990.5 69.5,990.5 70.8,990.5 72.1,990.5 73.4,990.5 74.7,990.5 76.0,990.5 77.3,990.5 78.6,990.5 79.9,990.5 81.2,990.5 82.5,990.5 83.8,990.5 85.2,990.5 86.5,990.5 87.8,990.5 89.1,990.5 90.4,990.5 91.7,990.5 93.0,990.5 94.3,990.5 95.6,990.5 96.9,990.5 98.2,990.5 99.5,990.5 100.8,990.5 102.1,990.5 103.4,990.5 104.7,990.4 106.0,990.4 107.3,990.4 108.6,990.4 109.9,990.4 111.2,990.4 112.5,990.4 113.8,990.4 115.1,990.4 116.4,990.4 117.7,990.4 119.0,990.4 120.3,990.4 121.6,990.4 122.9,990.4 124.2,990.3 125.5,990.3 126.8,990.3 128.1,990.3 129.4,990.3 130.7,990.2 132.0,990.2 133.3,990.2 134.6,990.2 135.9,990.1 137.3,990.1 138.6,990.1 139.9,990.0 141.2,990.0 142.5,989.9 143.8,989.9 145.1,989.8 146.4,989.7 147.7,989.6 149.0,989.6 150.3,989.5 151.6,989.4 152.9,989.2 154.2,989.1 155.5,989.0 156.8,988.8 158.1,988.6 159.4,988.5 160.7,988.2 162.0,988.0 163.3,987.8 164.6,987.5 165.9,987.2 167.2,986.9 168.5,986.5 169.8,986.1 171.1,985.7 172.4,985.2 173.7,984.6 175.0,984.1 176.3,983.4 177.6,982.7 178.9,982.0 180.2,981.1 181.5,980.2 182.8,979.2 184.1,978.1 185.4,977.0 186.7,975.7 188.0,974.3 189.4,972.8 190.7,971.1 192.0,969.4 193.3,967.4 194.6,965.4 195.9,963.2 197.2,960.8 198.5,958.3 199.8,955.5 201.1,952.7 202.4,949.6 203.7,946.4 205.0,943.0 206.3,939.4 207.6,935.6 208.9,931.7 210.2,927.7 211.5,923.5 212.8,919.2 214.1,914.8 215.4,910.3 216.7,905.7 218.0,901.1 219.3,896.4 220.6,891.8 221.9,887.1 223.2,882.5 224.5,878.0 225.8,873.5 227.1,869.2 228.4,865.0 229.7,860.8 231.0,856.9 232.3,853.1 233.6,849.4 234.9,846.0 236.2,842.7 237.5,839.5 238.8,836.6 240.1,833.8 241.5,831.2 242.8,828.7 244.1,826.5 245.4,824.3 246.7,822.4 248.0,820.6 249.3,818.9 250.6,817.3 251.9,815.9 253.2,814.5 254.5,813.3 255.8,812.2 257.1,811.2 258.4,810.2 259.7,809.3 261.0,808.6 262.3,807.8 263.6,807.2 264.9,806.6 266.2,806.0 267.5,805.5 268.8,805.1 270.1,804.6 271.4,804.3 272.7,803.9 274.0,803.6 275.3,803.3 276.6,803.1 277.9,802.8 279.2,802.6 280.5,802.4 281.8,802.2 283.1,802.1 284.4,801.9 285.7,801.8 287.0,801.7 288.3,801.6 289.6,801.5 290.9,801.4 292.2,801.3 293.6,801.2 294.9,801.2 296.2,801.1 297.5,801.0 298.8,801.0 300.1,800.9 301.4,800.9 302.7,800.9 304.0,800.8 305.3,800.8 306.6,800.8 307.9,800.8 309.2,800.7 310.5,800.7 311.8,800.7 313.1,800.7 314.4,800.7 315.7,800.6 317.0,800.6 318.3,800.6 319.6,800.6 320.9,800.6 322.2,800.6 323.5,800.6 324.8,800.6 326.1,800.6 327.4,800.6 328.7,800.6 330.0,800.6 331.3,800.5 332.6,800.5 333.9,800.5 335.2,800.5 336.5,800.5 337.8,800.5 339.1,800.5 340.4,800.5 341.7,800.5 343.0,800.5 344.3,800.5 345.7,800.5 347.0,800.5 348.3,800.5 349.6,800.5 350.9,800.5 352.2,800.5 353.5,800.5 354.8,800.5 356.1,800.5 357.4,800.5 358.7,800.5 360.0,800.5 361.3,800.5 362.6,800.5 363.9,800.5 365.2,800.5 366.5,800.5 367.8,800.5 369.1,800.5 370.4,800.5"/>
<polyline fill="none" stroke="#0a0aff" stroke-width="2.7" stroke-linecap="round" stroke-linejoin="round" stroke-dasharray="0.01 7.9" points="57.8,990.9 59.1,990.9 60.4,990.9 61.7,990.9 63.0,990.9 64.3,990.9 65.6,990.9 66.9,990.9 68.2,990.9 69.5,990.9 70.8,990.9 72.1,990.9 73.4,990.9 74.7,990.9 76.0,990.9 77.3,990.9 78.6,990.9 79.9,990.9 81.2,990.9 82.5,990.9 83.8,990.9 85.2,990.9 86.5,990.9 87.8,990.9 89.1,990.9 90.4,990.9 91.7,990.9 93.0,990.9 94.3,990.9 95.6,990.9 96.9,990.9 98.2,990.9 99.5,990.9 100.8,990.9 102.1,990.9 103.4,990.9 104.7,990.9 106.0,990.9 107.3,990.9 108.6,990.9 109.9,990.9 111.2,990.8 112.5,990.8 113.8,990.8 115.1,990.8 116.4,990.8 117.7,990.8 119.0,990.8 120.3,990.8 121.6,990.8 122.9,990.8 124.2,990.8 125.5,990.8 126.8,990.8 128.1,990.8 129.4,990.8 130.7,990.8 132.0,990.8 133.3,990.8 134.6,990.7 135.9,990.7 137.3,990.7 138.6,990.7 139.9,990.7 141.2,990.6 142.5,990.6 143.8,990.6 145.1,990.5 146.4,990.5 147.7,990.4 149.0,990.4 150.3,990.3 151.6,990.3 152.9,990.2 154.2,990.1 155.5,990.0 156.8,989.9 158.1,989.7 159.4,989.6 160.7,989.4 162.0,989.2 163.3,989.0 164.6,988.8 165.9,988.5 167.2,988.2 168.5,987.8 169.8,987.4 171.1,987.0 172.4,986.5 173.7,985.9 175.0,985.3 176.3,984.6 177.6,983.8 178.9,982.9 180.2,981.8 181.5,980.7 182.8,979.4 184.1,978.0 185.4,976.4 186.7,974.7 188.0,972.7 189.4,970.6 190.7,968.2 192.0,965.6 193.3,962.7 194.6,959.5 195.9,956.1 197.2,952.4 198.5,948.5 199.8,944.2 201.1,939.7 202.4,934.9 203.7,929.8 205.0,924.5 206.3,919.0 207.6,913.3 208.9,907.5 210.2,901.6 211.5,895.7 212.8,889.7 214.1,883.8 215.4,878.0 216.7,872.4 218.0,866.9 219.3,861.6 220.6,856.5 221.9,851.7 223.2,847.2 224.5,842.9 225.8,838.9 227.1,835.2 228.4,831.8 229.7,828.7 231.0,825.8 232.3,823.2 233.6,820.8 234.9,818.7 236.2,816.7 237.5,814.9 238.8,813.4 240.1,811.9 241.5,810.7 242.8,809.5 244.1,808.5 245.4,807.6 246.7,806.8 248.0,806.1 249.3,805.4 250.6,804.9 251.9,804.4 253.2,803.9 254.5,803.5 255.8,803.2 257.1,802.9 258.4,802.6 259.7,802.4 261.0,802.1 262.3,801.9 263.6,801.8 264.9,801.6 266.2,801.5 267.5,801.4 268.8,801.3 270.1,801.2 271.4,801.1 272.7,801.0 274.0,801.0 275.3,800.9 276.6,800.9 277.9,800.8 279.2,800.8 280.5,800.8 281.8,800.7 283.1,800.7 284.4,800.7 285.7,800.7 287.0,800.6 288.3,800.6 289.6,800.6 290.9,800.6 292.2,800.6 293.6,800.6 294.9,800.6 296.2,800.6 297.5,800.6 298.8,800.5 300.1,800.5 301.4,800.5 302.7,800.5 304.0,800.5 305.3,800.5 306.6,800.5 307.9,800.5 309.2,800.5 310.5,800.5 311.8,800.5 313.1,800.5 314.4,800.5 315.7,800.5 317.0,800.5 318.3,800.5 319.6,800.5 320.9,800.5 322.2,800.5 323.5,800.5 324.8,800.5 326.1,800.5 327.4,800.5 328.7,800.5 330.0,800.5 331.3,800.5 332.6,800.5 333.9,800.5 335.2,800.5 336.5,800.5 337.8,800.5 339.1,800.5 340.4,800.5 341.7,800.5 343.0,800.5 344.3,800.5 345.7,800.5 347.0,800.5 348.3,800.5 349.6,800.5 350.9,800.5 352.2,800.5 353.5,800.5 354.8,800.5 356.1,800.5 357.4,800.5 358.7,800.5 360.0,800.5 361.3,800.5 362.6,800.5 363.9,800.5 365.2,800.5 366.5,800.5 367.8,800.5 369.1,800.5 370.4,800.5"/>
</g>
<path d="M57.80,992.00 V783.40 H370.40 V992.00 Z" fill="none" stroke="#000" stroke-width="2.5"/>
<line x1="54.40" y1="992.00" x2="57.80" y2="992.00" stroke="#000" stroke-width="2.1"/>
<text x="52.60" y="997.00" text-anchor="end" class="tk">0.0</text>
<line x1="54.40" y1="897.20" x2="57.80" y2="897.20" stroke="#000" stroke-width="2.1"/>
<text x="52.60" y="902.20" text-anchor="end" class="tk">0.5</text>
<line x1="54.40" y1="802.40" x2="57.80" y2="802.40" stroke="#000" stroke-width="2.1"/>
<text x="52.60" y="807.40" text-anchor="end" class="tk"><tspan class="one">1</tspan>.0</text>
<line x1="57.80" y1="992.00" x2="57.80" y2="995.60" stroke="#000" stroke-width="2.1"/>
<text x="57.80" y="1009.80" text-anchor="middle" class="tk">20</text>
<line x1="162.00" y1="992.00" x2="162.00" y2="995.60" stroke="#000" stroke-width="2.1"/>
<text x="162.00" y="1009.80" text-anchor="middle" class="tk">40</text>
<line x1="266.20" y1="992.00" x2="266.20" y2="995.60" stroke="#000" stroke-width="2.1"/>
<text x="266.20" y="1009.80" text-anchor="middle" class="tk">60</text>
<line x1="370.40" y1="992.00" x2="370.40" y2="995.60" stroke="#000" stroke-width="2.1"/>
<text x="370.40" y="1009.80" text-anchor="middle" class="tk">80</text>
<text x="214.10" y="1031.90" text-anchor="middle" class="ax">Temperature (<tspan class="deg" dy="-5.5">o</tspan><tspan dy="5.5">C)</tspan></text>
<text transform="translate(22.00,882.40) rotate(-90)" text-anchor="middle" class="ay">Unfolded Fraction</text>
<text x="63.40" y="800.50" class="ttl">Shoklo</text>
<text x="196.70" y="814.10" text-anchor="end" class="hdr">T<tspan class="sub" dy="3">m</tspan><tspan dy="-3"> (</tspan><tspan class="deg2" dy="-3.5">o</tspan><tspan dy="3.5">C)</tspan></text>
<line x1="70.30" y1="828.30" x2="79.40" y2="828.30" stroke="#000" stroke-width="2.5"/>
<text x="85.50" y="832.20" class="lg" xml:space="preserve">0 <tspan class="mu">µ</tspan>M NADP<tspan class="sup" dy="-4">+</tspan></text>
<text x="197.40" y="832.20" text-anchor="end" class="lg">5<tspan class="one">1</tspan>.22</text>
<line x1="70.30" y1="843.10" x2="77.10" y2="843.10" stroke="#000" stroke-width="2.5"/>
<text x="85.50" y="847.00" class="lg" xml:space="preserve"><tspan class="one">1</tspan>0 <tspan class="mu">µ</tspan>M  NADP<tspan class="sup" dy="-4">+</tspan></text>
<text x="197.40" y="847.00" text-anchor="end" class="lg">55.<tspan class="one">1</tspan>5</text>
<circle cx="70.90" cy="859.00" r="0.9" fill="#000"/><circle cx="78.30" cy="859.00" r="1.15" fill="#000"/>
<text x="85.50" y="862.90" class="lg" xml:space="preserve"><tspan class="one">1</tspan>00 <tspan class="mu">µ</tspan>M  NADP<tspan class="sup" dy="-4">+</tspan></text>
<text x="197.40" y="862.90" text-anchor="end" class="lg">59.<tspan class="one">1</tspan>4</text>
<line x1="69.50" y1="872.70" x2="76.20" y2="872.70" stroke="#0a0aff" stroke-width="2.6"/>
<text x="85.50" y="876.60" class="lg" xml:space="preserve"><tspan class="one">1</tspan>0 <tspan class="mu">µ</tspan>M  AG<tspan class="one">1</tspan></text>
<text x="197.40" y="876.60" text-anchor="end" class="lg">5<tspan class="one">1</tspan>.<tspan class="one">1</tspan>0</text>
<circle cx="70.70" cy="885.90" r="1.0" fill="#0a0aff"/><circle cx="77.90" cy="885.90" r="1.25" fill="#0a0aff"/>
<text x="85.50" y="889.80" class="lg" xml:space="preserve"><tspan class="one">1</tspan>00 <tspan class="mu">µ</tspan>M AG<tspan class="one">1</tspan></text>
<text x="197.40" y="889.80" text-anchor="end" class="lg">49.55</text>
<clipPath id="c7"><rect x="468.00" y="783.50" width="312.40" height="210.50"/></clipPath>
<g clip-path="url(#c7)">
<polyline fill="none" stroke="#000" stroke-width="2.3" stroke-linecap="butt" stroke-linejoin="round" points="468.0,992.0 469.3,992.0 470.6,992.0 471.9,992.0 473.2,992.0 474.5,992.0 475.8,992.0 477.1,992.0 478.4,992.0 479.7,992.0 481.0,992.0 482.3,992.0 483.6,992.0 484.9,992.0 486.2,992.0 487.5,992.0 488.8,992.0 490.1,992.0 491.4,992.0 492.7,992.0 494.0,992.0 495.3,992.0 496.6,992.0 497.9,992.0 499.2,992.0 500.5,992.0 501.8,992.0 503.1,992.0 504.4,992.0 505.7,992.0 507.1,992.0 508.4,992.0 509.7,992.0 511.0,992.0 512.3,992.0 513.6,992.0 514.9,992.0 516.2,992.0 517.5,992.0 518.8,992.0 520.1,992.0 521.4,992.0 522.7,992.0 524.0,992.0 525.3,992.0 526.6,992.0 527.9,992.0 529.2,992.0 530.5,992.0 531.8,992.0 533.1,992.0 534.4,992.0 535.7,992.0 537.0,992.0 538.3,992.0 539.6,992.0 540.9,992.0 542.2,992.0 543.5,992.0 544.8,992.0 546.1,992.0 547.4,992.0 548.7,992.0 550.0,992.0 551.3,992.0 552.6,992.0 553.9,992.0 555.2,992.0 556.5,992.0 557.8,992.0 559.1,992.0 560.4,992.0 561.7,992.0 563.0,992.0 564.3,992.0 565.6,992.0 566.9,992.0 568.2,992.0 569.5,992.0 570.8,992.0 572.1,992.0 573.4,992.0 574.7,992.0 576.0,992.0 577.3,992.0 578.6,992.0 579.9,992.0 581.2,992.0 582.5,992.0 583.8,992.0 585.1,991.9 586.5,991.9 587.8,991.9 589.1,991.9 590.4,991.9 591.7,991.9 593.0,991.8 594.3,991.8 595.6,991.8 596.9,991.7 598.2,991.7 599.5,991.6 600.8,991.5 602.1,991.5 603.4,991.4 604.7,991.2 606.0,991.1 607.3,990.9 608.6,990.7 609.9,990.5 611.2,990.2 612.5,989.8 613.8,989.4 615.1,989.0 616.4,988.4 617.7,987.7 619.0,986.9 620.3,986.0 621.6,984.9 622.9,983.6 624.2,982.0 625.5,980.3 626.8,978.2 628.1,975.8 629.4,973.0 630.7,969.8 632.0,966.1 633.3,961.9 634.6,957.3 635.9,952.0 637.2,946.2 638.5,939.9 639.8,933.0 641.1,925.7 642.4,917.9 643.7,909.9 645.0,901.7 646.3,893.4 647.6,885.2 648.9,877.1 650.2,869.3 651.5,861.9 652.8,855.0 654.1,848.6 655.4,842.7 656.7,837.4 658.0,832.7 659.3,828.5 660.6,824.7 661.9,821.5 663.2,818.6 664.6,816.2 665.9,814.1 667.2,812.2 668.5,810.7 669.8,809.4 671.1,808.2 672.4,807.3 673.7,806.5 675.0,805.8 676.3,805.2 677.6,804.7 678.9,804.3 680.2,803.9 681.5,803.7 682.8,803.4 684.1,803.2 685.4,803.0 686.7,802.9 688.0,802.8 689.3,802.6 690.6,802.6 691.9,802.5 693.2,802.4 694.5,802.4 695.8,802.3 697.1,802.3 698.4,802.3 699.7,802.2 701.0,802.2 702.3,802.2 703.6,802.2 704.9,802.2 706.2,802.2 707.5,802.1 708.8,802.1 710.1,802.1 711.4,802.1 712.7,802.1 714.0,802.1 715.3,802.1 716.6,802.1 717.9,802.1 719.2,802.1 720.5,802.1 721.8,802.1 723.1,802.1 724.4,802.1 725.7,802.1 727.0,802.1 728.3,802.1 729.6,802.1 730.9,802.1 732.2,802.1 733.5,802.1 734.8,802.1 736.1,802.1 737.4,802.1 738.7,802.1 740.0,802.1 741.3,802.1 742.7,802.1 744.0,802.1 745.3,802.1 746.6,802.1 747.9,802.1 749.2,802.1 750.5,802.1 751.8,802.1 753.1,802.1 754.4,802.1 755.7,802.1 757.0,802.1 758.3,802.1 759.6,802.1 760.9,802.1 762.2,802.1 763.5,802.1 764.8,802.1 766.1,802.1 767.4,802.1 768.7,802.1 770.0,802.1 771.3,802.1 772.6,802.1 773.9,802.1 775.2,802.1 776.5,802.1 777.8,802.1 779.1,802.1 780.4,802.1"/>
<polyline fill="none" stroke="#000" stroke-width="2.4" stroke-linecap="round" stroke-linejoin="round" stroke-dasharray="4.9 8.2" points="468.0,992.0 469.3,992.0 470.6,992.0 471.9,992.0 473.2,992.0 474.5,992.0 475.8,992.0 477.1,992.0 478.4,992.0 479.7,992.0 481.0,992.0 482.3,992.0 483.6,992.0 484.9,992.0 486.2,992.0 487.5,992.0 488.8,992.0 490.1,992.0 491.4,992.0 492.7,992.0 494.0,992.0 495.3,992.0 496.6,992.0 497.9,992.0 499.2,992.0 500.5,992.0 501.8,992.0 503.1,992.0 504.4,992.0 505.7,992.0 507.1,992.0 508.4,992.0 509.7,992.0 511.0,992.0 512.3,992.0 513.6,992.0 514.9,992.0 516.2,992.0 517.5,992.0 518.8,992.0 520.1,992.0 521.4,992.0 522.7,992.0 524.0,992.0 525.3,992.0 526.6,992.0 527.9,992.0 529.2,992.0 530.5,992.0 531.8,992.0 533.1,992.0 534.4,992.0 535.7,992.0 537.0,992.0 538.3,992.0 539.6,992.0 540.9,992.0 542.2,992.0 543.5,992.0 544.8,992.0 546.1,992.0 547.4,992.0 548.7,992.0 550.0,992.0 551.3,992.0 552.6,992.0 553.9,992.0 555.2,992.0 556.5,992.0 557.8,992.0 559.1,992.0 560.4,992.0 561.7,992.0 563.0,992.0 564.3,992.0 565.6,992.0 566.9,992.0 568.2,992.0 569.5,992.0 570.8,992.0 572.1,992.0 573.4,992.0 574.7,992.0 576.0,992.0 577.3,992.0 578.6,992.0 579.9,992.0 581.2,992.0 582.5,992.0 583.8,992.0 585.1,992.0 586.5,992.0 587.8,992.0 589.1,992.0 590.4,992.0 591.7,992.0 593.0,992.0 594.3,992.0 595.6,992.0 596.9,992.0 598.2,992.0 599.5,992.0 600.8,992.0 602.1,992.0 603.4,992.0 604.7,992.0 606.0,992.0 607.3,992.0 608.6,992.0 609.9,992.0 611.2,992.0 612.5,992.0 613.8,992.0 615.1,992.0 616.4,992.0 617.7,992.0 619.0,992.0 620.3,992.0 621.6,992.0 622.9,992.0 624.2,992.0 625.5,992.0 626.8,991.9 628.1,991.9 629.4,991.9 630.7,991.9 632.0,991.8 633.3,991.8 634.6,991.7 635.9,991.7 637.2,991.6 638.5,991.4 639.8,991.3 641.1,991.1 642.4,990.9 643.7,990.5 645.0,990.1 646.3,989.6 647.6,989.0 648.9,988.2 650.2,987.2 651.5,985.9 652.8,984.3 654.1,982.3 655.4,979.8 656.7,976.7 658.0,973.0 659.3,968.4 660.6,962.9 661.9,956.4 663.2,948.8 664.6,940.2 665.9,930.6 667.2,920.1 668.5,909.0 669.8,897.5 671.1,886.0 672.4,874.9 673.7,864.3 675.0,854.6 676.3,845.9 677.6,838.3 678.9,831.7 680.2,826.1 681.5,821.5 682.8,817.6 684.1,814.5 685.4,812.0 686.7,809.9 688.0,808.3 689.3,807.0 690.6,806.0 691.9,805.1 693.2,804.5 694.5,804.0 695.8,803.6 697.1,803.3 698.4,803.0 699.7,802.8 701.0,802.7 702.3,802.5 703.6,802.4 704.9,802.4 706.2,802.3 707.5,802.3 708.8,802.2 710.1,802.2 711.4,802.2 712.7,802.2 714.0,802.1 715.3,802.1 716.6,802.1 717.9,802.1 719.2,802.1 720.5,802.1 721.8,802.1 723.1,802.1 724.4,802.1 725.7,802.1 727.0,802.1 728.3,802.1 729.6,802.1 730.9,802.1 732.2,802.1 733.5,802.1 734.8,802.1 736.1,802.1 737.4,802.1 738.7,802.1 740.0,802.1 741.3,802.1 742.7,802.1 744.0,802.1 745.3,802.1 746.6,802.1 747.9,802.1 749.2,802.1 750.5,802.1 751.8,802.1 753.1,802.1 754.4,802.1 755.7,802.1 757.0,802.1 758.3,802.1 759.6,802.1 760.9,802.1 762.2,802.1 763.5,802.1 764.8,802.1 766.1,802.1 767.4,802.1 768.7,802.1 770.0,802.1 771.3,802.1 772.6,802.1 773.9,802.1 775.2,802.1 776.5,802.1 777.8,802.1 779.1,802.1 780.4,802.1"/>
<polyline fill="none" stroke="#000" stroke-width="2.5" stroke-linecap="round" stroke-linejoin="round" stroke-dasharray="0.01 7.9" points="468.0,992.0 469.3,992.0 470.6,992.0 471.9,992.0 473.2,992.0 474.5,992.0 475.8,992.0 477.1,992.0 478.4,992.0 479.7,992.0 481.0,992.0 482.3,992.0 483.6,992.0 484.9,992.0 486.2,992.0 487.5,992.0 488.8,992.0 490.1,992.0 491.4,992.0 492.7,992.0 494.0,992.0 495.3,992.0 496.6,992.0 497.9,992.0 499.2,992.0 500.5,992.0 501.8,992.0 503.1,992.0 504.4,992.0 505.7,992.0 507.1,992.0 508.4,992.0 509.7,992.0 511.0,992.0 512.3,992.0 513.6,992.0 514.9,992.0 516.2,992.0 517.5,992.0 518.8,992.0 520.1,992.0 521.4,992.0 522.7,992.0 524.0,992.0 525.3,992.0 526.6,992.0 527.9,992.0 529.2,992.0 530.5,992.0 531.8,992.0 533.1,992.0 534.4,992.0 535.7,992.0 537.0,992.0 538.3,992.0 539.6,992.0 540.9,992.0 542.2,992.0 543.5,992.0 544.8,992.0 546.1,992.0 547.4,992.0 548.7,992.0 550.0,992.0 551.3,992.0 552.6,992.0 553.9,992.0 555.2,992.0 556.5,992.0 557.8,992.0 559.1,992.0 560.4,992.0 561.7,992.0 563.0,992.0 564.3,992.0 565.6,992.0 566.9,992.0 568.2,992.0 569.5,992.0 570.8,992.0 572.1,992.0 573.4,992.0 574.7,992.0 576.0,992.0 577.3,992.0 578.6,992.0 579.9,992.0 581.2,992.0 582.5,992.0 583.8,992.0 585.1,992.0 586.5,992.0 587.8,992.0 589.1,992.0 590.4,992.0 591.7,992.0 593.0,992.0 594.3,992.0 595.6,992.0 596.9,992.0 598.2,992.0 599.5,992.0 600.8,992.0 602.1,992.0 603.4,992.0 604.7,992.0 606.0,992.0 607.3,992.0 608.6,992.0 609.9,992.0 611.2,992.0 612.5,992.0 613.8,992.0 615.1,992.0 616.4,992.0 617.7,992.0 619.0,992.0 620.3,992.0 621.6,992.0 622.9,992.0 624.2,992.0 625.5,992.0 626.8,992.0 628.1,992.0 629.4,992.0 630.7,992.0 632.0,992.0 633.3,992.0 634.6,992.0 635.9,991.9 637.2,991.9 638.5,991.9 639.8,991.9 641.1,991.9 642.4,991.8 643.7,991.8 645.0,991.8 646.3,991.7 647.6,991.6 648.9,991.6 650.2,991.5 651.5,991.3 652.8,991.2 654.1,991.0 655.4,990.8 656.7,990.5 658.0,990.1 659.3,989.7 660.6,989.2 661.9,988.6 663.2,987.8 664.6,986.8 665.9,985.7 667.2,984.3 668.5,982.6 669.8,980.5 671.1,978.0 672.4,975.1 673.7,971.6 675.0,967.5 676.3,962.7 677.6,957.1 678.9,950.8 680.2,943.7 681.5,935.8 682.8,927.2 684.1,918.1 685.4,908.5 686.7,898.6 688.0,888.8 689.3,879.1 690.6,869.8 691.9,861.0 693.2,852.9 694.5,845.5 695.8,838.9 697.1,833.1 698.4,828.1 699.7,823.8 701.0,820.1 702.3,817.0 703.6,814.3 704.9,812.2 706.2,810.4 707.5,808.9 708.8,807.6 710.1,806.6 711.4,805.8 712.7,805.1 714.0,804.5 715.3,804.1 716.6,803.7 717.9,803.4 719.2,803.2 720.5,803.0 721.8,802.8 723.1,802.7 724.4,802.6 725.7,802.5 727.0,802.4 728.3,802.3 729.6,802.3 730.9,802.3 732.2,802.2 733.5,802.2 734.8,802.2 736.1,802.2 737.4,802.2 738.7,802.1 740.0,802.1 741.3,802.1 742.7,802.1 744.0,802.1 745.3,802.1 746.6,802.1 747.9,802.1 749.2,802.1 750.5,802.1 751.8,802.1 753.1,802.1 754.4,802.1 755.7,802.1 757.0,802.1 758.3,802.1 759.6,802.1 760.9,802.1 762.2,802.1 763.5,802.1 764.8,802.1 766.1,802.1 767.4,802.1 768.7,802.1 770.0,802.1 771.3,802.1 772.6,802.1 773.9,802.1 775.2,802.1 776.5,802.1 777.8,802.1 779.1,802.1 780.4,802.1"/>
<polyline fill="none" stroke="#0a0aff" stroke-width="2.5" stroke-linecap="round" stroke-linejoin="round" stroke-dasharray="4.3 8.25 0.01 8.25" points="468.0,992.0 469.3,992.0 470.6,992.0 471.9,992.0 473.2,992.0 474.5,992.0 475.8,992.0 477.1,992.0 478.4,992.0 479.7,992.0 481.0,992.0 482.3,992.0 483.6,992.0 484.9,992.0 486.2,992.0 487.5,992.0 488.8,992.0 490.1,992.0 491.4,992.0 492.7,992.0 494.0,992.0 495.3,992.0 496.6,992.0 497.9,992.0 499.2,992.0 500.5,992.0 501.8,992.0 503.1,992.0 504.4,992.0 505.7,992.0 507.1,992.0 508.4,992.0 509.7,992.0 511.0,992.0 512.3,992.0 513.6,992.0 514.9,992.0 516.2,992.0 517.5,992.0 518.8,992.0 520.1,992.0 521.4,992.0 522.7,992.0 524.0,992.0 525.3,992.0 526.6,992.0 527.9,992.0 529.2,992.0 530.5,992.0 531.8,992.0 533.1,992.0 534.4,992.0 535.7,992.0 537.0,992.0 538.3,992.0 539.6,992.0 540.9,992.0 542.2,992.0 543.5,992.0 544.8,992.0 546.1,992.0 547.4,992.0 548.7,992.0 550.0,992.0 551.3,992.0 552.6,992.0 553.9,992.0 555.2,992.0 556.5,992.0 557.8,992.0 559.1,992.0 560.4,992.0 561.7,992.0 563.0,992.0 564.3,992.0 565.6,992.0 566.9,992.0 568.2,992.0 569.5,992.0 570.8,992.0 572.1,992.0 573.4,992.0 574.7,992.0 576.0,992.0 577.3,992.0 578.6,992.0 579.9,992.0 581.2,992.0 582.5,992.0 583.8,992.0 585.1,992.0 586.5,992.0 587.8,992.0 589.1,992.0 590.4,991.9 591.7,991.9 593.0,991.9 594.3,991.9 595.6,991.9 596.9,991.8 598.2,991.8 599.5,991.8 600.8,991.7 602.1,991.6 603.4,991.6 604.7,991.5 606.0,991.3 607.3,991.2 608.6,991.0 609.9,990.8 611.2,990.5 612.5,990.2 613.8,989.8 615.1,989.4 616.4,988.8 617.7,988.1 619.0,987.2 620.3,986.2 621.6,985.0 622.9,983.5 624.2,981.7 625.5,979.6 626.8,977.0 628.1,974.0 629.4,970.5 630.7,966.4 632.0,961.6 633.3,956.2 634.6,950.0 635.9,943.1 637.2,935.5 638.5,927.2 639.8,918.4 641.1,909.2 642.4,899.7 643.7,890.2 645.0,880.8 646.3,871.7 647.6,863.1 648.9,855.1 650.2,847.7 651.5,841.0 652.8,835.1 654.1,829.9 655.4,825.4 656.7,821.5 658.0,818.2 659.3,815.3 660.6,812.9 661.9,811.0 663.2,809.3 664.6,807.9 665.9,806.7 667.2,805.8 668.5,805.0 669.8,804.3 671.1,803.8 672.4,803.4 673.7,803.0 675.0,802.7 676.3,802.5 677.6,802.3 678.9,802.1 680.2,802.0 681.5,801.8 682.8,801.8 684.1,801.7 685.4,801.6 686.7,801.6 688.0,801.5 689.3,801.5 690.6,801.5 691.9,801.4 693.2,801.4 694.5,801.4 695.8,801.4 697.1,801.4 698.4,801.4 699.7,801.4 701.0,801.4 702.3,801.4 703.6,801.4 704.9,801.4 706.2,801.4 707.5,801.3 708.8,801.3 710.1,801.3 711.4,801.3 712.7,801.3 714.0,801.3 715.3,801.3 716.6,801.3 717.9,801.3 719.2,801.3 720.5,801.3 721.8,801.3 723.1,801.3 724.4,801.3 725.7,801.3 727.0,801.3 728.3,801.3 729.6,801.3 730.9,801.3 732.2,801.3 733.5,801.3 734.8,801.3 736.1,801.3 737.4,801.3 738.7,801.3 740.0,801.3 741.3,801.3 742.7,801.3 744.0,801.3 745.3,801.3 746.6,801.3 747.9,801.3 749.2,801.3 750.5,801.3 751.8,801.3 753.1,801.3 754.4,801.3 755.7,801.3 757.0,801.3 758.3,801.3 759.6,801.3 760.9,801.3 762.2,801.3 763.5,801.3 764.8,801.3 766.1,801.3 767.4,801.3 768.7,801.3 770.0,801.3 771.3,801.3 772.6,801.3 773.9,801.3 775.2,801.3 776.5,801.3 777.8,801.3 779.1,801.3 780.4,801.3"/>
<polyline fill="none" stroke="#0a0aff" stroke-width="2.7" stroke-linecap="round" stroke-linejoin="round" stroke-dasharray="0.01 7.9" points="468.0,992.0 469.3,992.0 470.6,992.0 471.9,992.0 473.2,992.0 474.5,992.0 475.8,992.0 477.1,992.0 478.4,992.0 479.7,992.0 481.0,992.0 482.3,992.0 483.6,992.0 484.9,992.0 486.2,992.0 487.5,992.0 488.8,992.0 490.1,992.0 491.4,992.0 492.7,992.0 494.0,992.0 495.3,992.0 496.6,992.0 497.9,992.0 499.2,992.0 500.5,992.0 501.8,992.0 503.1,992.0 504.4,992.0 505.7,992.0 507.1,992.0 508.4,992.0 509.7,992.0 511.0,992.0 512.3,992.0 513.6,992.0 514.9,992.0 516.2,992.0 517.5,992.0 518.8,992.0 520.1,992.0 521.4,992.0 522.7,992.0 524.0,992.0 525.3,992.0 526.6,992.0 527.9,992.0 529.2,992.0 530.5,992.0 531.8,992.0 533.1,992.0 534.4,992.0 535.7,992.0 537.0,992.0 538.3,992.0 539.6,992.0 540.9,992.0 542.2,992.0 543.5,992.0 544.8,992.0 546.1,992.0 547.4,992.0 548.7,992.0 550.0,992.0 551.3,992.0 552.6,992.0 553.9,992.0 555.2,992.0 556.5,992.0 557.8,992.0 559.1,992.0 560.4,992.0 561.7,992.0 563.0,992.0 564.3,992.0 565.6,992.0 566.9,992.0 568.2,992.0 569.5,992.0 570.8,992.0 572.1,992.0 573.4,992.0 574.7,992.0 576.0,992.0 577.3,992.0 578.6,992.0 579.9,992.0 581.2,992.0 582.5,992.0 583.8,992.0 585.1,992.0 586.5,992.0 587.8,991.9 589.1,991.9 590.4,991.9 591.7,991.9 593.0,991.9 594.3,991.8 595.6,991.8 596.9,991.8 598.2,991.7 599.5,991.7 600.8,991.6 602.1,991.5 603.4,991.4 604.7,991.3 606.0,991.1 607.3,990.9 608.6,990.7 609.9,990.4 611.2,990.1 612.5,989.7 613.8,989.2 615.1,988.6 616.4,987.9 617.7,987.1 619.0,986.1 620.3,984.9 621.6,983.4 622.9,981.7 624.2,979.6 625.5,977.2 626.8,974.4 628.1,971.1 629.4,967.2 630.7,962.7 632.0,957.7 633.3,951.9 634.6,945.5 635.9,938.4 637.2,930.7 638.5,922.4 639.8,913.7 641.1,904.7 642.4,895.6 643.7,886.4 645.0,877.5 646.3,868.9 647.6,860.8 648.9,853.2 650.2,846.3 651.5,840.0 652.8,834.4 654.1,829.5 655.4,825.2 656.7,821.4 658.0,818.2 659.3,815.5 660.6,813.2 661.9,811.2 663.2,809.6 664.6,808.2 665.9,807.0 667.2,806.0 668.5,805.2 669.8,804.6 671.1,804.0 672.4,803.5 673.7,803.2 675.0,802.8 676.3,802.6 677.6,802.4 678.9,802.2 680.2,802.0 681.5,801.9 682.8,801.8 684.1,801.7 685.4,801.7 686.7,801.6 688.0,801.6 689.3,801.5 690.6,801.5 691.9,801.5 693.2,801.4 694.5,801.4 695.8,801.4 697.1,801.4 698.4,801.4 699.7,801.4 701.0,801.4 702.3,801.4 703.6,801.4 704.9,801.4 706.2,801.4 707.5,801.4 708.8,801.4 710.1,801.3 711.4,801.3 712.7,801.3 714.0,801.3 715.3,801.3 716.6,801.3 717.9,801.3 719.2,801.3 720.5,801.3 721.8,801.3 723.1,801.3 724.4,801.3 725.7,801.3 727.0,801.3 728.3,801.3 729.6,801.3 730.9,801.3 732.2,801.3 733.5,801.3 734.8,801.3 736.1,801.3 737.4,801.3 738.7,801.3 740.0,801.3 741.3,801.3 742.7,801.3 744.0,801.3 745.3,801.3 746.6,801.3 747.9,801.3 749.2,801.3 750.5,801.3 751.8,801.3 753.1,801.3 754.4,801.3 755.7,801.3 757.0,801.3 758.3,801.3 759.6,801.3 760.9,801.3 762.2,801.3 763.5,801.3 764.8,801.3 766.1,801.3 767.4,801.3 768.7,801.3 770.0,801.3 771.3,801.3 772.6,801.3 773.9,801.3 775.2,801.3 776.5,801.3 777.8,801.3 779.1,801.3 780.4,801.3"/>
</g>
<path d="M468.00,992.00 V783.50 H780.40 V992.00 Z" fill="none" stroke="#000" stroke-width="2.5"/>
<line x1="464.60" y1="992.00" x2="468.00" y2="992.00" stroke="#000" stroke-width="2.1"/>
<text x="462.80" y="997.00" text-anchor="end" class="tk">0.0</text>
<line x1="464.60" y1="897.05" x2="468.00" y2="897.05" stroke="#000" stroke-width="2.1"/>
<text x="462.80" y="902.05" text-anchor="end" class="tk">0.5</text>
<line x1="464.60" y1="802.10" x2="468.00" y2="802.10" stroke="#000" stroke-width="2.1"/>
<text x="462.80" y="807.10" text-anchor="end" class="tk"><tspan class="one">1</tspan>.0</text>
<line x1="468.00" y1="992.00" x2="468.00" y2="995.60" stroke="#000" stroke-width="2.1"/>
<text x="468.00" y="1009.80" text-anchor="middle" class="tk">20</text>
<line x1="572.13" y1="992.00" x2="572.13" y2="995.60" stroke="#000" stroke-width="2.1"/>
<text x="572.13" y="1009.80" text-anchor="middle" class="tk">40</text>
<line x1="676.27" y1="992.00" x2="676.27" y2="995.60" stroke="#000" stroke-width="2.1"/>
<text x="676.27" y="1009.80" text-anchor="middle" class="tk">60</text>
<line x1="780.40" y1="992.00" x2="780.40" y2="995.60" stroke="#000" stroke-width="2.1"/>
<text x="780.40" y="1009.80" text-anchor="middle" class="tk">80</text>
<text x="624.20" y="1031.90" text-anchor="middle" class="ax">Temperature (<tspan class="deg" dy="-5.5">o</tspan><tspan dy="5.5">C)</tspan></text>
<text transform="translate(432.00,882.25) rotate(-90)" text-anchor="middle" class="ay">Unfolded Fraction</text>
<text x="474.10" y="801.40" class="ttl">Mahidol+Kaiping</text>
<text x="606.70" y="824.40" text-anchor="end" class="hdr">T<tspan class="sub" dy="3">m</tspan><tspan dy="-3"> (C</tspan><tspan class="deg2" dy="-3.5">o</tspan><tspan dy="3.5">)</tspan></text>
<line x1="485.50" y1="836.90" x2="494.60" y2="836.90" stroke="#000" stroke-width="2.5"/>
<text x="500.80" y="840.80" class="lg" xml:space="preserve">0 <tspan class="mu">µ</tspan>M NADP+</text>
<text x="606.70" y="840.80" text-anchor="end" class="lg">54.<tspan class="one">1</tspan>9</text>
<line x1="485.50" y1="850.60" x2="492.30" y2="850.60" stroke="#000" stroke-width="2.5"/>
<text x="500.80" y="854.50" class="lg" xml:space="preserve"><tspan class="one">1</tspan>0 <tspan class="mu">µ</tspan>M NADP<tspan class="sup" dy="-4">+</tspan></text>
<text x="606.70" y="854.50" text-anchor="end" class="lg">58.8<tspan class="one">1</tspan></text>
<circle cx="486.10" cy="864.70" r="0.9" fill="#000"/><circle cx="493.50" cy="864.70" r="1.15" fill="#000"/>
<text x="500.80" y="868.60" class="lg" xml:space="preserve"><tspan class="one">1</tspan>00 <tspan class="mu">µ</tspan>M NADP<tspan class="sup" dy="-4">+</tspan></text>
<text x="606.70" y="868.60" text-anchor="end" class="lg">62.09</text>
<line x1="484.70" y1="878.40" x2="491.40" y2="878.40" stroke="#0a0aff" stroke-width="2.6"/>
<text x="500.80" y="882.30" class="lg" xml:space="preserve"><tspan class="one">1</tspan>0 <tspan class="mu">µ</tspan>M AG<tspan class="one">1</tspan></text>
<text x="606.70" y="882.30" text-anchor="end" class="lg">53.63</text>
<circle cx="485.90" cy="891.60" r="1.0" fill="#0a0aff"/><circle cx="493.10" cy="891.60" r="1.25" fill="#0a0aff"/>
<text x="500.80" y="895.50" class="lg" xml:space="preserve"><tspan class="one">1</tspan>00 <tspan class="mu">µ</tspan>M AG<tspan class="one">1</tspan></text>
<text x="606.70" y="895.50" text-anchor="end" class="lg">53.52</text>
<clipPath id="c8"><rect x="57.70" y="1045.30" width="312.70" height="210.70"/></clipPath>
<g clip-path="url(#c8)">
<polyline fill="none" stroke="#000" stroke-width="2.3" stroke-linecap="butt" stroke-linejoin="round" points="57.7,1253.2 59.0,1253.2 60.3,1253.2 61.6,1253.2 62.9,1253.2 64.2,1253.2 65.5,1253.2 66.8,1253.2 68.1,1253.2 69.4,1253.2 70.7,1253.2 72.0,1253.2 73.3,1253.2 74.6,1253.2 75.9,1253.2 77.2,1253.2 78.5,1253.2 79.8,1253.2 81.2,1253.2 82.5,1253.2 83.8,1253.2 85.1,1253.2 86.4,1253.2 87.7,1253.2 89.0,1253.2 90.3,1253.2 91.6,1253.2 92.9,1253.2 94.2,1253.2 95.5,1253.2 96.8,1253.2 98.1,1253.2 99.4,1253.2 100.7,1253.2 102.0,1253.2 103.3,1253.2 104.6,1253.2 105.9,1253.2 107.2,1253.2 108.5,1253.2 109.8,1253.2 111.1,1253.2 112.4,1253.2 113.7,1253.2 115.0,1253.2 116.3,1253.1 117.6,1253.1 118.9,1253.1 120.2,1253.1 121.5,1253.1 122.8,1253.1 124.1,1253.1 125.5,1253.0 126.8,1253.0 128.1,1253.0 129.4,1253.0 130.7,1252.9 132.0,1252.9 133.3,1252.8 134.6,1252.8 135.9,1252.7 137.2,1252.7 138.5,1252.6 139.8,1252.5 141.1,1252.5 142.4,1252.4 143.7,1252.3 145.0,1252.2 146.3,1252.0 147.6,1251.9 148.9,1251.7 150.2,1251.6 151.5,1251.4 152.8,1251.1 154.1,1250.9 155.4,1250.6 156.7,1250.3 158.0,1250.0 159.3,1249.6 160.6,1249.2 161.9,1248.7 163.2,1248.2 164.5,1247.6 165.8,1247.0 167.1,1246.3 168.4,1245.5 169.8,1244.6 171.1,1243.6 172.4,1242.5 173.7,1241.4 175.0,1240.0 176.3,1238.6 177.6,1237.0 178.9,1235.3 180.2,1233.4 181.5,1231.3 182.8,1229.1 184.1,1226.6 185.4,1224.0 186.7,1221.1 188.0,1218.0 189.3,1214.7 190.6,1211.1 191.9,1207.4 193.2,1203.4 194.5,1199.2 195.8,1194.8 197.1,1190.1 198.4,1185.4 199.7,1180.4 201.0,1175.4 202.3,1170.2 203.6,1164.9 204.9,1159.7 206.2,1154.4 207.5,1149.1 208.8,1143.9 210.1,1138.8 211.4,1133.8 212.7,1128.9 214.1,1124.2 215.4,1119.7 216.7,1115.4 218.0,1111.3 219.3,1107.4 220.6,1103.8 221.9,1100.3 223.2,1097.1 224.5,1094.2 225.8,1091.4 227.1,1088.9 228.4,1086.5 229.7,1084.4 231.0,1082.4 232.3,1080.6 233.6,1078.9 234.9,1077.4 236.2,1076.0 237.5,1074.8 238.8,1073.7 240.1,1072.7 241.4,1071.7 242.7,1070.9 244.0,1070.2 245.3,1069.5 246.6,1068.9 247.9,1068.3 249.2,1067.8 250.5,1067.4 251.8,1067.0 253.1,1066.6 254.4,1066.3 255.7,1066.0 257.0,1065.8 258.3,1065.5 259.7,1065.3 261.0,1065.1 262.3,1065.0 263.6,1064.8 264.9,1064.7 266.2,1064.6 267.5,1064.5 268.8,1064.4 270.1,1064.3 271.4,1064.2 272.7,1064.1 274.0,1064.1 275.3,1064.0 276.6,1064.0 277.9,1063.9 279.2,1063.9 280.5,1063.8 281.8,1063.8 283.1,1063.8 284.4,1063.8 285.7,1063.7 287.0,1063.7 288.3,1063.7 289.6,1063.7 290.9,1063.7 292.2,1063.7 293.5,1063.6 294.8,1063.6 296.1,1063.6 297.4,1063.6 298.7,1063.6 300.0,1063.6 301.3,1063.6 302.6,1063.6 304.0,1063.6 305.3,1063.6 306.6,1063.6 307.9,1063.6 309.2,1063.6 310.5,1063.6 311.8,1063.6 313.1,1063.6 314.4,1063.6 315.7,1063.6 317.0,1063.6 318.3,1063.6 319.6,1063.6 320.9,1063.6 322.2,1063.5 323.5,1063.5 324.8,1063.5 326.1,1063.5 327.4,1063.5 328.7,1063.5 330.0,1063.5 331.3,1063.5 332.6,1063.5 333.9,1063.5 335.2,1063.5 336.5,1063.5 337.8,1063.5 339.1,1063.5 340.4,1063.5 341.7,1063.5 343.0,1063.5 344.3,1063.5 345.6,1063.5 346.9,1063.5 348.3,1063.5 349.6,1063.5 350.9,1063.5 352.2,1063.5 353.5,1063.5 354.8,1063.5 356.1,1063.5 357.4,1063.5 358.7,1063.5 360.0,1063.5 361.3,1063.5 362.6,1063.5 363.9,1063.5 365.2,1063.5 366.5,1063.5 367.8,1063.5 369.1,1063.5 370.4,1063.5"/>
<polyline fill="none" stroke="#000" stroke-width="2.4" stroke-linecap="round" stroke-linejoin="round" stroke-dasharray="4.9 8.2" points="57.7,1254.0 59.0,1254.0 60.3,1254.0 61.6,1254.0 62.9,1254.0 64.2,1254.0 65.5,1254.0 66.8,1254.0 68.1,1254.0 69.4,1254.0 70.7,1254.0 72.0,1254.0 73.3,1254.0 74.6,1254.0 75.9,1254.0 77.2,1254.0 78.5,1254.0 79.8,1254.0 81.2,1254.0 82.5,1254.0 83.8,1254.0 85.1,1254.0 86.4,1254.0 87.7,1254.0 89.0,1254.0 90.3,1254.0 91.6,1254.0 92.9,1254.0 94.2,1254.0 95.5,1254.0 96.8,1254.0 98.1,1254.0 99.4,1254.0 100.7,1254.0 102.0,1254.0 103.3,1253.9 104.6,1253.9 105.9,1253.9 107.2,1253.9 108.5,1253.9 109.8,1253.9 111.1,1253.9 112.4,1253.9 113.7,1253.9 115.0,1253.9 116.3,1253.9 117.6,1253.9 118.9,1253.8 120.2,1253.8 121.5,1253.8 122.8,1253.8 124.1,1253.8 125.5,1253.8 126.8,1253.7 128.1,1253.7 129.4,1253.7 130.7,1253.7 132.0,1253.6 133.3,1253.6 134.6,1253.6 135.9,1253.5 137.2,1253.5 138.5,1253.4 139.8,1253.4 141.1,1253.3 142.4,1253.3 143.7,1253.2 145.0,1253.1 146.3,1253.0 147.6,1253.0 148.9,1252.9 150.2,1252.8 151.5,1252.6 152.8,1252.5 154.1,1252.4 155.4,1252.2 156.7,1252.1 158.0,1251.9 159.3,1251.7 160.6,1251.5 161.9,1251.3 163.2,1251.0 164.5,1250.7 165.8,1250.4 167.1,1250.1 168.4,1249.8 169.8,1249.4 171.1,1249.0 172.4,1248.5 173.7,1248.0 175.0,1247.5 176.3,1246.9 177.6,1246.3 178.9,1245.6 180.2,1244.9 181.5,1244.1 182.8,1243.2 184.1,1242.3 185.4,1241.3 186.7,1240.2 188.0,1239.0 189.3,1237.7 190.6,1236.4 191.9,1234.9 193.2,1233.3 194.5,1231.6 195.8,1229.8 197.1,1227.9 198.4,1225.9 199.7,1223.7 201.0,1221.4 202.3,1218.9 203.6,1216.3 204.9,1213.6 206.2,1210.7 207.5,1207.6 208.8,1204.5 210.1,1201.2 211.4,1197.7 212.7,1194.2 214.1,1190.5 215.4,1186.7 216.7,1182.8 218.0,1178.8 219.3,1174.8 220.6,1170.7 221.9,1166.5 223.2,1162.3 224.5,1158.1 225.8,1153.9 227.1,1149.7 228.4,1145.6 229.7,1141.5 231.0,1137.4 232.3,1133.5 233.6,1129.6 234.9,1125.9 236.2,1122.2 237.5,1118.7 238.8,1115.3 240.1,1112.0 241.4,1108.9 242.7,1105.9 244.0,1103.1 245.3,1100.4 246.6,1097.8 247.9,1095.4 249.2,1093.1 250.5,1091.0 251.8,1089.0 253.1,1087.1 254.4,1085.3 255.7,1083.7 257.0,1082.2 258.3,1080.7 259.7,1079.4 261.0,1078.2 262.3,1077.0 263.6,1075.9 264.9,1075.0 266.2,1074.0 267.5,1073.2 268.8,1072.4 270.1,1071.7 271.4,1071.0 272.7,1070.4 274.0,1069.9 275.3,1069.3 276.6,1068.9 277.9,1068.4 279.2,1068.0 280.5,1067.7 281.8,1067.3 283.1,1067.0 284.4,1066.7 285.7,1066.5 287.0,1066.2 288.3,1066.0 289.6,1065.8 290.9,1065.6 292.2,1065.4 293.5,1065.3 294.8,1065.1 296.1,1065.0 297.4,1064.9 298.7,1064.8 300.0,1064.7 301.3,1064.6 302.6,1064.5 304.0,1064.4 305.3,1064.3 306.6,1064.3 307.9,1064.2 309.2,1064.1 310.5,1064.1 311.8,1064.0 313.1,1064.0 314.4,1064.0 315.7,1063.9 317.0,1063.9 318.3,1063.9 319.6,1063.8 320.9,1063.8 322.2,1063.8 323.5,1063.8 324.8,1063.7 326.1,1063.7 327.4,1063.7 328.7,1063.7 330.0,1063.7 331.3,1063.7 332.6,1063.7 333.9,1063.7 335.2,1063.6 336.5,1063.6 337.8,1063.6 339.1,1063.6 340.4,1063.6 341.7,1063.6 343.0,1063.6 344.3,1063.6 345.6,1063.6 346.9,1063.6 348.3,1063.6 349.6,1063.6 350.9,1063.6 352.2,1063.6 353.5,1063.6 354.8,1063.6 356.1,1063.6 357.4,1063.6 358.7,1063.6 360.0,1063.6 361.3,1063.6 362.6,1063.6 363.9,1063.6 365.2,1063.6 366.5,1063.6 367.8,1063.6 369.1,1063.6 370.4,1063.6"/>
<polyline fill="none" stroke="#000" stroke-width="2.5" stroke-linecap="round" stroke-linejoin="round" stroke-dasharray="0.01 7.9" points="57.7,1254.0 59.0,1254.0 60.3,1254.0 61.6,1254.0 62.9,1254.0 64.2,1254.0 65.5,1254.0 66.8,1254.0 68.1,1254.0 69.4,1254.0 70.7,1254.0 72.0,1254.0 73.3,1254.0 74.6,1254.0 75.9,1254.0 77.2,1254.0 78.5,1254.0 79.8,1254.0 81.2,1254.0 82.5,1254.0 83.8,1254.0 85.1,1254.0 86.4,1254.0 87.7,1254.0 89.0,1254.0 90.3,1254.0 91.6,1254.0 92.9,1254.0 94.2,1254.0 95.5,1254.0 96.8,1254.0 98.1,1254.0 99.4,1254.0 100.7,1254.0 102.0,1254.0 103.3,1254.0 104.6,1254.0 105.9,1254.0 107.2,1254.0 108.5,1254.0 109.8,1254.0 111.1,1253.9 112.4,1253.9 113.7,1253.9 115.0,1253.9 116.3,1253.9 117.6,1253.9 118.9,1253.9 120.2,1253.9 121.5,1253.9 122.8,1253.9 124.1,1253.9 125.5,1253.9 126.8,1253.9 128.1,1253.8 129.4,1253.8 130.7,1253.8 132.0,1253.8 133.3,1253.8 134.6,1253.8 135.9,1253.8 137.2,1253.7 138.5,1253.7 139.8,1253.7 141.1,1253.7 142.4,1253.6 143.7,1253.6 145.0,1253.6 146.3,1253.5 147.6,1253.5 148.9,1253.4 150.2,1253.4 151.5,1253.3 152.8,1253.3 154.1,1253.2 155.4,1253.1 156.7,1253.1 158.0,1253.0 159.3,1252.9 160.6,1252.8 161.9,1252.7 163.2,1252.6 164.5,1252.5 165.8,1252.4 167.1,1252.2 168.4,1252.1 169.8,1251.9 171.1,1251.7 172.4,1251.5 173.7,1251.3 175.0,1251.1 176.3,1250.9 177.6,1250.6 178.9,1250.3 180.2,1250.0 181.5,1249.6 182.8,1249.3 184.1,1248.9 185.4,1248.5 186.7,1248.0 188.0,1247.5 189.3,1247.0 190.6,1246.4 191.9,1245.8 193.2,1245.1 194.5,1244.4 195.8,1243.6 197.1,1242.7 198.4,1241.8 199.7,1240.8 201.0,1239.8 202.3,1238.7 203.6,1237.5 204.9,1236.2 206.2,1234.8 207.5,1233.3 208.8,1231.8 210.1,1230.1 211.4,1228.3 212.7,1226.4 214.1,1224.4 215.4,1222.3 216.7,1220.0 218.0,1217.7 219.3,1215.2 220.6,1212.6 221.9,1209.8 223.2,1207.0 224.5,1204.0 225.8,1200.9 227.1,1197.7 228.4,1194.4 229.7,1190.9 231.0,1187.4 232.3,1183.8 233.6,1180.1 234.9,1176.3 236.2,1172.5 237.5,1168.6 238.8,1164.7 240.1,1160.8 241.4,1156.9 242.7,1153.0 244.0,1149.1 245.3,1145.2 246.6,1141.4 247.9,1137.6 249.2,1133.9 250.5,1130.3 251.8,1126.8 253.1,1123.3 254.4,1120.0 255.7,1116.8 257.0,1113.7 258.3,1110.7 259.7,1107.8 261.0,1105.1 262.3,1102.4 263.6,1100.0 264.9,1097.6 266.2,1095.3 267.5,1093.2 268.8,1091.2 270.1,1089.3 271.4,1087.5 272.7,1085.9 274.0,1084.3 275.3,1082.8 276.6,1081.4 277.9,1080.1 279.2,1078.9 280.5,1077.8 281.8,1076.7 283.1,1075.8 284.4,1074.9 285.7,1074.0 287.0,1073.2 288.3,1072.5 289.6,1071.8 290.9,1071.2 292.2,1070.6 293.5,1070.1 294.8,1069.6 296.1,1069.1 297.4,1068.7 298.7,1068.3 300.0,1067.9 301.3,1067.6 302.6,1067.3 304.0,1067.0 305.3,1066.7 306.6,1066.5 307.9,1066.2 309.2,1066.0 310.5,1065.8 311.8,1065.6 313.1,1065.5 314.4,1065.3 315.7,1065.2 317.0,1065.1 318.3,1064.9 319.6,1064.8 320.9,1064.7 322.2,1064.6 323.5,1064.5 324.8,1064.5 326.1,1064.4 327.4,1064.3 328.7,1064.3 330.0,1064.2 331.3,1064.2 332.6,1064.1 333.9,1064.1 335.2,1064.0 336.5,1064.0 337.8,1063.9 339.1,1063.9 340.4,1063.9 341.7,1063.9 343.0,1063.8 344.3,1063.8 345.6,1063.8 346.9,1063.8 348.3,1063.8 349.6,1063.7 350.9,1063.7 352.2,1063.7 353.5,1063.7 354.8,1063.7 356.1,1063.7 357.4,1063.7 358.7,1063.7 360.0,1063.6 361.3,1063.6 362.6,1063.6 363.9,1063.6 365.2,1063.6 366.5,1063.6 367.8,1063.6 369.1,1063.6 370.4,1063.6"/>
<polyline fill="none" stroke="#0a0aff" stroke-width="2.5" stroke-linecap="round" stroke-linejoin="round" stroke-dasharray="4.3 8.25 0.01 8.25" points="57.7,1252.9 59.0,1252.9 60.3,1252.9 61.6,1252.9 62.9,1252.9 64.2,1252.9 65.5,1252.9 66.8,1252.9 68.1,1252.9 69.4,1252.9 70.7,1252.9 72.0,1252.9 73.3,1252.9 74.6,1252.9 75.9,1252.9 77.2,1252.9 78.5,1252.9 79.8,1252.9 81.2,1252.9 82.5,1252.9 83.8,1252.9 85.1,1252.9 86.4,1252.9 87.7,1252.9 89.0,1252.9 90.3,1252.9 91.6,1252.9 92.9,1252.8 94.2,1252.8 95.5,1252.8 96.8,1252.8 98.1,1252.8 99.4,1252.8 100.7,1252.8 102.0,1252.8 103.3,1252.8 104.6,1252.8 105.9,1252.8 107.2,1252.8 108.5,1252.8 109.8,1252.8 111.1,1252.8 112.4,1252.8 113.7,1252.8 115.0,1252.8 116.3,1252.8 117.6,1252.8 118.9,1252.7 120.2,1252.7 121.5,1252.7 122.8,1252.7 124.1,1252.7 125.5,1252.7 126.8,1252.6 128.1,1252.6 129.4,1252.6 130.7,1252.5 132.0,1252.5 133.3,1252.4 134.6,1252.4 135.9,1252.3 137.2,1252.3 138.5,1252.2 139.8,1252.1 141.1,1252.1 142.4,1252.0 143.7,1251.9 145.0,1251.7 146.3,1251.6 147.6,1251.5 148.9,1251.3 150.2,1251.1 151.5,1250.9 152.8,1250.7 154.1,1250.4 155.4,1250.1 156.7,1249.8 158.0,1249.5 159.3,1249.1 160.6,1248.7 161.9,1248.2 163.2,1247.6 164.5,1247.0 165.8,1246.4 167.1,1245.6 168.4,1244.8 169.8,1243.9 171.1,1242.9 172.4,1241.8 173.7,1240.6 175.0,1239.2 176.3,1237.7 177.6,1236.1 178.9,1234.3 180.2,1232.4 181.5,1230.2 182.8,1227.9 184.1,1225.4 185.4,1222.7 186.7,1219.7 188.0,1216.6 189.3,1213.2 190.6,1209.6 191.9,1205.7 193.2,1201.7 194.5,1197.4 195.8,1192.9 197.1,1188.3 198.4,1183.4 199.7,1178.4 201.0,1173.3 202.3,1168.1 203.6,1162.9 204.9,1157.6 206.2,1152.3 207.5,1147.1 208.8,1141.9 210.1,1136.8 211.4,1131.8 212.7,1127.0 214.1,1122.4 215.4,1117.9 216.7,1113.7 218.0,1109.7 219.3,1105.8 220.6,1102.3 221.9,1098.9 223.2,1095.8 224.5,1092.9 225.8,1090.2 227.1,1087.7 228.4,1085.4 229.7,1083.3 231.0,1081.4 232.3,1079.6 233.6,1078.0 234.9,1076.6 236.2,1075.2 237.5,1074.0 238.8,1073.0 240.1,1072.0 241.4,1071.1 242.7,1070.3 244.0,1069.5 245.3,1068.9 246.6,1068.3 247.9,1067.8 249.2,1067.3 250.5,1066.9 251.8,1066.5 253.1,1066.1 254.4,1065.8 255.7,1065.6 257.0,1065.3 258.3,1065.1 259.7,1064.9 261.0,1064.7 262.3,1064.5 263.6,1064.4 264.9,1064.3 266.2,1064.1 267.5,1064.0 268.8,1064.0 270.1,1063.9 271.4,1063.8 272.7,1063.7 274.0,1063.7 275.3,1063.6 276.6,1063.6 277.9,1063.5 279.2,1063.5 280.5,1063.5 281.8,1063.4 283.1,1063.4 284.4,1063.4 285.7,1063.3 287.0,1063.3 288.3,1063.3 289.6,1063.3 290.9,1063.3 292.2,1063.3 293.5,1063.3 294.8,1063.2 296.1,1063.2 297.4,1063.2 298.7,1063.2 300.0,1063.2 301.3,1063.2 302.6,1063.2 304.0,1063.2 305.3,1063.2 306.6,1063.2 307.9,1063.2 309.2,1063.2 310.5,1063.2 311.8,1063.2 313.1,1063.2 314.4,1063.2 315.7,1063.2 317.0,1063.2 318.3,1063.2 319.6,1063.2 320.9,1063.2 322.2,1063.2 323.5,1063.2 324.8,1063.2 326.1,1063.2 327.4,1063.2 328.7,1063.2 330.0,1063.2 331.3,1063.2 332.6,1063.2 333.9,1063.2 335.2,1063.2 336.5,1063.2 337.8,1063.2 339.1,1063.2 340.4,1063.2 341.7,1063.2 343.0,1063.2 344.3,1063.2 345.6,1063.2 346.9,1063.2 348.3,1063.2 349.6,1063.2 350.9,1063.2 352.2,1063.2 353.5,1063.2 354.8,1063.2 356.1,1063.2 357.4,1063.2 358.7,1063.2 360.0,1063.2 361.3,1063.2 362.6,1063.2 363.9,1063.2 365.2,1063.2 366.5,1063.2 367.8,1063.2 369.1,1063.2 370.4,1063.2"/>
<polyline fill="none" stroke="#0a0aff" stroke-width="2.7" stroke-linecap="round" stroke-linejoin="round" stroke-dasharray="0.01 7.9" points="57.7,1253.2 59.0,1253.2 60.3,1253.2 61.6,1253.2 62.9,1253.2 64.2,1253.2 65.5,1253.2 66.8,1253.2 68.1,1253.2 69.4,1253.2 70.7,1253.2 72.0,1253.2 73.3,1253.2 74.6,1253.2 75.9,1253.2 77.2,1253.2 78.5,1253.2 79.8,1253.2 81.2,1253.2 82.5,1253.2 83.8,1253.2 85.1,1253.2 86.4,1253.2 87.7,1253.2 89.0,1253.2 90.3,1253.2 91.6,1253.2 92.9,1253.2 94.2,1253.2 95.5,1253.2 96.8,1253.2 98.1,1253.2 99.4,1253.2 100.7,1253.2 102.0,1253.2 103.3,1253.2 104.6,1253.2 105.9,1253.2 107.2,1253.2 108.5,1253.2 109.8,1253.2 111.1,1253.2 112.4,1253.2 113.7,1253.2 115.0,1253.2 116.3,1253.2 117.6,1253.1 118.9,1253.1 120.2,1253.1 121.5,1253.1 122.8,1253.1 124.1,1253.1 125.5,1253.1 126.8,1253.0 128.1,1253.0 129.4,1253.0 130.7,1252.9 132.0,1252.9 133.3,1252.9 134.6,1252.8 135.9,1252.8 137.2,1252.7 138.5,1252.7 139.8,1252.6 141.1,1252.5 142.4,1252.4 143.7,1252.3 145.0,1252.2 146.3,1252.1 147.6,1252.0 148.9,1251.8 150.2,1251.7 151.5,1251.5 152.8,1251.3 154.1,1251.1 155.4,1250.8 156.7,1250.5 158.0,1250.2 159.3,1249.9 160.6,1249.5 161.9,1249.0 163.2,1248.6 164.5,1248.0 165.8,1247.4 167.1,1246.8 168.4,1246.0 169.8,1245.2 171.1,1244.3 172.4,1243.3 173.7,1242.2 175.0,1241.0 176.3,1239.6 177.6,1238.2 178.9,1236.5 180.2,1234.7 181.5,1232.8 182.8,1230.7 184.1,1228.4 185.4,1225.8 186.7,1223.1 188.0,1220.2 189.3,1217.0 190.6,1213.6 191.9,1210.0 193.2,1206.2 194.5,1202.1 195.8,1197.8 197.1,1193.4 198.4,1188.7 199.7,1183.9 201.0,1178.9 202.3,1173.8 203.6,1168.6 204.9,1163.3 206.2,1158.0 207.5,1152.7 208.8,1147.4 210.1,1142.2 211.4,1137.1 212.7,1132.2 214.1,1127.3 215.4,1122.7 216.7,1118.2 218.0,1113.9 219.3,1109.9 220.6,1106.1 221.9,1102.5 223.2,1099.1 224.5,1096.0 225.8,1093.1 227.1,1090.4 228.4,1087.9 229.7,1085.6 231.0,1083.4 232.3,1081.5 233.6,1079.7 234.9,1078.1 236.2,1076.7 237.5,1075.3 238.8,1074.1 240.1,1073.0 241.4,1072.0 242.7,1071.1 244.0,1070.3 245.3,1069.6 246.6,1068.9 247.9,1068.3 249.2,1067.8 250.5,1067.3 251.8,1066.9 253.1,1066.5 254.4,1066.2 255.7,1065.8 257.0,1065.6 258.3,1065.3 259.7,1065.1 261.0,1064.9 262.3,1064.7 263.6,1064.5 264.9,1064.4 266.2,1064.3 267.5,1064.2 268.8,1064.0 270.1,1064.0 271.4,1063.9 272.7,1063.8 274.0,1063.7 275.3,1063.7 276.6,1063.6 277.9,1063.6 279.2,1063.5 280.5,1063.5 281.8,1063.5 283.1,1063.4 284.4,1063.4 285.7,1063.4 287.0,1063.3 288.3,1063.3 289.6,1063.3 290.9,1063.3 292.2,1063.3 293.5,1063.3 294.8,1063.3 296.1,1063.2 297.4,1063.2 298.7,1063.2 300.0,1063.2 301.3,1063.2 302.6,1063.2 304.0,1063.2 305.3,1063.2 306.6,1063.2 307.9,1063.2 309.2,1063.2 310.5,1063.2 311.8,1063.2 313.1,1063.2 314.4,1063.2 315.7,1063.2 317.0,1063.2 318.3,1063.2 319.6,1063.2 320.9,1063.2 322.2,1063.2 323.5,1063.2 324.8,1063.2 326.1,1063.2 327.4,1063.2 328.7,1063.2 330.0,1063.2 331.3,1063.2 332.6,1063.2 333.9,1063.2 335.2,1063.2 336.5,1063.2 337.8,1063.2 339.1,1063.2 340.4,1063.2 341.7,1063.2 343.0,1063.2 344.3,1063.2 345.6,1063.2 346.9,1063.2 348.3,1063.2 349.6,1063.2 350.9,1063.2 352.2,1063.2 353.5,1063.2 354.8,1063.2 356.1,1063.2 357.4,1063.2 358.7,1063.2 360.0,1063.2 361.3,1063.2 362.6,1063.2 363.9,1063.2 365.2,1063.2 366.5,1063.2 367.8,1063.2 369.1,1063.2 370.4,1063.2"/>
</g>
<path d="M57.70,1254.00 V1045.30 H370.40 V1254.00 Z" fill="none" stroke="#000" stroke-width="2.5"/>
<line x1="54.30" y1="1254.00" x2="57.70" y2="1254.00" stroke="#000" stroke-width="2.1"/>
<text x="52.50" y="1259.00" text-anchor="end" class="tk">0.0</text>
<line x1="54.30" y1="1159.15" x2="57.70" y2="1159.15" stroke="#000" stroke-width="2.1"/>
<text x="52.50" y="1164.15" text-anchor="end" class="tk">0.5</text>
<line x1="54.30" y1="1064.30" x2="57.70" y2="1064.30" stroke="#000" stroke-width="2.1"/>
<text x="52.50" y="1069.30" text-anchor="end" class="tk"><tspan class="one">1</tspan>.0</text>
<line x1="57.70" y1="1254.00" x2="57.70" y2="1257.60" stroke="#000" stroke-width="2.1"/>
<text x="57.70" y="1271.80" text-anchor="middle" class="tk">20</text>
<line x1="161.93" y1="1254.00" x2="161.93" y2="1257.60" stroke="#000" stroke-width="2.1"/>
<text x="161.93" y="1271.80" text-anchor="middle" class="tk">40</text>
<line x1="266.17" y1="1254.00" x2="266.17" y2="1257.60" stroke="#000" stroke-width="2.1"/>
<text x="266.17" y="1271.80" text-anchor="middle" class="tk">60</text>
<line x1="370.40" y1="1254.00" x2="370.40" y2="1257.60" stroke="#000" stroke-width="2.1"/>
<text x="370.40" y="1271.80" text-anchor="middle" class="tk">80</text>
<text x="214.05" y="1293.90" text-anchor="middle" class="ax">Temperature (<tspan class="deg" dy="-5.5">o</tspan><tspan dy="5.5">C)</tspan></text>
<text transform="translate(22.00,1144.35) rotate(-90)" text-anchor="middle" class="ay">Unfolded Fraction</text>
<text x="64.10" y="1063.00" class="ttl">Canton</text>
<text x="191.70" y="1080.70" text-anchor="end" class="hdr">T<tspan class="sub" dy="3">m</tspan><tspan dy="-3"> (</tspan><tspan class="deg2" dy="-3.5">o</tspan><tspan dy="3.5">C)</tspan></text>
<line x1="70.30" y1="1093.70" x2="78.70" y2="1093.70" stroke="#000" stroke-width="2.5"/>
<text x="84.60" y="1097.60" class="lg" xml:space="preserve">0 <tspan class="mu">µ</tspan>M NADP<tspan class="sup" dy="-4">+</tspan></text>
<text x="191.70" y="1097.60" text-anchor="end" class="lg">48.36</text>
<line x1="70.30" y1="1107.40" x2="77.10" y2="1107.40" stroke="#000" stroke-width="2.5"/>
<text x="84.60" y="1111.30" class="lg" xml:space="preserve"><tspan class="one">1</tspan>0 <tspan class="mu">µ</tspan>M NADP<tspan class="sup" dy="-4">+</tspan></text>
<text x="191.70" y="1111.30" text-anchor="end" class="lg">52.0<tspan class="one">1</tspan></text>
<circle cx="70.90" cy="1121.00" r="0.9" fill="#000"/><circle cx="78.30" cy="1121.00" r="1.15" fill="#000"/>
<text x="84.60" y="1124.90" class="lg" xml:space="preserve"><tspan class="one">1</tspan>00 <tspan class="mu">µ</tspan>M NADP<tspan class="sup" dy="-4">+</tspan></text>
<text x="191.70" y="1124.90" text-anchor="end" class="lg">55.<tspan class="one">1</tspan>8</text>
<line x1="69.50" y1="1135.90" x2="76.20" y2="1135.90" stroke="#0a0aff" stroke-width="2.6"/>
<text x="84.60" y="1139.80" class="lg" xml:space="preserve"><tspan class="one">1</tspan>0 <tspan class="mu">µ</tspan>M  AG<tspan class="one">1</tspan></text>
<text x="191.70" y="1139.80" text-anchor="end" class="lg">48.28</text>
<circle cx="70.70" cy="1149.10" r="1.0" fill="#0a0aff"/><circle cx="77.90" cy="1149.10" r="1.25" fill="#0a0aff"/>
<text x="84.60" y="1153.00" class="lg" xml:space="preserve"><tspan class="one">1</tspan>00 <tspan class="mu">µ</tspan>M AG<tspan class="one">1</tspan></text>
<text x="191.70" y="1153.00" text-anchor="end" class="lg">48.54</text>
<clipPath id="c9"><rect x="467.30" y="1044.50" width="312.10" height="210.25"/></clipPath>
<g clip-path="url(#c9)">
<polyline fill="none" stroke="#000" stroke-width="2.3" stroke-linecap="butt" stroke-linejoin="round" points="467.3,1250.5 468.6,1250.5 469.9,1250.5 471.2,1250.5 472.5,1250.5 473.8,1250.5 475.1,1250.5 476.4,1250.5 477.7,1250.5 479.0,1250.5 480.3,1250.5 481.6,1250.5 482.9,1250.5 484.2,1250.5 485.5,1250.5 486.8,1250.5 488.1,1250.5 489.4,1250.5 490.7,1250.5 492.0,1250.5 493.3,1250.5 494.6,1250.5 495.9,1250.5 497.2,1250.5 498.5,1250.5 499.8,1250.5 501.1,1250.5 502.4,1250.5 503.7,1250.5 505.0,1250.5 506.3,1250.5 507.6,1250.5 508.9,1250.5 510.2,1250.5 511.5,1250.5 512.8,1250.5 514.1,1250.5 515.4,1250.5 516.7,1250.5 518.0,1250.5 519.3,1250.5 520.6,1250.5 521.9,1250.5 523.2,1250.5 524.5,1250.5 525.8,1250.5 527.1,1250.4 528.4,1250.4 529.7,1250.4 531.0,1250.4 532.3,1250.4 533.6,1250.4 534.9,1250.4 536.2,1250.4 537.5,1250.4 538.8,1250.4 540.1,1250.4 541.4,1250.4 542.7,1250.4 544.0,1250.4 545.3,1250.4 546.6,1250.3 547.9,1250.3 549.2,1250.3 550.5,1250.3 551.8,1250.3 553.1,1250.3 554.4,1250.2 555.7,1250.2 557.0,1250.2 558.3,1250.1 559.6,1250.1 560.9,1250.1 562.2,1250.0 563.5,1249.9 564.8,1249.9 566.1,1249.8 567.4,1249.7 568.7,1249.7 570.0,1249.6 571.3,1249.5 572.6,1249.4 573.9,1249.2 575.2,1249.1 576.5,1248.9 577.8,1248.7 579.1,1248.6 580.4,1248.3 581.7,1248.1 583.0,1247.8 584.3,1247.5 585.6,1247.2 586.9,1246.8 588.2,1246.4 589.5,1246.0 590.8,1245.5 592.1,1244.9 593.4,1244.3 594.7,1243.6 596.0,1242.8 597.3,1242.0 598.6,1241.1 599.9,1240.0 601.2,1238.9 602.5,1237.7 603.8,1236.3 605.1,1234.8 606.4,1233.2 607.7,1231.4 609.0,1229.5 610.3,1227.4 611.6,1225.1 612.9,1222.6 614.2,1219.9 615.5,1217.0 616.8,1213.9 618.1,1210.6 619.4,1207.1 620.7,1203.4 622.0,1199.4 623.4,1195.3 624.7,1190.9 626.0,1186.4 627.3,1181.8 628.6,1177.0 629.9,1172.0 631.2,1167.0 632.5,1162.0 633.8,1156.9 635.1,1151.8 636.4,1146.7 637.7,1141.7 639.0,1136.7 640.3,1131.9 641.6,1127.2 642.9,1122.7 644.2,1118.3 645.5,1114.1 646.8,1110.2 648.1,1106.4 649.4,1102.8 650.7,1099.5 652.0,1096.4 653.3,1093.5 654.6,1090.7 655.9,1088.2 657.2,1085.9 658.5,1083.8 659.8,1081.8 661.1,1080.0 662.4,1078.3 663.7,1076.8 665.0,1075.4 666.3,1074.2 667.6,1073.0 668.9,1072.0 670.2,1071.1 671.5,1070.2 672.8,1069.4 674.1,1068.7 675.4,1068.1 676.7,1067.5 678.0,1067.0 679.3,1066.6 680.6,1066.1 681.9,1065.8 683.2,1065.4 684.5,1065.1 685.8,1064.9 687.1,1064.6 688.4,1064.4 689.7,1064.2 691.0,1064.0 692.3,1063.8 693.6,1063.7 694.9,1063.6 696.2,1063.5 697.5,1063.3 698.8,1063.3 700.1,1063.2 701.4,1063.1 702.7,1063.0 704.0,1063.0 705.3,1062.9 706.6,1062.9 707.9,1062.8 709.2,1062.8 710.5,1062.7 711.8,1062.7 713.1,1062.7 714.4,1062.7 715.7,1062.6 717.0,1062.6 718.3,1062.6 719.6,1062.6 720.9,1062.6 722.2,1062.5 723.5,1062.5 724.8,1062.5 726.1,1062.5 727.4,1062.5 728.7,1062.5 730.0,1062.5 731.3,1062.5 732.6,1062.5 733.9,1062.5 735.2,1062.5 736.5,1062.5 737.8,1062.5 739.1,1062.5 740.4,1062.5 741.7,1062.5 743.0,1062.5 744.3,1062.4 745.6,1062.4 746.9,1062.4 748.2,1062.4 749.5,1062.4 750.8,1062.4 752.1,1062.4 753.4,1062.4 754.7,1062.4 756.0,1062.4 757.3,1062.4 758.6,1062.4 759.9,1062.4 761.2,1062.4 762.5,1062.4 763.8,1062.4 765.1,1062.4 766.4,1062.4 767.7,1062.4 769.0,1062.4 770.3,1062.4 771.6,1062.4 772.9,1062.4 774.2,1062.4 775.5,1062.4 776.8,1062.4 778.1,1062.4 779.4,1062.4"/>
<polyline fill="none" stroke="#000" stroke-width="2.4" stroke-linecap="round" stroke-linejoin="round" stroke-dasharray="4.9 8.2" points="467.3,1252.8 468.6,1252.7 469.9,1252.7 471.2,1252.7 472.5,1252.7 473.8,1252.7 475.1,1252.7 476.4,1252.7 477.7,1252.7 479.0,1252.7 480.3,1252.7 481.6,1252.7 482.9,1252.7 484.2,1252.7 485.5,1252.7 486.8,1252.7 488.1,1252.7 489.4,1252.7 490.7,1252.7 492.0,1252.7 493.3,1252.7 494.6,1252.7 495.9,1252.7 497.2,1252.7 498.5,1252.7 499.8,1252.7 501.1,1252.7 502.4,1252.7 503.7,1252.7 505.0,1252.7 506.3,1252.7 507.6,1252.7 508.9,1252.7 510.2,1252.7 511.5,1252.7 512.8,1252.7 514.1,1252.7 515.4,1252.7 516.7,1252.7 518.0,1252.7 519.3,1252.7 520.6,1252.7 521.9,1252.7 523.2,1252.7 524.5,1252.7 525.8,1252.7 527.1,1252.7 528.4,1252.7 529.7,1252.7 531.0,1252.7 532.3,1252.7 533.6,1252.7 534.9,1252.7 536.2,1252.7 537.5,1252.7 538.8,1252.7 540.1,1252.7 541.4,1252.7 542.7,1252.7 544.0,1252.7 545.3,1252.7 546.6,1252.7 547.9,1252.7 549.2,1252.7 550.5,1252.7 551.8,1252.7 553.1,1252.7 554.4,1252.7 555.7,1252.7 557.0,1252.7 558.3,1252.7 559.6,1252.7 560.9,1252.7 562.2,1252.7 563.5,1252.7 564.8,1252.7 566.1,1252.7 567.4,1252.7 568.7,1252.7 570.0,1252.7 571.3,1252.7 572.6,1252.7 573.9,1252.7 575.2,1252.7 576.5,1252.7 577.8,1252.7 579.1,1252.7 580.4,1252.7 581.7,1252.7 583.0,1252.7 584.3,1252.7 585.6,1252.7 586.9,1252.7 588.2,1252.7 589.5,1252.7 590.8,1252.7 592.1,1252.7 593.4,1252.7 594.7,1252.7 596.0,1252.7 597.3,1252.7 598.6,1252.7 599.9,1252.7 601.2,1252.7 602.5,1252.7 603.8,1252.7 605.1,1252.7 606.4,1252.7 607.7,1252.7 609.0,1252.7 610.3,1252.7 611.6,1252.7 612.9,1252.7 614.2,1252.7 615.5,1252.7 616.8,1252.7 618.1,1252.7 619.4,1252.7 620.7,1252.7 622.0,1252.7 623.4,1252.7 624.7,1252.7 626.0,1252.7 627.3,1252.7 628.6,1252.6 629.9,1252.6 631.2,1252.6 632.5,1252.6 633.8,1252.5 635.1,1252.4 636.4,1252.4 637.7,1252.3 639.0,1252.1 640.3,1252.0 641.6,1251.8 642.9,1251.6 644.2,1251.3 645.5,1250.9 646.8,1250.4 648.1,1249.9 649.4,1249.2 650.7,1248.3 652.0,1247.2 653.3,1245.9 654.6,1244.2 655.9,1242.2 657.2,1239.8 658.5,1236.8 659.8,1233.2 661.1,1229.0 662.4,1223.9 663.7,1218.0 665.0,1211.2 666.3,1203.5 667.6,1195.0 668.9,1185.6 670.2,1175.6 671.5,1165.2 672.8,1154.6 674.1,1144.1 675.4,1133.9 676.7,1124.2 678.0,1115.3 679.3,1107.2 680.6,1100.0 681.9,1093.7 683.2,1088.3 684.5,1083.7 685.8,1079.9 687.1,1076.6 688.4,1074.0 689.7,1071.8 691.0,1070.0 692.3,1068.5 693.6,1067.3 694.9,1066.4 696.2,1065.6 697.5,1065.0 698.8,1064.5 700.1,1064.1 701.4,1063.7 702.7,1063.5 704.0,1063.3 705.3,1063.1 706.6,1063.0 707.9,1062.9 709.2,1062.8 710.5,1062.7 711.8,1062.7 713.1,1062.6 714.4,1062.6 715.7,1062.5 717.0,1062.5 718.3,1062.5 719.6,1062.5 720.9,1062.5 722.2,1062.5 723.5,1062.5 724.8,1062.5 726.1,1062.4 727.4,1062.4 728.7,1062.4 730.0,1062.4 731.3,1062.4 732.6,1062.4 733.9,1062.4 735.2,1062.4 736.5,1062.4 737.8,1062.4 739.1,1062.4 740.4,1062.4 741.7,1062.4 743.0,1062.4 744.3,1062.4 745.6,1062.4 746.9,1062.4 748.2,1062.4 749.5,1062.4 750.8,1062.4 752.1,1062.4 753.4,1062.4 754.7,1062.4 756.0,1062.4 757.3,1062.4 758.6,1062.4 759.9,1062.4 761.2,1062.4 762.5,1062.4 763.8,1062.4 765.1,1062.4 766.4,1062.4 767.7,1062.4 769.0,1062.4 770.3,1062.4 771.6,1062.4 772.9,1062.4 774.2,1062.4 775.5,1062.4 776.8,1062.4 778.1,1062.4 779.4,1062.4"/>
<polyline fill="none" stroke="#000" stroke-width="2.5" stroke-linecap="round" stroke-linejoin="round" stroke-dasharray="0.01 7.9" points="467.3,1252.8 468.6,1252.8 469.9,1252.8 471.2,1252.8 472.5,1252.8 473.8,1252.8 475.1,1252.8 476.4,1252.8 477.7,1252.8 479.0,1252.8 480.3,1252.8 481.6,1252.8 482.9,1252.8 484.2,1252.8 485.5,1252.8 486.8,1252.8 488.1,1252.8 489.4,1252.8 490.7,1252.8 492.0,1252.8 493.3,1252.8 494.6,1252.8 495.9,1252.8 497.2,1252.8 498.5,1252.8 499.8,1252.8 501.1,1252.8 502.4,1252.8 503.7,1252.8 505.0,1252.8 506.3,1252.8 507.6,1252.8 508.9,1252.8 510.2,1252.8 511.5,1252.8 512.8,1252.8 514.1,1252.8 515.4,1252.8 516.7,1252.8 518.0,1252.8 519.3,1252.8 520.6,1252.8 521.9,1252.8 523.2,1252.8 524.5,1252.8 525.8,1252.8 527.1,1252.8 528.4,1252.8 529.7,1252.8 531.0,1252.8 532.3,1252.8 533.6,1252.8 534.9,1252.8 536.2,1252.8 537.5,1252.8 538.8,1252.8 540.1,1252.8 541.4,1252.8 542.7,1252.8 544.0,1252.8 545.3,1252.8 546.6,1252.7 547.9,1252.7 549.2,1252.7 550.5,1252.7 551.8,1252.7 553.1,1252.7 554.4,1252.7 555.7,1252.7 557.0,1252.7 558.3,1252.7 559.6,1252.7 560.9,1252.7 562.2,1252.7 563.5,1252.7 564.8,1252.7 566.1,1252.7 567.4,1252.7 568.7,1252.7 570.0,1252.7 571.3,1252.7 572.6,1252.7 573.9,1252.7 575.2,1252.7 576.5,1252.7 577.8,1252.7 579.1,1252.7 580.4,1252.7 581.7,1252.7 583.0,1252.7 584.3,1252.7 585.6,1252.7 586.9,1252.7 588.2,1252.7 589.5,1252.7 590.8,1252.7 592.1,1252.7 593.4,1252.7 594.7,1252.7 596.0,1252.7 597.3,1252.7 598.6,1252.7 599.9,1252.7 601.2,1252.7 602.5,1252.7 603.8,1252.7 605.1,1252.7 606.4,1252.7 607.7,1252.7 609.0,1252.7 610.3,1252.7 611.6,1252.7 612.9,1252.7 614.2,1252.7 615.5,1252.7 616.8,1252.7 618.1,1252.7 619.4,1252.7 620.7,1252.7 622.0,1252.7 623.4,1252.7 624.7,1252.7 626.0,1252.7 627.3,1252.7 628.6,1252.7 629.9,1252.7 631.2,1252.7 632.5,1252.7 633.8,1252.7 635.1,1252.7 636.4,1252.7 637.7,1252.7 639.0,1252.7 640.3,1252.7 641.6,1252.7 642.9,1252.7 644.2,1252.7 645.5,1252.7 646.8,1252.7 648.1,1252.7 649.4,1252.7 650.7,1252.7 652.0,1252.7 653.3,1252.7 654.6,1252.7 655.9,1252.7 657.2,1252.7 658.5,1252.7 659.8,1252.7 661.1,1252.6 662.4,1252.6 663.7,1252.5 665.0,1252.4 666.3,1252.3 667.6,1252.1 668.9,1251.9 670.2,1251.6 671.5,1251.1 672.8,1250.6 674.1,1249.8 675.4,1248.7 676.7,1247.2 678.0,1245.3 679.3,1242.7 680.6,1239.3 681.9,1234.8 683.2,1229.0 684.5,1221.8 685.8,1212.8 687.1,1202.0 688.4,1189.6 689.7,1175.8 691.0,1161.2 692.3,1146.3 693.6,1132.1 694.9,1118.9 696.2,1107.3 697.5,1097.5 698.8,1089.4 700.1,1083.0 701.4,1077.9 702.7,1074.0 704.0,1071.0 705.3,1068.8 706.6,1067.1 707.9,1065.9 709.2,1065.0 710.5,1064.3 711.8,1063.8 713.1,1063.4 714.4,1063.2 715.7,1063.0 717.0,1062.8 718.3,1062.7 719.6,1062.6 720.9,1062.6 722.2,1062.5 723.5,1062.5 724.8,1062.5 726.1,1062.5 727.4,1062.5 728.7,1062.5 730.0,1062.4 731.3,1062.4 732.6,1062.4 733.9,1062.4 735.2,1062.4 736.5,1062.4 737.8,1062.4 739.1,1062.4 740.4,1062.4 741.7,1062.4 743.0,1062.4 744.3,1062.4 745.6,1062.4 746.9,1062.4 748.2,1062.4 749.5,1062.4 750.8,1062.4 752.1,1062.4 753.4,1062.4 754.7,1062.4 756.0,1062.4 757.3,1062.4 758.6,1062.4 759.9,1062.4 761.2,1062.4 762.5,1062.4 763.8,1062.4 765.1,1062.4 766.4,1062.4 767.7,1062.4 769.0,1062.4 770.3,1062.4 771.6,1062.4 772.9,1062.4 774.2,1062.4 775.5,1062.4 776.8,1062.4 778.1,1062.4 779.4,1062.4"/>
<polyline fill="none" stroke="#0a0aff" stroke-width="2.5" stroke-linecap="round" stroke-linejoin="round" stroke-dasharray="4.3 8.25 0.01 8.25" points="467.3,1252.7 468.6,1252.7 469.9,1252.7 471.2,1252.7 472.5,1252.7 473.8,1252.7 475.1,1252.7 476.4,1252.7 477.7,1252.7 479.0,1252.7 480.3,1252.7 481.6,1252.7 482.9,1252.7 484.2,1252.7 485.5,1252.7 486.8,1252.7 488.1,1252.7 489.4,1252.7 490.7,1252.7 492.0,1252.7 493.3,1252.7 494.6,1252.7 495.9,1252.7 497.2,1252.7 498.5,1252.7 499.8,1252.7 501.1,1252.7 502.4,1252.7 503.7,1252.7 505.0,1252.7 506.3,1252.7 507.6,1252.7 508.9,1252.7 510.2,1252.7 511.5,1252.7 512.8,1252.7 514.1,1252.7 515.4,1252.7 516.7,1252.7 518.0,1252.7 519.3,1252.7 520.6,1252.7 521.9,1252.7 523.2,1252.7 524.5,1252.7 525.8,1252.7 527.1,1252.7 528.4,1252.7 529.7,1252.7 531.0,1252.7 532.3,1252.7 533.6,1252.7 534.9,1252.7 536.2,1252.7 537.5,1252.7 538.8,1252.7 540.1,1252.7 541.4,1252.7 542.7,1252.7 544.0,1252.7 545.3,1252.7 546.6,1252.7 547.9,1252.7 549.2,1252.7 550.5,1252.7 551.8,1252.7 553.1,1252.7 554.4,1252.7 555.7,1252.7 557.0,1252.7 558.3,1252.7 559.6,1252.7 560.9,1252.7 562.2,1252.7 563.5,1252.7 564.8,1252.7 566.1,1252.7 567.4,1252.7 568.7,1252.7 570.0,1252.7 571.3,1252.7 572.6,1252.7 573.9,1252.7 575.2,1252.7 576.5,1252.7 577.8,1252.7 579.1,1252.7 580.4,1252.7 581.7,1252.7 583.0,1252.7 584.3,1252.7 585.6,1252.7 586.9,1252.7 588.2,1252.7 589.5,1252.7 590.8,1252.7 592.1,1252.7 593.4,1252.7 594.7,1252.7 596.0,1252.7 597.3,1252.6 598.6,1252.6 599.9,1252.6 601.2,1252.5 602.5,1252.5 603.8,1252.4 605.1,1252.4 606.4,1252.3 607.7,1252.2 609.0,1252.1 610.3,1251.9 611.6,1251.7 612.9,1251.5 614.2,1251.2 615.5,1250.9 616.8,1250.5 618.1,1250.0 619.4,1249.4 620.7,1248.6 622.0,1247.8 623.4,1246.7 624.7,1245.4 626.0,1243.8 627.3,1242.0 628.6,1239.8 629.9,1237.1 631.2,1234.0 632.5,1230.3 633.8,1226.1 635.1,1221.1 636.4,1215.5 637.7,1209.1 639.0,1202.1 640.3,1194.3 641.6,1185.9 642.9,1177.0 644.2,1167.7 645.5,1158.2 646.8,1148.7 648.1,1139.3 649.4,1130.3 650.7,1121.8 652.0,1113.9 653.3,1106.7 654.6,1100.3 655.9,1094.5 657.2,1089.5 658.5,1085.1 659.8,1081.3 661.1,1078.1 662.4,1075.4 663.7,1073.1 665.0,1071.2 666.3,1069.6 667.6,1068.3 668.9,1067.2 670.2,1066.3 671.5,1065.5 672.8,1064.9 674.1,1064.4 675.4,1064.0 676.7,1063.6 678.0,1063.3 679.3,1063.1 680.6,1062.9 681.9,1062.8 683.2,1062.6 684.5,1062.5 685.8,1062.4 687.1,1062.4 688.4,1062.3 689.7,1062.3 691.0,1062.2 692.3,1062.2 693.6,1062.2 694.9,1062.1 696.2,1062.1 697.5,1062.1 698.8,1062.1 700.1,1062.1 701.4,1062.1 702.7,1062.1 704.0,1062.1 705.3,1062.1 706.6,1062.1 707.9,1062.1 709.2,1062.1 710.5,1062.1 711.8,1062.1 713.1,1062.1 714.4,1062.1 715.7,1062.1 717.0,1062.1 718.3,1062.1 719.6,1062.1 720.9,1062.1 722.2,1062.1 723.5,1062.1 724.8,1062.1 726.1,1062.1 727.4,1062.1 728.7,1062.1 730.0,1062.1 731.3,1062.1 732.6,1062.1 733.9,1062.1 735.2,1062.1 736.5,1062.1 737.8,1062.1 739.1,1062.1 740.4,1062.1 741.7,1062.1 743.0,1062.1 744.3,1062.1 745.6,1062.1 746.9,1062.1 748.2,1062.1 749.5,1062.1 750.8,1062.1 752.1,1062.1 753.4,1062.1 754.7,1062.1 756.0,1062.1 757.3,1062.1 758.6,1062.1 759.9,1062.1 761.2,1062.1 762.5,1062.1 763.8,1062.1 765.1,1062.1 766.4,1062.1 767.7,1062.1 769.0,1062.1 770.3,1062.1 771.6,1062.1 772.9,1062.1 774.2,1062.1 775.5,1062.1 776.8,1062.1 778.1,1062.1 779.4,1062.1"/>
<polyline fill="none" stroke="#0a0aff" stroke-width="2.7" stroke-linecap="round" stroke-linejoin="round" stroke-dasharray="0.01 7.9" points="467.3,1252.7 468.6,1252.7 469.9,1252.7 471.2,1252.7 472.5,1252.7 473.8,1252.7 475.1,1252.7 476.4,1252.7 477.7,1252.7 479.0,1252.7 480.3,1252.7 481.6,1252.7 482.9,1252.7 484.2,1252.7 485.5,1252.7 486.8,1252.7 488.1,1252.7 489.4,1252.7 490.7,1252.7 492.0,1252.7 493.3,1252.7 494.6,1252.7 495.9,1252.7 497.2,1252.7 498.5,1252.7 499.8,1252.7 501.1,1252.7 502.4,1252.7 503.7,1252.7 505.0,1252.7 506.3,1252.7 507.6,1252.7 508.9,1252.7 510.2,1252.7 511.5,1252.7 512.8,1252.7 514.1,1252.7 515.4,1252.7 516.7,1252.7 518.0,1252.7 519.3,1252.7 520.6,1252.7 521.9,1252.7 523.2,1252.7 524.5,1252.7 525.8,1252.7 527.1,1252.7 528.4,1252.7 529.7,1252.7 531.0,1252.7 532.3,1252.7 533.6,1252.7 534.9,1252.7 536.2,1252.7 537.5,1252.7 538.8,1252.7 540.1,1252.7 541.4,1252.7 542.7,1252.7 544.0,1252.7 545.3,1252.7 546.6,1252.7 547.9,1252.7 549.2,1252.7 550.5,1252.7 551.8,1252.6 553.1,1252.6 554.4,1252.6 555.7,1252.6 557.0,1252.6 558.3,1252.6 559.6,1252.6 560.9,1252.5 562.2,1252.5 563.5,1252.5 564.8,1252.5 566.1,1252.4 567.4,1252.4 568.7,1252.3 570.0,1252.3 571.3,1252.2 572.6,1252.2 573.9,1252.1 575.2,1252.0 576.5,1252.0 577.8,1251.9 579.1,1251.8 580.4,1251.7 581.7,1251.6 583.0,1251.4 584.3,1251.3 585.6,1251.1 586.9,1250.9 588.2,1250.7 589.5,1250.5 590.8,1250.2 592.1,1249.9 593.4,1249.6 594.7,1249.3 596.0,1248.9 597.3,1248.5 598.6,1248.0 599.9,1247.5 601.2,1246.9 602.5,1246.3 603.8,1245.6 605.1,1244.8 606.4,1243.9 607.7,1243.0 609.0,1241.9 610.3,1240.8 611.6,1239.5 612.9,1238.1 614.2,1236.6 615.5,1235.0 616.8,1233.2 618.1,1231.2 619.4,1229.1 620.7,1226.7 622.0,1224.2 623.4,1221.5 624.7,1218.6 626.0,1215.5 627.3,1212.2 628.6,1208.7 629.9,1204.9 631.2,1201.0 632.5,1196.8 633.8,1192.5 635.1,1188.0 636.4,1183.3 637.7,1178.5 639.0,1173.6 640.3,1168.6 641.6,1163.5 642.9,1158.4 644.2,1153.3 645.5,1148.2 646.8,1143.2 648.1,1138.2 649.4,1133.4 650.7,1128.7 652.0,1124.1 653.3,1119.7 654.6,1115.5 655.9,1111.4 657.2,1107.6 658.5,1104.0 659.8,1100.6 661.1,1097.4 662.4,1094.4 663.7,1091.6 665.0,1089.0 666.3,1086.7 667.6,1084.4 668.9,1082.4 670.2,1080.5 671.5,1078.8 672.8,1077.3 674.1,1075.8 675.4,1074.5 676.7,1073.3 678.0,1072.2 679.3,1071.2 680.6,1070.3 681.9,1069.5 683.2,1068.8 684.5,1068.1 685.8,1067.5 687.1,1067.0 688.4,1066.5 689.7,1066.1 691.0,1065.7 692.3,1065.3 693.6,1065.0 694.9,1064.7 696.2,1064.4 697.5,1064.2 698.8,1064.0 700.1,1063.8 701.4,1063.6 702.7,1063.4 704.0,1063.3 705.3,1063.2 706.6,1063.1 707.9,1063.0 709.2,1062.9 710.5,1062.8 711.8,1062.7 713.1,1062.6 714.4,1062.6 715.7,1062.5 717.0,1062.5 718.3,1062.4 719.6,1062.4 720.9,1062.4 722.2,1062.3 723.5,1062.3 724.8,1062.3 726.1,1062.3 727.4,1062.2 728.7,1062.2 730.0,1062.2 731.3,1062.2 732.6,1062.2 733.9,1062.2 735.2,1062.1 736.5,1062.1 737.8,1062.1 739.1,1062.1 740.4,1062.1 741.7,1062.1 743.0,1062.1 744.3,1062.1 745.6,1062.1 746.9,1062.1 748.2,1062.1 749.5,1062.1 750.8,1062.1 752.1,1062.1 753.4,1062.1 754.7,1062.1 756.0,1062.1 757.3,1062.1 758.6,1062.1 759.9,1062.1 761.2,1062.1 762.5,1062.1 763.8,1062.1 765.1,1062.1 766.4,1062.1 767.7,1062.1 769.0,1062.1 770.3,1062.1 771.6,1062.1 772.9,1062.1 774.2,1062.1 775.5,1062.1 776.8,1062.1 778.1,1062.1 779.4,1062.1"/>
</g>
<path d="M467.30,1252.75 V1044.50 H779.40 V1252.75 Z" fill="none" stroke="#000" stroke-width="2.5"/>
<line x1="463.90" y1="1252.75" x2="467.30" y2="1252.75" stroke="#000" stroke-width="2.1"/>
<text x="462.10" y="1257.75" text-anchor="end" class="tk">0.0</text>
<line x1="463.90" y1="1157.88" x2="467.30" y2="1157.88" stroke="#000" stroke-width="2.1"/>
<text x="462.10" y="1162.88" text-anchor="end" class="tk">0.5</text>
<line x1="463.90" y1="1063.00" x2="467.30" y2="1063.00" stroke="#000" stroke-width="2.1"/>
<text x="462.10" y="1068.00" text-anchor="end" class="tk"><tspan class="one">1</tspan>.0</text>
<line x1="467.30" y1="1252.75" x2="467.30" y2="1256.35" stroke="#000" stroke-width="2.1"/>
<text x="467.30" y="1270.55" text-anchor="middle" class="tk">20</text>
<line x1="571.33" y1="1252.75" x2="571.33" y2="1256.35" stroke="#000" stroke-width="2.1"/>
<text x="571.33" y="1270.55" text-anchor="middle" class="tk">40</text>
<line x1="675.37" y1="1252.75" x2="675.37" y2="1256.35" stroke="#000" stroke-width="2.1"/>
<text x="675.37" y="1270.55" text-anchor="middle" class="tk">60</text>
<line x1="779.40" y1="1252.75" x2="779.40" y2="1256.35" stroke="#000" stroke-width="2.1"/>
<text x="779.40" y="1270.55" text-anchor="middle" class="tk">80</text>
<text x="623.35" y="1292.65" text-anchor="middle" class="ax">Temperature (<tspan class="deg" dy="-5.5">o</tspan><tspan dy="5.5">C)</tspan></text>
<text transform="translate(436.00,1143.08) rotate(-90)" text-anchor="middle" class="ay">Unfolded Fraction</text>
<text x="473.40" y="1061.10" class="ttl">Canton+Kaiping</text>
<text x="606.20" y="1085.90" text-anchor="end" class="hdr">T<tspan class="sub" dy="3">m</tspan><tspan dy="-3"> (C</tspan><tspan class="deg2" dy="-3.5">o</tspan><tspan dy="3.5">)</tspan></text>
<line x1="481.80" y1="1100.50" x2="490.00" y2="1100.50" stroke="#000" stroke-width="2.5"/>
<text x="496.90" y="1104.40" class="lg" xml:space="preserve">0 <tspan class="mu">µ</tspan>M NADP<tspan class="sup" dy="-4">+</tspan></text>
<text x="605.60" y="1104.40" text-anchor="end" class="lg">52.07</text>
<line x1="481.80" y1="1114.20" x2="488.60" y2="1114.20" stroke="#000" stroke-width="2.5"/>
<text x="496.90" y="1118.10" class="lg" xml:space="preserve"><tspan class="one">1</tspan>0 <tspan class="mu">µ</tspan>M NADP<tspan class="sup" dy="-4">+</tspan></text>
<text x="605.60" y="1118.10" text-anchor="end" class="lg">59.48</text>
<circle cx="482.40" cy="1129.00" r="0.9" fill="#000"/><circle cx="489.80" cy="1129.00" r="1.15" fill="#000"/>
<text x="496.90" y="1132.90" class="lg" xml:space="preserve"><tspan class="one">1</tspan>00 <tspan class="mu">µ</tspan>M NADP<tspan class="sup" dy="-4">+</tspan></text>
<text x="605.60" y="1132.90" text-anchor="end" class="lg">63.<tspan class="one">1</tspan><tspan class="one">1</tspan></text>
<line x1="481.00" y1="1143.80" x2="487.70" y2="1143.80" stroke="#0a0aff" stroke-width="2.6"/>
<text x="496.90" y="1147.70" class="lg" xml:space="preserve"><tspan class="one">1</tspan>0 <tspan class="mu">µ</tspan>M AG<tspan class="one">1</tspan></text>
<text x="605.60" y="1147.70" text-anchor="end" class="lg">54.32</text>
<circle cx="482.20" cy="1157.00" r="1.0" fill="#0a0aff"/><circle cx="489.40" cy="1157.00" r="1.25" fill="#0a0aff"/>
<text x="496.90" y="1160.90" class="lg" xml:space="preserve"><tspan class="one">1</tspan>00 <tspan class="mu">µ</tspan>M AG<tspan class="one">1</tspan></text>
<text x="605.60" y="1160.90" text-anchor="end" class="lg">53.85</text>
<g fill="#000"><path transform="translate(33.92,25.50) scale(0.01400,-0.01400)" d="M400 0L254 0L254 497Q180 430 40 389L40 512Q114 538 188 596Q262 654 290 700L400 700Z"/><path transform="translate(96.00,63.20) scale(0.01080,-0.01080)" d="M355 0L268 0L268 546Q236 516 181 484Q126 452 82 435L82 518Q157 553 213 604Q269 655 293 700L355 700Z"/><path transform="translate(96.00,77.20) scale(0.01080,-0.01080)" d="M355 0L268 0L268 546Q236 516 181 484Q126 452 82 435L82 518Q157 553 213 604Q269 655 293 700L355 700Z"/><path transform="translate(186.57,77.20) scale(0.01080,-0.01080)" d="M355 0L268 0L268 546Q236 516 181 484Q126 452 82 435L82 518Q157 553 213 604Q269 655 293 700L355 700Z"/><path transform="translate(96.00,92.20) scale(0.01080,-0.01080)" d="M355 0L268 0L268 546Q236 516 181 484Q126 452 82 435L82 518Q157 553 213 604Q269 655 293 700L355 700Z"/><path transform="translate(144.27,92.20) scale(0.01080,-0.01080)" d="M355 0L268 0L268 546Q236 516 181 484Q126 452 82 435L82 518Q157 553 213 604Q269 655 293 700L355 700Z"/><path transform="translate(96.00,105.70) scale(0.01080,-0.01080)" d="M355 0L268 0L268 546Q236 516 181 484Q126 452 82 435L82 518Q157 553 213 604Q269 655 293 700L355 700Z"/><path transform="translate(150.27,105.70) scale(0.01080,-0.01080)" d="M355 0L268 0L268 546Q236 516 181 484Q126 452 82 435L82 518Q157 553 213 604Q269 655 293 700L355 700Z"/><path transform="translate(443.02,26.00) scale(0.01400,-0.01400)" d="M400 0L254 0L254 497Q180 430 40 389L40 512Q114 538 188 596Q262 654 290 700L400 700Z"/><path transform="translate(499.60,68.80) scale(0.01080,-0.01080)" d="M355 0L268 0L268 546Q236 516 181 484Q126 452 82 435L82 518Q157 553 213 604Q269 655 293 700L355 700Z"/><path transform="translate(604.08,68.80) scale(0.01080,-0.01080)" d="M355 0L268 0L268 546Q236 516 181 484Q126 452 82 435L82 518Q157 553 213 604Q269 655 293 700L355 700Z"/><path transform="translate(499.60,83.60) scale(0.01080,-0.01080)" d="M355 0L268 0L268 546Q236 516 181 484Q126 452 82 435L82 518Q157 553 213 604Q269 655 293 700L355 700Z"/><path transform="translate(499.60,96.60) scale(0.01080,-0.01080)" d="M355 0L268 0L268 546Q236 516 181 484Q126 452 82 435L82 518Q157 553 213 604Q269 655 293 700L355 700Z"/><path transform="translate(550.87,96.60) scale(0.01080,-0.01080)" d="M355 0L268 0L268 546Q236 516 181 484Q126 452 82 435L82 518Q157 553 213 604Q269 655 293 700L355 700Z"/><path transform="translate(499.60,110.30) scale(0.01080,-0.01080)" d="M355 0L268 0L268 546Q236 516 181 484Q126 452 82 435L82 518Q157 553 213 604Q269 655 293 700L355 700Z"/><path transform="translate(553.87,110.30) scale(0.01080,-0.01080)" d="M355 0L268 0L268 546Q236 516 181 484Q126 452 82 435L82 518Q157 553 213 604Q269 655 293 700L355 700Z"/><path transform="translate(33.32,283.80) scale(0.01400,-0.01400)" d="M400 0L254 0L254 497Q180 430 40 389L40 512Q114 538 188 596Q262 654 290 700L400 700Z"/><path transform="translate(173.37,312.60) scale(0.01080,-0.01080)" d="M355 0L268 0L268 546Q236 516 181 484Q126 452 82 435L82 518Q157 553 213 604Q269 655 293 700L355 700Z"/><path transform="translate(85.10,326.30) scale(0.01080,-0.01080)" d="M355 0L268 0L268 546Q236 516 181 484Q126 452 82 435L82 518Q157 553 213 604Q269 655 293 700L355 700Z"/><path transform="translate(85.10,339.30) scale(0.01080,-0.01080)" d="M355 0L268 0L268 546Q236 516 181 484Q126 452 82 435L82 518Q157 553 213 604Q269 655 293 700L355 700Z"/><path transform="translate(182.37,339.30) scale(0.01080,-0.01080)" d="M355 0L268 0L268 546Q236 516 181 484Q126 452 82 435L82 518Q157 553 213 604Q269 655 293 700L355 700Z"/><path transform="translate(85.10,353.60) scale(0.01080,-0.01080)" d="M355 0L268 0L268 546Q236 516 181 484Q126 452 82 435L82 518Q157 553 213 604Q269 655 293 700L355 700Z"/><path transform="translate(133.37,353.60) scale(0.01080,-0.01080)" d="M355 0L268 0L268 546Q236 516 181 484Q126 452 82 435L82 518Q157 553 213 604Q269 655 293 700L355 700Z"/><path transform="translate(173.37,353.60) scale(0.01080,-0.01080)" d="M355 0L268 0L268 546Q236 516 181 484Q126 452 82 435L82 518Q157 553 213 604Q269 655 293 700L355 700Z"/><path transform="translate(85.10,366.80) scale(0.01080,-0.01080)" d="M355 0L268 0L268 546Q236 516 181 484Q126 452 82 435L82 518Q157 553 213 604Q269 655 293 700L355 700Z"/><path transform="translate(139.37,366.80) scale(0.01080,-0.01080)" d="M355 0L268 0L268 546Q236 516 181 484Q126 452 82 435L82 518Q157 553 213 604Q269 655 293 700L355 700Z"/><path transform="translate(442.92,284.00) scale(0.01400,-0.01400)" d="M400 0L254 0L254 497Q180 430 40 389L40 512Q114 538 188 596Q262 654 290 700L400 700Z"/><path transform="translate(495.10,331.30) scale(0.01080,-0.01080)" d="M355 0L268 0L268 546Q236 516 181 484Q126 452 82 435L82 518Q157 553 213 604Q269 655 293 700L355 700Z"/><path transform="translate(495.10,345.00) scale(0.01080,-0.01080)" d="M355 0L268 0L268 546Q236 516 181 484Q126 452 82 435L82 518Q157 553 213 604Q269 655 293 700L355 700Z"/><path transform="translate(588.97,345.00) scale(0.01080,-0.01080)" d="M355 0L268 0L268 546Q236 516 181 484Q126 452 82 435L82 518Q157 553 213 604Q269 655 293 700L355 700Z"/><path transform="translate(495.10,358.20) scale(0.01080,-0.01080)" d="M355 0L268 0L268 546Q236 516 181 484Q126 452 82 435L82 518Q157 553 213 604Q269 655 293 700L355 700Z"/><path transform="translate(543.37,358.20) scale(0.01080,-0.01080)" d="M355 0L268 0L268 546Q236 516 181 484Q126 452 82 435L82 518Q157 553 213 604Q269 655 293 700L355 700Z"/><path transform="translate(579.97,358.20) scale(0.01080,-0.01080)" d="M355 0L268 0L268 546Q236 516 181 484Q126 452 82 435L82 518Q157 553 213 604Q269 655 293 700L355 700Z"/><path transform="translate(495.10,371.40) scale(0.01080,-0.01080)" d="M355 0L268 0L268 546Q236 516 181 484Q126 452 82 435L82 518Q157 553 213 604Q269 655 293 700L355 700Z"/><path transform="translate(549.37,371.40) scale(0.01080,-0.01080)" d="M355 0L268 0L268 546Q236 516 181 484Q126 452 82 435L82 518Q157 553 213 604Q269 655 293 700L355 700Z"/><path transform="translate(32.12,545.90) scale(0.01400,-0.01400)" d="M400 0L254 0L254 497Q180 430 40 389L40 512Q114 538 188 596Q262 654 290 700L400 700Z"/><path transform="translate(171.77,572.50) scale(0.01080,-0.01080)" d="M355 0L268 0L268 546Q236 516 181 484Q126 452 82 435L82 518Q157 553 213 604Q269 655 293 700L355 700Z"/><path transform="translate(86.20,586.80) scale(0.01080,-0.01080)" d="M355 0L268 0L268 546Q236 516 181 484Q126 452 82 435L82 518Q157 553 213 604Q269 655 293 700L355 700Z"/><path transform="translate(86.20,600.30) scale(0.01080,-0.01080)" d="M355 0L268 0L268 546Q236 516 181 484Q126 452 82 435L82 518Q157 553 213 604Q269 655 293 700L355 700Z"/><path transform="translate(86.20,613.50) scale(0.01080,-0.01080)" d="M355 0L268 0L268 546Q236 516 181 484Q126 452 82 435L82 518Q157 553 213 604Q269 655 293 700L355 700Z"/><path transform="translate(134.45,613.50) scale(0.01080,-0.01080)" d="M355 0L268 0L268 546Q236 516 181 484Q126 452 82 435L82 518Q157 553 213 604Q269 655 293 700L355 700Z"/><path transform="translate(86.20,627.10) scale(0.01080,-0.01080)" d="M355 0L268 0L268 546Q236 516 181 484Q126 452 82 435L82 518Q157 553 213 604Q269 655 293 700L355 700Z"/><path transform="translate(140.45,627.10) scale(0.01080,-0.01080)" d="M355 0L268 0L268 546Q236 516 181 484Q126 452 82 435L82 518Q157 553 213 604Q269 655 293 700L355 700Z"/><path transform="translate(442.92,546.20) scale(0.01400,-0.01400)" d="M400 0L254 0L254 497Q180 430 40 389L40 512Q114 538 188 596Q262 654 290 700L400 700Z"/><path transform="translate(487.00,586.60) scale(0.01080,-0.01080)" d="M355 0L268 0L268 546Q236 516 181 484Q126 452 82 435L82 518Q157 553 213 604Q269 655 293 700L355 700Z"/><path transform="translate(487.00,600.30) scale(0.01080,-0.01080)" d="M355 0L268 0L268 546Q236 516 181 484Q126 452 82 435L82 518Q157 553 213 604Q269 655 293 700L355 700Z"/><path transform="translate(571.67,600.30) scale(0.01080,-0.01080)" d="M355 0L268 0L268 546Q236 516 181 484Q126 452 82 435L82 518Q157 553 213 604Q269 655 293 700L355 700Z"/><path transform="translate(487.00,614.60) scale(0.01080,-0.01080)" d="M355 0L268 0L268 546Q236 516 181 484Q126 452 82 435L82 518Q157 553 213 604Q269 655 293 700L355 700Z"/><path transform="translate(535.27,614.60) scale(0.01080,-0.01080)" d="M355 0L268 0L268 546Q236 516 181 484Q126 452 82 435L82 518Q157 553 213 604Q269 655 293 700L355 700Z"/><path transform="translate(487.00,627.10) scale(0.01080,-0.01080)" d="M355 0L268 0L268 546Q236 516 181 484Q126 452 82 435L82 518Q157 553 213 604Q269 655 293 700L355 700Z"/><path transform="translate(544.03,627.10) scale(0.01080,-0.01080)" d="M355 0L268 0L268 546Q236 516 181 484Q126 452 82 435L82 518Q157 553 213 604Q269 655 293 700L355 700Z"/><path transform="translate(33.12,807.40) scale(0.01400,-0.01400)" d="M400 0L254 0L254 497Q180 430 40 389L40 512Q114 538 188 596Q262 654 290 700L400 700Z"/><path transform="translate(176.37,832.20) scale(0.01080,-0.01080)" d="M355 0L268 0L268 546Q236 516 181 484Q126 452 82 435L82 518Q157 553 213 604Q269 655 293 700L355 700Z"/><path transform="translate(85.50,847.00) scale(0.01080,-0.01080)" d="M355 0L268 0L268 546Q236 516 181 484Q126 452 82 435L82 518Q157 553 213 604Q269 655 293 700L355 700Z"/><path transform="translate(185.37,847.00) scale(0.01080,-0.01080)" d="M355 0L268 0L268 546Q236 516 181 484Q126 452 82 435L82 518Q157 553 213 604Q269 655 293 700L355 700Z"/><path transform="translate(85.50,862.90) scale(0.01080,-0.01080)" d="M355 0L268 0L268 546Q236 516 181 484Q126 452 82 435L82 518Q157 553 213 604Q269 655 293 700L355 700Z"/><path transform="translate(185.37,862.90) scale(0.01080,-0.01080)" d="M355 0L268 0L268 546Q236 516 181 484Q126 452 82 435L82 518Q157 553 213 604Q269 655 293 700L355 700Z"/><path transform="translate(85.50,876.60) scale(0.01080,-0.01080)" d="M355 0L268 0L268 546Q236 516 181 484Q126 452 82 435L82 518Q157 553 213 604Q269 655 293 700L355 700Z"/><path transform="translate(136.77,876.60) scale(0.01080,-0.01080)" d="M355 0L268 0L268 546Q236 516 181 484Q126 452 82 435L82 518Q157 553 213 604Q269 655 293 700L355 700Z"/><path transform="translate(176.35,876.60) scale(0.01080,-0.01080)" d="M355 0L268 0L268 546Q236 516 181 484Q126 452 82 435L82 518Q157 553 213 604Q269 655 293 700L355 700Z"/><path transform="translate(185.37,876.60) scale(0.01080,-0.01080)" d="M355 0L268 0L268 546Q236 516 181 484Q126 452 82 435L82 518Q157 553 213 604Q269 655 293 700L355 700Z"/><path transform="translate(85.50,889.80) scale(0.01080,-0.01080)" d="M355 0L268 0L268 546Q236 516 181 484Q126 452 82 435L82 518Q157 553 213 604Q269 655 293 700L355 700Z"/><path transform="translate(139.77,889.80) scale(0.01080,-0.01080)" d="M355 0L268 0L268 546Q236 516 181 484Q126 452 82 435L82 518Q157 553 213 604Q269 655 293 700L355 700Z"/><path transform="translate(443.32,807.10) scale(0.01400,-0.01400)" d="M400 0L254 0L254 497Q180 430 40 389L40 512Q114 538 188 596Q262 654 290 700L400 700Z"/><path transform="translate(594.67,840.80) scale(0.01080,-0.01080)" d="M355 0L268 0L268 546Q236 516 181 484Q126 452 82 435L82 518Q157 553 213 604Q269 655 293 700L355 700Z"/><path transform="translate(500.80,854.50) scale(0.01080,-0.01080)" d="M355 0L268 0L268 546Q236 516 181 484Q126 452 82 435L82 518Q157 553 213 604Q269 655 293 700L355 700Z"/><path transform="translate(600.68,854.50) scale(0.01080,-0.01080)" d="M355 0L268 0L268 546Q236 516 181 484Q126 452 82 435L82 518Q157 553 213 604Q269 655 293 700L355 700Z"/><path transform="translate(500.80,868.60) scale(0.01080,-0.01080)" d="M355 0L268 0L268 546Q236 516 181 484Q126 452 82 435L82 518Q157 553 213 604Q269 655 293 700L355 700Z"/><path transform="translate(500.80,882.30) scale(0.01080,-0.01080)" d="M355 0L268 0L268 546Q236 516 181 484Q126 452 82 435L82 518Q157 553 213 604Q269 655 293 700L355 700Z"/><path transform="translate(549.07,882.30) scale(0.01080,-0.01080)" d="M355 0L268 0L268 546Q236 516 181 484Q126 452 82 435L82 518Q157 553 213 604Q269 655 293 700L355 700Z"/><path transform="translate(500.80,895.50) scale(0.01080,-0.01080)" d="M355 0L268 0L268 546Q236 516 181 484Q126 452 82 435L82 518Q157 553 213 604Q269 655 293 700L355 700Z"/><path transform="translate(555.07,895.50) scale(0.01080,-0.01080)" d="M355 0L268 0L268 546Q236 516 181 484Q126 452 82 435L82 518Q157 553 213 604Q269 655 293 700L355 700Z"/><path transform="translate(33.02,1069.30) scale(0.01400,-0.01400)" d="M400 0L254 0L254 497Q180 430 40 389L40 512Q114 538 188 596Q262 654 290 700L400 700Z"/><path transform="translate(84.60,1111.30) scale(0.01080,-0.01080)" d="M355 0L268 0L268 546Q236 516 181 484Q126 452 82 435L82 518Q157 553 213 604Q269 655 293 700L355 700Z"/><path transform="translate(185.68,1111.30) scale(0.01080,-0.01080)" d="M355 0L268 0L268 546Q236 516 181 484Q126 452 82 435L82 518Q157 553 213 604Q269 655 293 700L355 700Z"/><path transform="translate(84.60,1124.90) scale(0.01080,-0.01080)" d="M355 0L268 0L268 546Q236 516 181 484Q126 452 82 435L82 518Q157 553 213 604Q269 655 293 700L355 700Z"/><path transform="translate(179.67,1124.90) scale(0.01080,-0.01080)" d="M355 0L268 0L268 546Q236 516 181 484Q126 452 82 435L82 518Q157 553 213 604Q269 655 293 700L355 700Z"/><path transform="translate(84.60,1139.80) scale(0.01080,-0.01080)" d="M355 0L268 0L268 546Q236 516 181 484Q126 452 82 435L82 518Q157 553 213 604Q269 655 293 700L355 700Z"/><path transform="translate(135.87,1139.80) scale(0.01080,-0.01080)" d="M355 0L268 0L268 546Q236 516 181 484Q126 452 82 435L82 518Q157 553 213 604Q269 655 293 700L355 700Z"/><path transform="translate(84.60,1153.00) scale(0.01080,-0.01080)" d="M355 0L268 0L268 546Q236 516 181 484Q126 452 82 435L82 518Q157 553 213 604Q269 655 293 700L355 700Z"/><path transform="translate(138.87,1153.00) scale(0.01080,-0.01080)" d="M355 0L268 0L268 546Q236 516 181 484Q126 452 82 435L82 518Q157 553 213 604Q269 655 293 700L355 700Z"/><path transform="translate(442.62,1068.00) scale(0.01400,-0.01400)" d="M400 0L254 0L254 497Q180 430 40 389L40 512Q114 538 188 596Q262 654 290 700L400 700Z"/><path transform="translate(496.90,1118.10) scale(0.01080,-0.01080)" d="M355 0L268 0L268 546Q236 516 181 484Q126 452 82 435L82 518Q157 553 213 604Q269 655 293 700L355 700Z"/><path transform="translate(496.90,1132.90) scale(0.01080,-0.01080)" d="M355 0L268 0L268 546Q236 516 181 484Q126 452 82 435L82 518Q157 553 213 604Q269 655 293 700L355 700Z"/><path transform="translate(594.37,1132.90) scale(0.01080,-0.01080)" d="M355 0L268 0L268 546Q236 516 181 484Q126 452 82 435L82 518Q157 553 213 604Q269 655 293 700L355 700Z"/><path transform="translate(599.58,1132.90) scale(0.01080,-0.01080)" d="M355 0L268 0L268 546Q236 516 181 484Q126 452 82 435L82 518Q157 553 213 604Q269 655 293 700L355 700Z"/><path transform="translate(496.90,1147.70) scale(0.01080,-0.01080)" d="M355 0L268 0L268 546Q236 516 181 484Q126 452 82 435L82 518Q157 553 213 604Q269 655 293 700L355 700Z"/><path transform="translate(545.17,1147.70) scale(0.01080,-0.01080)" d="M355 0L268 0L268 546Q236 516 181 484Q126 452 82 435L82 518Q157 553 213 604Q269 655 293 700L355 700Z"/><path transform="translate(496.90,1160.90) scale(0.01080,-0.01080)" d="M355 0L268 0L268 546Q236 516 181 484Q126 452 82 435L82 518Q157 553 213 604Q269 655 293 700L355 700Z"/><path transform="translate(551.17,1160.90) scale(0.01080,-0.01080)" d="M355 0L268 0L268 546Q236 516 181 484Q126 452 82 435L82 518Q157 553 213 604Q269 655 293 700L355 700Z"/></g>
</svg></body></html>
